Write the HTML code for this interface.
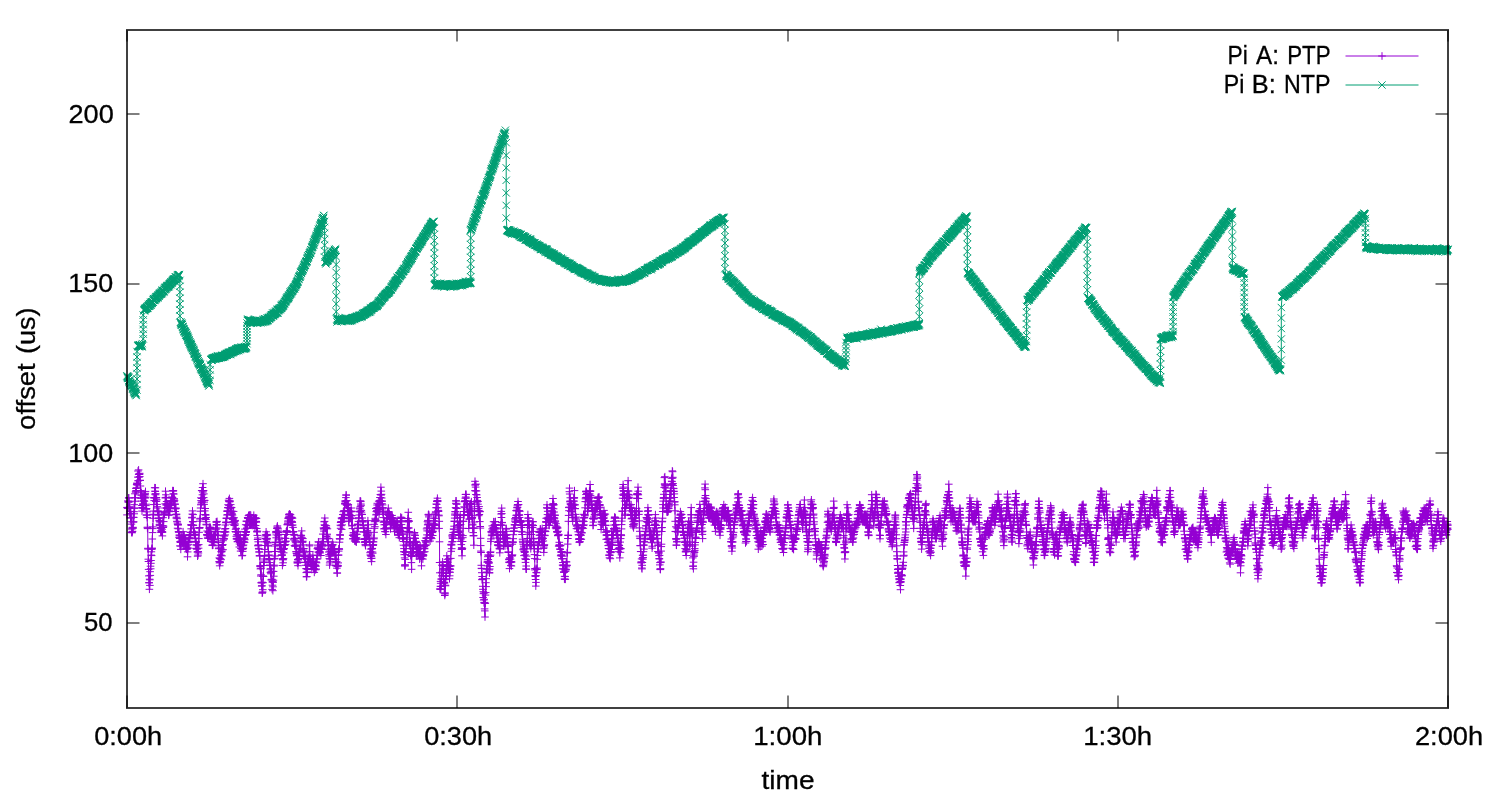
<!DOCTYPE html>
<html><head><meta charset="utf-8"><title>offset plot</title>
<style>
html,body{margin:0;padding:0;background:#fff;}
svg{display:block;}
text{font-family:"Liberation Sans",sans-serif;fill:#000;}
</style></head><body>
<svg width="1500" height="800" viewBox="0 0 1500 800">
<rect width="1500" height="800" fill="#fff"/>
<defs>
<marker id="mp" markerUnits="userSpaceOnUse" markerWidth="10" markerHeight="10" refX="5" refY="5" viewBox="0 0 10 10"><path d="M1.2 5H8.8M5 1.2V8.8" stroke="#9400D3" stroke-width="1" fill="none"/></marker>
<marker id="mx" markerUnits="userSpaceOnUse" markerWidth="10" markerHeight="10" refX="5" refY="5" viewBox="0 0 10 10"><path d="M1.35 1.35L8.65 8.65M1.35 8.65L8.65 1.35" stroke="#009E73" stroke-width="1" fill="none"/></marker>
</defs>
<!--TICKS-->
<g stroke="#000" stroke-opacity="0.5" stroke-width="2" fill="none">
<path d="M127 114H139.5M127 284H139.5M127 453H139.5M127 623H139.5"/>
<path d="M1448 114H1435.5M1448 284H1435.5M1448 453H1435.5M1448 623H1435.5"/>
<path d="M127 708V695.5M457 708V695.5M788 708V695.5M1118 708V695.5M1448 708V695.5"/>
<path d="M127 30V41.5M457 30V41.5M788 30V41.5M1118 30V41.5M1448 30V41.5"/>
</g>
<!--DATA-->
<polyline points="127.0,514.9 127.2,507.5 127.4,507.4 127.6,508.2 127.7,508.1 127.9,500.9 128.1,507.7 128.3,502.1 128.5,501.8 128.7,497.9 128.8,497.9 129.0,501.9 129.2,508.2 129.4,508.1 129.6,507.1 129.8,513.8 129.9,506.9 130.1,513.5 130.3,511.4 130.5,511.6 130.7,517.7 130.9,511.6 131.0,521.8 131.2,518.1 131.4,524.1 131.6,532.5 131.8,529.1 132.0,528.0 132.1,532.8 132.3,531.7 132.5,531.3 132.7,528.1 132.9,527.3 133.1,528.1 133.2,517.3 133.4,522.2 133.6,521.7 133.8,517.4 134.0,511.7 134.2,513.8 134.3,504.7 134.5,508.3 134.7,508.0 134.9,493.8 135.1,501.2 135.3,497.7 135.4,497.9 135.6,491.9 135.8,492.0 136.0,488.5 136.2,490.7 136.4,490.6 136.5,487.7 136.7,484.5 136.9,483.1 137.1,483.9 137.3,485.2 137.5,483.6 137.6,483.9 137.8,477.1 138.0,471.0 138.2,480.8 138.4,480.7 138.6,469.9 138.7,474.4 138.9,474.1 139.1,477.1 139.3,474.1 139.5,474.5 139.7,473.3 139.8,476.6 140.0,480.3 140.2,480.4 140.4,486.0 140.6,490.7 140.8,495.0 140.9,490.9 141.1,498.4 141.3,492.8 141.5,501.1 141.7,495.2 141.9,505.5 142.0,511.1 142.2,507.5 142.4,508.2 142.6,497.2 142.8,507.8 143.0,503.7 143.1,504.6 143.3,504.6 143.5,505.5 143.7,508.2 143.9,500.8 144.1,494.4 144.2,497.1 144.4,501.2 144.6,497.7 144.8,494.7 145.0,494.9 145.2,493.3 145.3,498.0 145.5,491.4 145.7,497.2 145.9,505.6 146.1,504.2 146.3,509.3 146.4,515.2 146.6,508.5 146.8,514.9 147.0,511.9 147.2,517.6 147.4,527.9 147.5,527.2 147.7,528.6 147.9,548.3 148.1,549.1 148.3,559.2 148.5,561.5 148.6,569.4 148.8,575.9 149.0,582.7 149.2,582.8 149.4,589.3 149.6,579.2 149.8,579.8 149.9,585.4 150.1,571.7 150.3,575.4 150.5,566.2 150.7,568.8 150.9,563.3 151.0,560.5 151.2,555.1 151.4,551.8 151.6,555.6 151.8,549.4 152.0,548.6 152.1,548.1 152.3,539.0 152.5,532.6 152.7,526.9 152.9,528.6 153.1,518.3 153.2,514.3 153.4,511.1 153.6,514.9 153.8,504.6 154.0,497.7 154.2,500.6 154.3,498.0 154.5,497.5 154.7,487.7 154.9,494.1 155.1,491.1 155.3,491.5 155.4,487.8 155.6,494.8 155.8,493.7 156.0,501.5 156.2,498.0 156.4,497.5 156.5,501.1 156.7,499.7 156.9,508.0 157.1,504.4 157.3,506.7 157.5,511.7 157.6,511.0 157.8,511.5 158.0,511.2 158.2,515.0 158.4,514.8 158.6,518.0 158.7,518.4 158.9,511.8 159.1,520.3 159.3,525.0 159.5,521.2 159.7,524.3 159.8,525.7 160.0,522.1 160.2,521.0 160.4,527.7 160.6,532.2 160.8,528.0 160.9,528.1 161.1,530.6 161.3,528.3 161.5,532.3 161.7,531.5 161.9,531.7 162.0,529.3 162.2,532.2 162.4,535.9 162.6,532.1 162.8,525.6 163.0,527.4 163.1,517.7 163.3,527.4 163.5,526.2 163.7,521.6 163.9,514.7 164.1,514.4 164.2,514.2 164.4,513.2 164.6,512.6 164.8,511.3 165.0,508.0 165.2,503.8 165.3,497.8 165.5,491.2 165.7,497.8 165.9,494.8 166.1,497.4 166.3,504.8 166.4,505.1 166.6,501.5 166.8,508.2 167.0,507.9 167.2,504.1 167.4,508.3 167.5,507.8 167.7,504.1 167.9,505.0 168.1,503.7 168.3,507.7 168.5,508.4 168.6,515.3 168.8,511.2 169.0,514.8 169.2,511.7 169.4,504.6 169.6,511.0 169.7,504.8 169.9,511.5 170.1,508.0 170.3,505.2 170.5,508.2 170.7,501.0 170.8,504.7 171.0,505.7 171.2,500.8 171.4,504.5 171.6,497.4 171.8,501.4 172.0,497.1 172.1,501.5 172.3,498.2 172.5,497.4 172.7,490.6 172.9,500.4 173.1,491.1 173.2,493.8 173.4,490.7 173.6,501.0 173.8,494.0 174.0,501.7 174.2,498.7 174.3,500.0 174.5,500.8 174.7,508.1 174.9,504.0 175.1,504.3 175.3,511.5 175.4,508.8 175.6,508.6 175.8,514.6 176.0,508.1 176.2,518.0 176.4,514.7 176.5,514.1 176.7,517.2 176.9,521.3 177.1,518.7 177.3,522.0 177.5,523.9 177.6,528.2 177.8,524.6 178.0,525.1 178.2,524.3 178.4,528.8 178.6,531.6 178.7,532.0 178.9,532.2 179.1,537.4 179.3,535.0 179.5,535.9 179.7,538.5 179.8,545.9 180.0,535.3 180.2,541.6 180.4,542.0 180.6,542.5 180.8,549.4 180.9,546.1 181.1,541.3 181.3,535.6 181.5,541.1 181.7,538.4 181.9,538.4 182.0,538.8 182.2,538.7 182.4,542.6 182.6,541.6 182.8,542.4 183.0,538.7 183.1,531.7 183.3,541.2 183.5,542.2 183.7,535.3 183.9,535.5 184.1,541.9 184.2,535.0 184.4,542.1 184.6,538.8 184.8,538.9 185.0,542.9 185.2,538.2 185.3,543.0 185.5,543.7 185.7,539.0 185.9,548.2 186.1,546.4 186.3,548.2 186.4,549.3 186.6,548.1 186.8,548.0 187.0,545.7 187.2,549.1 187.4,548.3 187.5,556.8 187.7,551.9 187.9,542.7 188.1,548.1 188.3,544.7 188.5,541.9 188.6,541.3 188.8,542.1 189.0,537.3 189.2,538.6 189.4,538.2 189.6,534.6 189.7,538.6 189.9,538.4 190.1,534.9 190.3,532.2 190.5,535.3 190.7,535.3 190.8,532.4 191.0,524.9 191.2,528.8 191.4,524.7 191.6,525.3 191.8,525.2 191.9,517.9 192.1,517.3 192.3,514.1 192.5,510.9 192.7,521.9 192.9,521.5 193.1,514.6 193.2,525.2 193.4,525.3 193.6,532.5 193.8,528.0 194.0,532.0 194.2,532.1 194.3,534.6 194.5,535.2 194.7,534.6 194.9,535.0 195.1,538.7 195.3,534.2 195.4,538.0 195.6,541.4 195.8,541.9 196.0,548.3 196.2,542.1 196.4,544.8 196.5,545.0 196.7,549.0 196.9,548.8 197.1,548.8 197.3,552.0 197.5,545.8 197.6,556.2 197.8,551.9 198.0,555.1 198.2,551.5 198.4,553.0 198.6,548.2 198.7,544.6 198.9,538.6 199.1,532.3 199.3,527.7 199.5,528.3 199.7,527.5 199.8,521.2 200.0,519.0 200.2,518.3 200.4,511.2 200.6,508.0 200.8,504.8 200.9,497.8 201.1,500.6 201.3,504.0 201.5,502.3 201.7,490.6 201.9,498.5 202.0,490.6 202.2,501.9 202.4,494.8 202.6,487.5 202.8,492.1 203.0,483.7 203.1,490.9 203.3,490.6 203.5,490.6 203.7,497.6 203.9,493.9 204.1,504.4 204.2,502.1 204.4,500.3 204.6,500.5 204.8,510.9 205.0,514.5 205.2,508.5 205.3,518.6 205.5,515.0 205.7,514.9 205.9,519.5 206.1,517.5 206.3,524.3 206.4,524.9 206.6,521.7 206.8,535.0 207.0,534.6 207.2,531.0 207.4,535.0 207.5,534.7 207.7,538.2 207.9,537.9 208.1,535.8 208.3,532.0 208.5,532.7 208.6,534.8 208.8,531.8 209.0,538.4 209.2,528.3 209.4,531.6 209.6,528.2 209.7,527.3 209.9,531.6 210.1,528.7 210.3,527.3 210.5,528.1 210.7,535.4 210.8,529.0 211.0,538.5 211.2,535.4 211.4,536.1 211.6,539.2 211.8,541.6 211.9,538.2 212.1,539.1 212.3,545.4 212.5,545.0 212.7,538.4 212.9,542.1 213.0,545.2 213.2,541.8 213.4,535.0 213.6,541.1 213.8,539.4 214.0,539.2 214.1,542.7 214.3,535.0 214.5,535.2 214.7,535.4 214.9,535.6 215.1,534.1 215.3,535.3 215.4,531.2 215.6,535.1 215.8,528.0 216.0,529.3 216.2,521.8 216.4,524.9 216.5,522.3 216.7,524.9 216.9,524.5 217.1,521.4 217.3,528.1 217.5,531.7 217.6,535.6 217.8,531.7 218.0,535.1 218.2,542.4 218.4,542.0 218.6,545.8 218.7,548.7 218.9,548.0 219.1,561.6 219.3,557.9 219.5,562.9 219.7,565.8 219.8,558.6 220.0,561.7 220.2,562.4 220.4,558.8 220.6,555.6 220.8,555.0 220.9,548.1 221.1,559.7 221.3,551.5 221.5,552.0 221.7,549.4 221.9,551.1 222.0,555.8 222.2,545.3 222.4,545.2 222.6,538.6 222.8,544.6 223.0,540.7 223.1,549.7 223.3,538.3 223.5,539.0 223.7,535.7 223.9,538.7 224.1,532.0 224.2,538.9 224.4,536.0 224.6,532.0 224.8,529.0 225.0,531.6 225.2,534.9 225.3,525.0 225.5,528.5 225.7,532.0 225.9,522.6 226.1,522.0 226.3,518.2 226.4,522.6 226.6,518.3 226.8,518.4 227.0,515.0 227.2,511.2 227.4,510.8 227.5,511.5 227.7,514.6 227.9,507.5 228.1,504.7 228.3,507.9 228.5,507.7 228.6,500.2 228.8,501.1 229.0,505.6 229.2,501.7 229.4,498.4 229.6,501.2 229.7,501.8 229.9,507.6 230.1,501.0 230.3,508.3 230.5,507.2 230.7,504.6 230.8,511.5 231.0,512.3 231.2,507.6 231.4,518.4 231.6,507.6 231.8,511.1 231.9,513.3 232.1,514.3 232.3,518.8 232.5,515.1 232.7,518.2 232.9,519.5 233.0,521.8 233.2,524.3 233.4,518.1 233.6,511.4 233.8,522.4 234.0,517.7 234.1,521.8 234.3,525.5 234.5,521.1 234.7,521.6 234.9,523.8 235.1,525.0 235.2,520.4 235.4,531.5 235.6,529.3 235.8,531.9 236.0,531.8 236.2,528.4 236.3,536.3 236.5,538.8 236.7,539.1 236.9,538.3 237.1,534.9 237.3,534.5 237.5,541.8 237.6,541.5 237.8,539.0 238.0,532.1 238.2,535.0 238.4,531.4 238.6,540.3 238.7,538.2 238.9,538.7 239.1,538.9 239.3,547.0 239.5,544.0 239.7,538.6 239.8,541.3 240.0,538.4 240.2,534.9 240.4,542.2 240.6,551.1 240.8,548.4 240.9,545.8 241.1,545.4 241.3,544.8 241.5,548.9 241.7,542.0 241.9,541.4 242.0,555.8 242.2,549.0 242.4,555.4 242.6,549.2 242.8,551.4 243.0,545.7 243.1,548.6 243.3,548.2 243.5,545.0 243.7,539.1 243.9,541.6 244.1,538.3 244.2,534.8 244.4,538.1 244.6,542.4 244.8,539.7 245.0,529.1 245.2,535.4 245.3,535.5 245.5,531.5 245.7,524.7 245.9,534.5 246.1,532.5 246.3,531.5 246.4,521.2 246.6,521.2 246.8,528.4 247.0,528.0 247.2,525.0 247.4,521.6 247.5,525.7 247.7,517.5 247.9,518.3 248.1,517.8 248.3,517.9 248.5,515.7 248.6,518.5 248.8,518.0 249.0,515.0 249.2,524.9 249.4,515.4 249.6,521.3 249.7,525.2 249.9,524.8 250.1,514.8 250.3,524.9 250.5,524.6 250.7,525.0 250.8,515.3 251.0,517.8 251.2,521.3 251.4,518.4 251.6,524.5 251.8,522.0 251.9,525.3 252.1,523.7 252.3,517.8 252.5,521.0 252.7,522.0 252.9,525.5 253.0,524.3 253.2,521.2 253.4,524.9 253.6,518.0 253.8,515.2 254.0,522.1 254.1,521.9 254.3,518.8 254.5,518.7 254.7,521.5 254.9,528.1 255.1,517.8 255.2,518.6 255.4,518.6 255.6,525.5 255.8,518.0 256.0,521.3 256.2,521.7 256.3,522.2 256.5,518.4 256.7,528.5 256.9,531.3 257.1,532.0 257.3,535.4 257.4,531.2 257.6,539.5 257.8,538.0 258.0,545.8 258.2,541.8 258.4,545.4 258.5,544.9 258.7,548.4 258.9,549.1 259.1,552.0 259.3,551.9 259.5,555.9 259.7,555.8 259.8,555.5 260.0,565.8 260.2,566.6 260.4,568.9 260.6,565.8 260.8,576.0 260.9,568.3 261.1,574.8 261.3,582.6 261.5,583.0 261.7,586.1 261.9,585.7 262.0,582.2 262.2,593.2 262.4,592.6 262.6,591.9 262.8,589.7 263.0,582.7 263.1,576.0 263.3,576.4 263.5,576.5 263.7,562.5 263.9,565.5 264.1,561.1 264.2,559.0 264.4,555.4 264.6,556.2 264.8,549.4 265.0,545.5 265.2,535.9 265.3,541.9 265.5,538.5 265.7,534.7 265.9,538.3 266.1,531.8 266.3,539.1 266.4,541.5 266.6,535.6 266.8,539.8 267.0,534.4 267.2,538.4 267.4,535.1 267.5,542.4 267.7,543.0 267.9,546.0 268.1,545.3 268.3,551.6 268.5,552.0 268.6,555.4 268.8,559.0 269.0,555.0 269.2,559.7 269.4,558.5 269.6,562.6 269.7,559.0 269.9,565.0 270.1,569.1 270.3,565.6 270.5,572.3 270.7,572.8 270.8,568.8 271.0,573.8 271.2,579.8 271.4,571.9 271.6,571.1 271.8,579.9 271.9,579.3 272.1,589.4 272.3,582.0 272.5,585.2 272.7,581.6 272.9,590.7 273.0,586.8 273.2,582.3 273.4,580.2 273.6,571.4 273.8,576.2 274.0,566.0 274.1,565.2 274.3,558.6 274.5,551.5 274.7,558.9 274.9,546.0 275.1,556.0 275.2,542.1 275.4,542.5 275.6,544.3 275.8,532.8 276.0,531.7 276.2,537.8 276.3,534.9 276.5,531.4 276.7,531.8 276.9,528.5 277.1,527.1 277.3,532.4 277.4,525.9 277.6,527.8 277.8,532.5 278.0,535.8 278.2,528.9 278.4,532.6 278.5,531.0 278.7,532.1 278.9,537.9 279.1,539.8 279.3,534.6 279.5,534.4 279.6,542.5 279.8,545.6 280.0,548.7 280.2,542.0 280.4,545.6 280.6,549.6 280.7,548.3 280.9,545.0 281.1,548.4 281.3,555.4 281.5,552.1 281.7,551.4 281.9,548.8 282.0,554.8 282.2,555.3 282.4,565.5 282.6,558.7 282.8,559.7 283.0,559.7 283.1,562.8 283.3,549.5 283.5,558.7 283.7,552.8 283.9,548.6 284.1,548.8 284.2,545.4 284.4,544.5 284.6,538.2 284.8,545.2 285.0,542.1 285.2,538.4 285.3,541.4 285.5,544.6 285.7,538.5 285.9,534.5 286.1,541.2 286.3,531.7 286.4,531.8 286.6,531.3 286.8,530.7 287.0,531.9 287.2,532.2 287.4,524.7 287.5,524.7 287.7,523.7 287.9,522.0 288.1,520.9 288.3,518.6 288.5,517.8 288.6,518.1 288.8,514.7 289.0,517.2 289.2,516.3 289.4,513.9 289.6,514.8 289.7,514.3 289.9,518.0 290.1,518.9 290.3,517.1 290.5,514.7 290.7,521.8 290.8,521.6 291.0,518.4 291.2,521.1 291.4,517.3 291.6,517.4 291.8,517.9 291.9,525.3 292.1,521.6 292.3,522.4 292.5,518.2 292.7,525.0 292.9,531.8 293.0,527.4 293.2,532.0 293.4,534.5 293.6,531.5 293.8,539.8 294.0,534.4 294.1,538.6 294.3,535.3 294.5,545.4 294.7,538.5 294.9,538.2 295.1,546.4 295.2,540.8 295.4,541.3 295.6,542.7 295.8,545.6 296.0,544.9 296.2,551.6 296.3,551.9 296.5,553.5 296.7,555.7 296.9,554.9 297.1,555.6 297.3,561.9 297.4,563.1 297.6,562.4 297.8,559.5 298.0,565.7 298.2,560.0 298.4,562.5 298.5,559.0 298.7,554.9 298.9,551.8 299.1,552.3 299.3,558.6 299.5,550.0 299.6,548.7 299.8,551.6 300.0,549.2 300.2,548.4 300.4,538.7 300.6,538.4 300.7,548.3 300.9,535.9 301.1,535.2 301.3,535.7 301.5,538.3 301.7,530.9 301.8,537.8 302.0,538.2 302.2,541.8 302.4,541.9 302.6,542.2 302.8,541.2 302.9,538.6 303.1,551.4 303.3,544.9 303.5,550.1 303.7,556.2 303.9,548.5 304.1,556.4 304.2,552.8 304.4,555.9 304.6,556.3 304.8,555.3 305.0,562.2 305.2,558.4 305.3,555.8 305.5,558.2 305.7,565.3 305.9,562.5 306.1,568.7 306.3,572.6 306.4,576.8 306.6,568.5 306.8,576.6 307.0,568.6 307.2,571.9 307.4,572.5 307.5,569.6 307.7,565.2 307.9,561.8 308.1,558.6 308.3,558.4 308.5,562.3 308.6,561.8 308.8,558.7 309.0,559.0 309.2,555.2 309.4,545.9 309.6,544.9 309.7,551.6 309.9,556.6 310.1,563.1 310.3,562.3 310.5,559.3 310.7,562.4 310.8,565.3 311.0,562.6 311.2,562.4 311.4,566.3 311.6,564.6 311.8,569.5 311.9,565.7 312.1,565.2 312.3,562.0 312.5,562.0 312.7,564.9 312.9,555.1 313.0,566.1 313.2,564.8 313.4,565.4 313.6,560.9 313.8,568.7 314.0,565.8 314.1,569.0 314.3,572.4 314.5,565.0 314.7,569.3 314.9,565.1 315.1,566.1 315.2,565.7 315.4,565.4 315.6,569.8 315.8,562.0 316.0,566.2 316.2,569.1 316.3,562.2 316.5,562.8 316.7,559.1 316.9,558.8 317.1,555.4 317.3,555.6 317.4,548.7 317.6,545.1 317.8,548.1 318.0,547.2 318.2,552.0 318.4,541.8 318.5,549.3 318.7,542.1 318.9,552.7 319.1,549.6 319.3,548.6 319.5,551.6 319.6,549.1 319.8,548.3 320.0,551.9 320.2,552.9 320.4,549.0 320.6,549.3 320.7,544.5 320.9,555.5 321.1,549.3 321.3,548.0 321.5,548.8 321.7,545.5 321.8,544.0 322.0,549.5 322.2,544.9 322.4,545.2 322.6,546.2 322.8,534.1 322.9,538.8 323.1,541.6 323.3,541.9 323.5,527.9 323.7,529.1 323.9,531.1 324.0,528.5 324.2,521.8 324.4,524.9 324.6,521.4 324.8,518.0 325.0,525.5 325.1,525.2 325.3,528.3 325.5,527.7 325.7,528.4 325.9,528.6 326.1,528.3 326.3,525.7 326.4,527.3 326.6,536.5 326.8,535.0 327.0,537.9 327.2,534.2 327.4,528.8 327.5,538.8 327.7,541.8 327.9,538.5 328.1,538.6 328.3,545.0 328.5,549.3 328.6,545.6 328.8,552.0 329.0,554.6 329.2,556.2 329.4,558.6 329.6,565.1 329.7,562.9 329.9,559.1 330.1,551.0 330.3,561.3 330.5,551.8 330.7,554.8 330.8,548.6 331.0,553.5 331.2,546.9 331.4,548.7 331.6,549.1 331.8,552.6 331.9,545.2 332.1,544.5 332.3,545.9 332.5,552.0 332.7,542.1 332.9,549.1 333.0,544.8 333.2,553.0 333.4,552.1 333.6,552.2 333.8,551.8 334.0,552.5 334.1,552.6 334.3,551.8 334.5,549.0 334.7,551.8 334.9,551.4 335.1,555.3 335.2,559.2 335.4,559.1 335.6,559.4 335.8,565.3 336.0,555.3 336.2,562.3 336.3,566.0 336.5,565.6 336.7,561.7 336.9,568.2 337.1,573.1 337.3,573.0 337.4,565.3 337.6,566.4 337.8,565.6 338.0,565.9 338.2,562.9 338.4,555.2 338.5,555.0 338.7,551.1 338.9,548.8 339.1,548.9 339.3,549.2 339.5,542.2 339.6,538.6 339.8,539.1 340.0,534.6 340.2,535.3 340.4,525.2 340.6,528.3 340.7,522.5 340.9,521.8 341.1,525.7 341.3,522.1 341.5,518.1 341.7,529.4 341.8,518.8 342.0,521.6 342.2,524.9 342.4,517.6 342.6,518.1 342.8,514.6 342.9,521.7 343.1,514.5 343.3,511.7 343.5,518.1 343.7,517.3 343.9,511.1 344.0,514.3 344.2,510.7 344.4,518.0 344.6,515.3 344.8,504.0 345.0,503.5 345.1,501.1 345.3,502.9 345.5,500.9 345.7,501.4 345.9,497.6 346.1,494.9 346.2,495.2 346.4,504.5 346.6,505.3 346.8,500.6 347.0,504.7 347.2,503.9 347.4,508.1 347.5,504.3 347.7,511.5 347.9,507.4 348.1,511.5 348.3,504.7 348.5,514.5 348.6,521.1 348.8,510.7 349.0,521.3 349.2,518.4 349.4,514.7 349.6,511.5 349.7,518.9 349.9,518.0 350.1,518.3 350.3,515.2 350.5,511.7 350.7,518.4 350.8,511.4 351.0,515.8 351.2,508.0 351.4,511.2 351.6,511.7 351.8,525.9 351.9,515.6 352.1,518.2 352.3,525.4 352.5,528.6 352.7,535.2 352.9,538.9 353.0,535.5 353.2,538.6 353.4,532.7 353.6,534.9 353.8,535.9 354.0,536.3 354.1,532.9 354.3,535.3 354.5,535.0 354.7,541.0 354.9,538.5 355.1,539.9 355.2,537.6 355.4,541.1 355.6,539.0 355.8,538.9 356.0,534.1 356.2,541.9 356.3,542.1 356.5,537.7 356.7,539.0 356.9,534.4 357.1,539.1 357.3,531.8 357.4,524.6 357.6,524.1 357.8,528.2 358.0,528.3 358.2,528.3 358.4,524.6 358.5,521.4 358.7,518.7 358.9,517.7 359.1,511.3 359.3,515.0 359.5,508.0 359.6,511.9 359.8,508.9 360.0,501.0 360.2,511.5 360.4,506.4 360.6,501.0 360.7,501.6 360.9,504.0 361.1,505.3 361.3,510.4 361.5,512.1 361.7,514.5 361.8,514.2 362.0,514.5 362.2,518.0 362.4,521.0 362.6,520.8 362.8,521.3 362.9,522.1 363.1,525.2 363.3,525.7 363.5,528.0 363.7,528.1 363.9,528.2 364.0,531.8 364.2,532.0 364.4,539.5 364.6,542.3 364.8,538.6 365.0,542.6 365.1,541.5 365.3,544.6 365.5,545.7 365.7,542.0 365.9,538.6 366.1,532.2 366.2,541.7 366.4,541.8 366.6,535.3 366.8,538.9 367.0,535.7 367.2,535.2 367.3,531.9 367.5,530.4 367.7,532.4 367.9,520.7 368.1,528.3 368.3,533.1 368.4,524.8 368.6,534.2 368.8,536.0 369.0,538.2 369.2,538.4 369.4,538.4 369.6,538.9 369.7,542.3 369.9,541.8 370.1,552.7 370.3,555.0 370.5,549.0 370.7,551.7 370.8,555.8 371.0,558.5 371.2,555.2 371.4,556.3 371.6,561.6 371.8,558.2 371.9,549.0 372.1,548.5 372.3,548.4 372.5,552.0 372.7,553.2 372.9,544.7 373.0,541.7 373.2,545.4 373.4,544.8 373.6,541.9 373.8,538.8 374.0,538.0 374.1,532.3 374.3,524.3 374.5,528.3 374.7,521.7 374.9,526.7 375.1,520.6 375.2,518.3 375.4,519.6 375.6,521.2 375.8,508.6 376.0,514.9 376.2,520.8 376.3,511.6 376.5,514.3 376.7,508.0 376.9,510.6 377.1,505.0 377.3,503.3 377.4,507.9 377.6,512.1 377.8,508.3 378.0,507.8 378.2,511.3 378.4,507.8 378.5,509.5 378.7,501.2 378.9,504.6 379.1,514.4 379.3,507.7 379.5,504.9 379.6,500.9 379.8,500.8 380.0,497.5 380.2,504.4 380.4,494.5 380.6,497.6 380.7,501.1 380.9,487.2 381.1,495.1 381.3,491.1 381.5,494.3 381.7,498.0 381.8,501.2 382.0,503.7 382.2,501.1 382.4,508.9 382.6,504.9 382.8,512.0 382.9,507.6 383.1,514.0 383.3,511.0 383.5,522.3 383.7,517.6 383.9,521.1 384.0,528.9 384.2,524.8 384.4,521.4 384.6,528.5 384.8,521.6 385.0,531.6 385.1,528.5 385.3,524.5 385.5,531.7 385.7,528.7 385.9,534.5 386.1,524.8 386.2,527.7 386.4,528.7 386.6,518.5 386.8,518.7 387.0,522.1 387.2,518.7 387.3,518.6 387.5,514.3 387.7,511.9 387.9,514.3 388.1,512.7 388.3,508.1 388.4,511.7 388.6,514.1 388.8,515.4 389.0,512.0 389.2,513.9 389.4,514.5 389.5,521.3 389.7,517.8 389.9,518.9 390.1,519.4 390.3,524.4 390.5,528.9 390.6,518.0 390.8,515.5 391.0,523.6 391.2,521.3 391.4,522.2 391.6,524.5 391.8,522.2 391.9,517.9 392.1,515.4 392.3,521.9 392.5,517.9 392.7,524.5 392.9,518.1 393.0,522.2 393.2,518.2 393.4,521.2 393.6,523.4 393.8,524.1 394.0,528.2 394.1,521.8 394.3,521.0 394.5,531.7 394.7,524.7 394.9,524.1 395.1,525.2 395.2,527.7 395.4,524.5 395.6,525.6 395.8,524.3 396.0,521.9 396.2,522.2 396.3,525.5 396.5,525.2 396.7,524.8 396.9,527.6 397.1,528.4 397.3,525.2 397.4,521.3 397.6,531.2 397.8,532.2 398.0,527.7 398.2,535.3 398.4,534.8 398.5,534.2 398.7,529.2 398.9,532.1 399.1,532.0 399.3,537.7 399.5,528.3 399.6,531.9 399.8,527.9 400.0,529.2 400.2,530.6 400.4,521.9 400.6,517.1 400.7,527.5 400.9,520.8 401.1,518.5 401.3,521.1 401.5,524.6 401.7,517.6 401.8,527.5 402.0,531.2 402.2,527.8 402.4,531.5 402.6,538.3 402.8,533.8 402.9,534.7 403.1,539.1 403.3,538.2 403.5,545.2 403.7,541.5 403.9,551.7 404.0,548.6 404.2,554.7 404.4,551.9 404.6,557.9 404.8,565.8 405.0,564.7 405.1,565.9 405.3,559.4 405.5,554.5 405.7,552.4 405.9,551.8 406.1,545.9 406.2,544.9 406.4,541.7 406.6,541.7 406.8,539.1 407.0,537.4 407.2,532.1 407.3,528.3 407.5,521.2 407.7,521.4 407.9,518.6 408.1,522.0 408.3,512.3 408.4,527.9 408.6,520.5 408.8,528.0 409.0,531.6 409.2,521.3 409.4,532.3 409.5,543.1 409.7,531.9 409.9,544.2 410.1,542.4 410.3,541.5 410.5,548.6 410.6,545.7 410.8,555.6 411.0,555.4 411.2,555.6 411.4,562.6 411.6,569.3 411.7,556.5 411.9,553.7 412.1,551.6 412.3,548.3 412.5,549.1 412.7,552.1 412.8,545.7 413.0,547.8 413.2,541.7 413.4,552.4 413.6,538.4 413.8,541.6 414.0,542.0 414.1,542.7 414.3,533.9 414.5,532.5 414.7,535.2 414.9,538.0 415.1,535.4 415.2,538.5 415.4,542.5 415.6,544.8 415.8,542.4 416.0,541.3 416.2,542.0 416.3,555.8 416.5,548.6 416.7,549.0 416.9,551.7 417.1,556.0 417.3,551.7 417.4,544.8 417.6,548.5 417.8,548.6 418.0,548.1 418.2,549.0 418.4,551.9 418.5,548.9 418.7,554.6 418.9,554.7 419.1,548.5 419.3,548.1 419.5,551.9 419.6,559.1 419.8,556.0 420.0,556.2 420.2,545.7 420.4,555.0 420.6,555.7 420.7,555.1 420.9,555.7 421.1,558.2 421.3,556.1 421.5,565.8 421.7,558.6 421.8,554.6 422.0,555.5 422.2,555.1 422.4,555.5 422.6,555.0 422.8,555.1 422.9,559.1 423.1,556.2 423.3,554.7 423.5,555.3 423.7,552.2 423.9,548.5 424.0,545.0 424.2,546.4 424.4,548.2 424.6,548.8 424.8,551.7 425.0,545.2 425.1,540.6 425.3,545.7 425.5,545.1 425.7,541.3 425.9,542.7 426.1,545.1 426.2,538.1 426.4,538.0 426.6,528.9 426.8,538.5 427.0,534.9 427.2,530.9 427.3,527.8 427.5,521.7 427.7,524.9 427.9,520.4 428.1,524.4 428.3,514.8 428.4,523.0 428.6,514.3 428.8,516.9 429.0,515.1 429.2,524.6 429.4,530.9 429.5,532.0 429.7,528.1 429.9,534.5 430.1,541.1 430.3,535.0 430.5,535.1 430.6,537.5 430.8,535.6 431.0,537.7 431.2,532.4 431.4,528.5 431.6,531.6 431.7,538.6 431.9,531.3 432.1,531.6 432.3,532.6 432.5,528.0 432.7,535.5 432.8,531.2 433.0,531.7 433.2,525.4 433.4,520.8 433.6,518.3 433.8,523.7 433.9,524.3 434.1,528.0 434.3,528.8 434.5,525.3 434.7,521.0 434.9,524.8 435.0,525.0 435.2,513.9 435.4,518.3 435.6,512.1 435.8,512.0 436.0,514.4 436.2,507.7 436.3,504.0 436.5,507.7 436.7,504.4 436.9,501.5 437.1,501.2 437.3,500.6 437.4,498.2 437.6,501.6 437.8,500.8 438.0,507.8 438.2,511.3 438.4,510.4 438.5,511.4 438.7,515.1 438.9,515.8 439.1,528.4 439.3,521.3 439.5,541.8 439.6,562.5 439.8,572.8 440.0,588.8 440.2,589.4 440.4,586.3 440.6,581.4 440.7,583.3 440.9,589.2 441.1,586.4 441.3,579.1 441.5,579.0 441.7,572.3 441.8,575.9 442.0,572.8 442.2,565.4 442.4,565.0 442.6,561.8 442.8,565.0 442.9,566.0 443.1,568.4 443.3,569.8 443.5,575.8 443.7,579.1 443.9,583.2 444.0,582.3 444.2,582.4 444.4,593.1 444.6,582.9 444.8,595.5 445.0,594.0 445.1,593.0 445.3,585.2 445.5,585.8 445.7,579.6 445.9,575.9 446.1,576.2 446.2,570.3 446.4,576.3 446.6,573.5 446.8,555.8 447.0,561.8 447.2,566.4 447.3,561.8 447.5,559.3 447.7,562.5 447.9,565.1 448.1,565.2 448.3,568.9 448.4,565.8 448.6,569.7 448.8,558.8 449.0,566.6 449.2,566.1 449.4,572.0 449.5,578.8 449.7,575.8 449.9,568.7 450.1,572.3 450.3,569.4 450.5,565.7 450.6,566.1 450.8,558.4 451.0,544.8 451.2,551.3 451.4,544.3 451.6,545.0 451.7,548.7 451.9,541.8 452.1,535.1 452.3,536.2 452.5,537.9 452.7,538.3 452.8,541.6 453.0,534.6 453.2,532.4 453.4,538.5 453.6,529.0 453.8,534.5 453.9,529.3 454.1,526.2 454.3,521.1 454.5,521.5 454.7,518.1 454.9,515.1 455.0,514.0 455.2,511.6 455.4,511.8 455.6,507.6 455.8,503.3 456.0,500.8 456.1,501.0 456.3,508.4 456.5,504.2 456.7,504.0 456.9,508.3 457.1,515.0 457.2,515.2 457.4,518.2 457.6,522.1 457.8,525.2 458.0,527.3 458.2,531.8 458.4,525.4 458.5,531.7 458.7,532.5 458.9,538.2 459.1,535.5 459.3,531.0 459.5,524.9 459.6,524.6 459.8,521.0 460.0,517.4 460.2,514.9 460.4,521.8 460.6,524.6 460.7,534.4 460.9,541.4 461.1,538.9 461.3,544.6 461.5,549.3 461.7,547.7 461.8,548.8 462.0,555.8 462.2,549.3 462.4,548.4 462.6,541.5 462.8,537.7 462.9,535.6 463.1,528.3 463.3,521.3 463.5,521.3 463.7,511.5 463.9,514.8 464.0,515.4 464.2,506.8 464.4,501.7 464.6,507.7 464.8,501.2 465.0,501.0 465.1,501.2 465.3,498.2 465.5,494.5 465.7,497.0 465.9,494.4 466.1,494.4 466.2,498.0 466.4,501.2 466.6,501.2 466.8,505.2 467.0,504.0 467.2,509.2 467.3,504.3 467.5,504.0 467.7,515.2 467.9,512.0 468.1,515.5 468.3,512.2 468.4,515.0 468.6,514.8 468.8,528.5 469.0,514.8 469.2,511.1 469.4,519.0 469.5,519.2 469.7,504.6 469.9,511.3 470.1,511.1 470.3,503.7 470.5,511.0 470.6,504.3 470.8,504.6 471.0,504.0 471.2,503.6 471.4,501.6 471.6,515.7 471.7,506.8 471.9,511.3 472.1,518.6 472.3,517.5 472.5,524.2 472.7,525.0 472.8,528.2 473.0,528.0 473.2,532.6 473.4,535.9 473.6,535.5 473.8,545.2 473.9,528.2 474.1,522.0 474.3,511.3 474.5,508.8 474.7,501.9 474.9,490.7 475.0,481.3 475.2,485.1 475.4,484.6 475.6,487.1 475.8,490.9 476.0,484.1 476.1,494.5 476.3,494.5 476.5,490.9 476.7,494.9 476.9,502.0 477.1,497.5 477.2,500.4 477.4,501.4 477.6,501.2 477.8,501.5 478.0,504.2 478.2,511.6 478.3,510.9 478.5,508.6 478.7,515.7 478.9,510.9 479.1,506.6 479.3,514.5 479.5,511.1 479.6,511.5 479.8,521.6 480.0,511.7 480.2,526.5 480.4,528.1 480.6,538.3 480.7,545.6 480.9,551.1 481.1,552.5 481.3,565.3 481.5,568.3 481.7,568.6 481.8,572.7 482.0,579.7 482.2,576.5 482.4,579.5 482.6,578.8 482.8,586.3 482.9,589.3 483.1,597.5 483.3,591.7 483.5,593.7 483.7,600.0 483.9,593.0 484.0,602.9 484.2,599.3 484.4,602.4 484.6,608.9 484.8,610.9 485.0,617.0 485.1,603.3 485.3,603.2 485.5,595.1 485.7,592.6 485.9,582.7 486.1,586.6 486.2,578.7 486.4,572.6 486.6,568.9 486.8,569.1 487.0,572.0 487.2,565.9 487.3,562.3 487.5,561.3 487.7,559.6 487.9,556.7 488.1,555.0 488.3,559.5 488.4,561.7 488.6,555.2 488.8,563.3 489.0,562.4 489.2,569.9 489.4,572.6 489.5,573.0 489.7,569.0 489.9,566.5 490.1,556.5 490.3,552.5 490.5,555.2 490.6,551.9 490.8,541.4 491.0,538.9 491.2,532.1 491.4,531.4 491.6,535.7 491.7,534.9 491.9,532.8 492.1,528.9 492.3,525.9 492.5,531.4 492.7,531.2 492.8,530.8 493.0,535.5 493.2,527.8 493.4,529.1 493.6,521.7 493.8,528.8 493.9,527.7 494.1,528.1 494.3,525.1 494.5,525.4 494.7,527.7 494.9,521.8 495.0,524.6 495.2,525.5 495.4,521.5 495.6,524.9 495.8,528.6 496.0,529.0 496.1,531.7 496.3,532.5 496.5,527.9 496.7,532.0 496.9,538.0 497.1,535.3 497.2,534.7 497.4,535.2 497.6,542.3 497.8,544.8 498.0,534.2 498.2,545.3 498.3,545.6 498.5,542.1 498.7,541.5 498.9,542.4 499.1,545.2 499.3,545.8 499.4,548.3 499.6,549.0 499.8,552.8 500.0,548.4 500.2,538.4 500.4,538.9 500.5,535.5 500.7,525.2 500.9,524.9 501.1,514.0 501.3,511.4 501.5,517.5 501.7,508.1 501.8,513.6 502.0,522.4 502.2,522.7 502.4,525.3 502.6,534.7 502.8,531.6 502.9,532.3 503.1,535.5 503.3,541.6 503.5,546.0 503.7,539.0 503.9,545.6 504.0,541.8 504.2,538.6 504.4,541.6 504.6,535.3 504.8,538.2 505.0,546.0 505.1,538.6 505.3,542.1 505.5,538.7 505.7,535.4 505.9,537.8 506.1,529.1 506.2,528.4 506.4,534.9 506.6,531.3 506.8,534.8 507.0,541.6 507.2,545.4 507.3,538.1 507.5,538.6 507.7,545.4 507.9,545.0 508.1,546.5 508.3,552.1 508.4,552.3 508.6,552.2 508.8,562.2 509.0,559.3 509.2,559.7 509.4,558.9 509.5,568.6 509.7,562.6 509.9,557.7 510.1,562.4 510.3,562.2 510.5,559.1 510.6,561.5 510.8,565.4 511.0,561.7 511.2,562.0 511.4,566.0 511.6,555.4 511.7,562.0 511.9,556.1 512.1,555.5 512.3,544.2 512.5,554.9 512.7,542.2 512.8,542.2 513.0,542.1 513.2,538.7 513.4,534.7 513.6,528.3 513.8,531.1 513.9,531.3 514.1,531.3 514.3,527.9 514.5,524.8 514.7,524.8 514.9,521.1 515.0,518.8 515.2,524.7 515.4,519.0 515.6,522.1 515.8,517.5 516.0,522.1 516.1,510.6 516.3,515.6 516.5,515.0 516.7,510.9 516.9,510.2 517.1,507.8 517.2,507.3 517.4,505.2 517.6,507.3 517.8,504.5 518.0,501.5 518.2,504.6 518.3,504.7 518.5,504.5 518.7,515.2 518.9,510.9 519.1,515.1 519.3,510.7 519.4,514.9 519.6,517.5 519.8,511.3 520.0,521.9 520.2,522.2 520.4,520.6 520.5,521.1 520.7,521.0 520.9,525.6 521.1,521.1 521.3,521.9 521.5,531.4 521.6,527.5 521.8,525.0 522.0,534.5 522.2,532.1 522.4,525.4 522.6,539.2 522.7,541.3 522.9,542.7 523.1,549.2 523.3,544.3 523.5,549.9 523.7,546.2 523.9,548.1 524.0,555.6 524.2,551.3 524.4,552.0 524.6,548.8 524.8,552.4 525.0,551.6 525.1,558.8 525.3,554.9 525.5,562.4 525.7,559.2 525.9,569.0 526.1,559.5 526.2,566.0 526.4,569.2 526.6,556.1 526.8,544.6 527.0,545.3 527.2,540.9 527.3,538.5 527.5,524.7 527.7,525.4 527.9,514.5 528.1,521.2 528.3,518.1 528.4,518.1 528.6,525.2 528.8,524.5 529.0,520.7 529.2,534.2 529.4,532.3 529.5,527.6 529.7,541.6 529.9,544.7 530.1,545.8 530.3,545.0 530.5,542.6 530.6,544.9 530.8,548.8 531.0,542.3 531.2,545.8 531.4,534.5 531.6,538.3 531.7,538.5 531.9,527.3 532.1,525.3 532.3,525.1 532.5,525.2 532.7,527.6 532.8,521.6 533.0,521.8 533.2,525.5 533.4,531.4 533.6,538.9 533.8,543.0 533.9,545.0 534.1,548.4 534.3,548.5 534.5,554.6 534.7,558.6 534.9,569.9 535.0,568.5 535.2,575.7 535.4,576.4 535.6,579.5 535.8,586.1 536.0,582.4 536.1,575.7 536.3,572.4 536.5,572.8 536.7,569.1 536.9,569.5 537.1,568.0 537.2,559.3 537.4,551.8 537.6,555.5 537.8,545.0 538.0,545.6 538.2,548.6 538.3,549.0 538.5,541.5 538.7,542.0 538.9,542.6 539.1,532.3 539.3,538.3 539.4,535.2 539.6,541.7 539.8,531.7 540.0,535.1 540.2,529.0 540.4,532.0 540.5,529.1 540.7,532.6 540.9,531.0 541.1,531.9 541.3,534.9 541.5,537.6 541.6,537.9 541.8,541.6 542.0,539.4 542.2,528.4 542.4,535.0 542.6,531.7 542.7,538.1 542.9,545.4 543.1,538.5 543.3,541.0 543.5,548.4 543.7,547.1 543.8,552.4 544.0,545.2 544.2,545.6 544.4,544.8 544.6,535.2 544.8,535.6 544.9,530.9 545.1,531.3 545.3,531.5 545.5,531.6 545.7,528.1 545.9,521.7 546.1,522.1 546.2,518.3 546.4,522.1 546.6,525.5 546.8,507.7 547.0,504.8 547.2,518.0 547.3,508.3 547.5,514.6 547.7,511.3 547.9,519.1 548.1,521.5 548.3,517.3 548.4,521.6 548.6,518.3 548.8,521.3 549.0,525.0 549.2,525.5 549.4,517.9 549.5,518.1 549.7,521.2 549.9,521.7 550.1,521.5 550.3,517.7 550.5,521.5 550.6,519.2 550.8,517.2 551.0,514.0 551.2,515.0 551.4,507.3 551.6,519.2 551.7,514.0 551.9,510.7 552.1,511.1 552.3,512.0 552.5,508.4 552.7,504.9 552.8,504.8 553.0,498.5 553.2,503.6 553.4,504.8 553.6,508.8 553.8,517.6 553.9,504.8 554.1,512.0 554.3,518.8 554.5,518.1 554.7,522.6 554.9,515.0 555.0,515.4 555.2,521.0 555.4,521.2 555.6,527.9 555.8,525.9 556.0,523.7 556.1,527.4 556.3,528.8 556.5,528.4 556.7,526.8 556.9,531.5 557.1,531.6 557.2,532.4 557.4,527.3 557.6,528.1 557.8,535.7 558.0,535.5 558.2,531.2 558.3,535.0 558.5,534.3 558.7,546.0 558.9,534.9 559.1,546.0 559.3,542.3 559.4,544.8 559.6,545.2 559.8,545.6 560.0,548.9 560.2,549.5 560.4,545.9 560.5,545.5 560.7,555.8 560.9,555.1 561.1,551.8 561.3,552.4 561.5,555.6 561.6,554.9 561.8,558.8 562.0,551.6 562.2,558.6 562.4,556.2 562.6,565.1 562.7,568.7 562.9,562.5 563.1,565.7 563.3,569.1 563.5,564.9 563.7,565.6 563.8,572.2 564.0,572.0 564.2,572.1 564.4,579.0 564.6,576.3 564.8,570.0 564.9,579.3 565.1,576.6 565.3,579.3 565.5,571.6 565.7,569.1 565.9,569.7 566.0,569.8 566.2,561.8 566.4,566.8 566.6,561.9 566.8,565.2 567.0,565.4 567.1,552.9 567.3,552.3 567.5,552.6 567.7,544.1 567.9,538.5 568.1,535.1 568.3,535.5 568.4,521.3 568.6,515.4 568.8,507.6 569.0,510.7 569.2,507.1 569.4,491.7 569.5,488.1 569.7,494.0 569.9,501.8 570.1,501.1 570.3,497.8 570.5,503.8 570.6,504.3 570.8,501.3 571.0,511.5 571.2,504.3 571.4,505.2 571.6,508.8 571.7,504.2 571.9,511.6 572.1,517.4 572.3,511.6 572.5,517.7 572.7,521.5 572.8,514.9 573.0,507.9 573.2,505.2 573.4,504.2 573.6,501.0 573.8,498.0 573.9,501.2 574.1,498.0 574.3,497.7 574.5,490.6 574.7,505.0 574.9,504.7 575.0,508.5 575.2,508.7 575.4,518.0 575.6,514.4 575.8,521.3 576.0,521.2 576.1,517.1 576.3,519.1 576.5,528.6 576.7,526.2 576.9,521.3 577.1,525.3 577.2,525.1 577.4,524.9 577.6,528.9 577.8,528.4 578.0,528.3 578.2,531.8 578.3,527.2 578.5,534.8 578.7,534.8 578.9,539.4 579.1,538.8 579.3,542.3 579.4,538.9 579.6,541.8 579.8,539.4 580.0,541.8 580.2,534.4 580.4,538.9 580.5,539.2 580.7,535.2 580.9,535.3 581.1,532.3 581.3,539.3 581.5,528.7 581.6,532.6 581.8,528.5 582.0,532.9 582.2,527.6 582.4,525.5 582.6,521.7 582.7,525.0 582.9,520.9 583.1,525.5 583.3,528.3 583.5,514.3 583.7,517.9 583.8,521.5 584.0,525.0 584.2,517.7 584.4,517.7 584.6,515.0 584.8,514.8 584.9,515.8 585.1,507.8 585.3,501.6 585.5,498.8 585.7,497.7 585.9,491.6 586.0,494.6 586.2,491.1 586.4,491.9 586.6,497.3 586.8,494.1 587.0,493.5 587.1,497.8 587.3,501.8 587.5,511.3 587.7,505.1 587.9,511.0 588.1,508.6 588.2,497.8 588.4,504.4 588.6,498.7 588.8,497.8 589.0,494.8 589.2,504.7 589.4,491.4 589.5,491.1 589.7,493.8 589.9,491.2 590.1,484.5 590.3,491.3 590.5,491.0 590.6,495.4 590.8,500.9 591.0,497.9 591.2,501.4 591.4,507.5 591.6,497.2 591.7,505.0 591.9,508.4 592.1,504.7 592.3,510.6 592.5,511.3 592.7,518.3 592.8,518.5 593.0,525.6 593.2,525.2 593.4,522.1 593.6,519.1 593.8,517.0 593.9,518.7 594.1,511.2 594.3,518.4 594.5,514.9 594.7,514.3 594.9,507.5 595.0,511.6 595.2,514.7 595.4,511.8 595.6,504.4 595.8,509.2 596.0,507.9 596.1,509.1 596.3,504.2 596.5,508.3 596.7,505.2 596.9,503.9 597.1,500.7 597.2,504.8 597.4,508.6 597.6,502.0 597.8,504.9 598.0,498.4 598.2,497.2 598.3,497.6 598.5,502.0 598.7,497.6 598.9,504.5 599.1,496.9 599.3,504.5 599.4,507.2 599.6,511.6 599.8,505.4 600.0,504.8 600.2,514.9 600.4,507.8 600.5,515.1 600.7,514.2 600.9,517.9 601.1,529.5 601.3,524.3 601.5,521.3 601.6,514.1 601.8,522.2 602.0,518.1 602.2,517.5 602.4,524.3 602.6,515.4 602.7,521.9 602.9,518.6 603.1,514.8 603.3,525.4 603.5,515.5 603.7,518.5 603.8,517.3 604.0,510.4 604.2,514.0 604.4,514.9 604.6,520.8 604.8,521.0 604.9,521.6 605.1,521.1 605.3,514.1 605.5,525.5 605.7,525.2 605.9,532.2 606.0,532.2 606.2,539.3 606.4,535.1 606.6,535.0 606.8,530.8 607.0,535.0 607.1,531.4 607.3,539.1 607.5,535.5 607.7,539.3 607.9,539.1 608.1,542.5 608.2,545.6 608.4,542.0 608.6,548.5 608.8,545.3 609.0,555.0 609.2,548.9 609.3,555.4 609.5,557.8 609.7,543.9 609.9,551.7 610.1,555.2 610.3,558.7 610.4,552.7 610.6,551.7 610.8,544.6 611.0,552.3 611.2,542.4 611.4,549.5 611.6,531.2 611.7,535.0 611.9,545.1 612.1,542.7 612.3,535.5 612.5,545.3 612.7,538.9 612.8,538.3 613.0,531.6 613.2,535.1 613.4,531.5 613.6,521.4 613.8,528.5 613.9,525.1 614.1,529.1 614.3,528.8 614.5,518.1 614.7,517.0 614.9,517.4 615.0,517.9 615.2,518.0 615.4,520.9 615.6,524.7 615.8,525.0 616.0,531.4 616.1,531.6 616.3,528.3 616.5,528.0 616.7,534.6 616.9,531.6 617.1,535.2 617.2,534.6 617.4,530.6 617.6,538.0 617.8,535.4 618.0,541.0 618.2,542.4 618.3,551.7 618.5,548.7 618.7,544.9 618.9,549.0 619.1,548.7 619.3,545.5 619.4,547.6 619.6,549.0 619.8,557.9 620.0,548.5 620.2,542.1 620.4,548.6 620.5,552.3 620.7,538.6 620.9,548.7 621.1,534.7 621.3,535.6 621.5,528.9 621.6,524.6 621.8,521.1 622.0,518.2 622.2,511.0 622.4,511.4 622.6,498.2 622.7,494.8 622.9,488.4 623.1,484.5 623.3,487.1 623.5,490.6 623.7,491.3 623.8,495.4 624.0,494.2 624.2,493.9 624.4,498.5 624.6,501.1 624.8,508.3 624.9,515.3 625.1,514.2 625.3,507.8 625.5,507.7 625.7,504.9 625.9,508.3 626.0,504.3 626.2,504.9 626.4,500.3 626.6,501.4 626.8,504.8 627.0,494.4 627.1,497.0 627.3,494.4 627.5,497.2 627.7,498.6 627.9,490.9 628.1,480.7 628.2,494.4 628.4,498.1 628.6,491.1 628.8,498.1 629.0,497.3 629.2,495.0 629.3,504.3 629.5,508.4 629.7,508.1 629.9,505.1 630.1,507.9 630.3,507.2 630.4,510.8 630.6,507.9 630.8,515.5 631.0,514.5 631.2,504.6 631.4,518.8 631.5,514.5 631.7,514.9 631.9,518.3 632.1,511.0 632.3,518.3 632.5,511.9 632.6,518.7 632.8,524.7 633.0,526.4 633.2,521.7 633.4,521.4 633.6,527.9 633.8,524.4 633.9,525.3 634.1,523.4 634.3,518.1 634.5,520.8 634.7,511.3 634.9,521.5 635.0,510.7 635.2,514.2 635.4,515.4 635.6,517.9 635.8,518.1 636.0,514.6 636.1,515.2 636.3,512.0 636.5,508.4 636.7,498.1 636.9,494.7 637.1,493.8 637.2,498.5 637.4,494.1 637.6,494.0 637.8,494.2 638.0,487.2 638.2,491.2 638.3,494.8 638.5,498.5 638.7,511.3 638.9,514.4 639.1,511.2 639.3,520.9 639.4,527.9 639.6,536.1 639.8,531.3 640.0,538.2 640.2,545.6 640.4,538.6 640.5,545.7 640.7,551.6 640.9,551.5 641.1,562.9 641.3,561.9 641.5,562.2 641.6,558.9 641.8,568.0 642.0,568.9 642.2,565.3 642.4,562.5 642.6,555.3 642.7,557.7 642.9,559.2 643.1,557.5 643.3,555.2 643.5,551.7 643.7,544.9 643.8,545.3 644.0,549.1 644.2,541.4 644.4,534.8 644.6,538.9 644.8,542.1 644.9,538.8 645.1,535.3 645.3,531.6 645.5,531.4 645.7,534.8 645.9,528.8 646.0,525.7 646.2,525.9 646.4,517.6 646.6,521.4 646.8,518.1 647.0,521.4 647.1,517.6 647.3,519.3 647.5,522.3 647.7,511.3 647.9,507.7 648.1,514.7 648.2,510.7 648.4,514.6 648.6,515.1 648.8,522.4 649.0,525.4 649.2,518.8 649.3,527.8 649.5,530.0 649.7,535.8 649.9,531.8 650.1,531.7 650.3,539.3 650.4,531.2 650.6,534.6 650.8,538.1 651.0,539.3 651.2,539.0 651.4,534.2 651.5,542.7 651.7,538.5 651.9,538.7 652.1,548.2 652.3,546.2 652.5,538.7 652.6,539.2 652.8,538.0 653.0,538.8 653.2,531.7 653.4,538.4 653.6,538.1 653.7,534.7 653.9,531.1 654.1,531.4 654.3,531.7 654.5,525.2 654.7,524.1 654.8,521.0 655.0,524.6 655.2,520.7 655.4,514.6 655.6,518.0 655.8,528.2 656.0,521.7 656.1,525.4 656.3,525.3 656.5,535.2 656.7,532.0 656.9,534.7 657.1,531.2 657.2,538.8 657.4,542.2 657.6,543.0 657.8,538.4 658.0,551.5 658.2,545.4 658.3,545.0 658.5,551.6 658.7,552.8 658.9,553.0 659.1,555.6 659.3,558.5 659.4,559.0 659.6,555.4 659.8,564.9 660.0,562.6 660.2,569.2 660.4,569.6 660.5,568.7 660.7,562.2 660.9,562.1 661.1,551.1 661.3,546.6 661.5,544.2 661.6,527.7 661.8,531.5 662.0,527.5 662.2,521.8 662.4,521.3 662.6,518.2 662.7,511.5 662.9,504.6 663.1,508.0 663.3,501.1 663.5,498.0 663.7,498.2 663.8,494.3 664.0,497.6 664.2,487.4 664.4,477.6 664.6,484.1 664.8,484.0 664.9,476.7 665.1,485.3 665.3,487.0 665.5,485.1 665.7,488.1 665.9,491.6 666.0,497.9 666.2,504.8 666.4,508.1 666.6,504.9 666.8,508.4 667.0,512.2 667.1,510.9 667.3,511.6 667.5,508.8 667.7,512.1 667.9,510.8 668.1,511.5 668.2,508.1 668.4,504.7 668.6,506.8 668.8,508.4 669.0,503.7 669.2,505.8 669.3,501.6 669.5,501.2 669.7,501.5 669.9,494.5 670.1,500.9 670.3,491.0 670.4,498.0 670.6,490.6 670.8,498.2 671.0,491.6 671.2,484.8 671.4,484.9 671.5,478.2 671.7,481.2 671.9,481.6 672.1,484.3 672.3,470.9 672.5,478.2 672.6,471.7 672.8,477.3 673.0,483.5 673.2,485.4 673.4,488.3 673.6,488.6 673.7,491.5 673.9,491.2 674.1,497.5 674.3,493.9 674.5,502.0 674.7,501.7 674.8,504.8 675.0,510.8 675.2,521.3 675.4,531.4 675.6,531.6 675.8,526.8 675.9,538.6 676.1,539.3 676.3,545.0 676.5,545.3 676.7,542.0 676.9,541.4 677.0,538.7 677.2,527.9 677.4,528.1 677.6,531.9 677.8,531.7 678.0,531.8 678.2,524.5 678.3,525.3 678.5,521.0 678.7,525.4 678.9,521.3 679.1,517.5 679.3,524.9 679.4,521.0 679.6,521.3 679.8,518.1 680.0,522.0 680.2,515.2 680.4,511.6 680.5,514.6 680.7,514.0 680.9,518.1 681.1,518.0 681.3,514.7 681.5,521.3 681.6,514.5 681.8,522.0 682.0,517.5 682.2,525.0 682.4,525.6 682.6,524.5 682.7,531.2 682.9,524.8 683.1,531.5 683.3,528.5 683.5,532.5 683.7,535.1 683.8,535.4 684.0,534.8 684.2,534.9 684.4,542.1 684.6,538.2 684.8,542.5 684.9,538.3 685.1,548.6 685.3,541.3 685.5,551.8 685.7,544.8 685.9,551.8 686.0,551.1 686.2,555.5 686.4,549.6 686.6,551.1 686.8,549.6 687.0,545.2 687.1,545.8 687.3,534.6 687.5,543.0 687.7,534.5 687.9,528.3 688.1,532.6 688.2,524.3 688.4,527.1 688.6,521.5 688.8,521.1 689.0,524.4 689.2,524.5 689.3,534.3 689.5,535.9 689.7,545.9 689.9,544.6 690.1,535.1 690.3,528.1 690.4,528.9 690.6,524.5 690.8,522.4 691.0,514.8 691.2,507.6 691.4,514.7 691.5,517.9 691.7,533.0 691.9,528.4 692.1,534.9 692.3,541.9 692.5,546.1 692.6,551.5 692.8,557.9 693.0,566.3 693.2,566.0 693.4,568.8 693.6,562.2 693.7,556.1 693.9,554.0 694.1,556.1 694.3,552.0 694.5,552.4 694.7,548.6 694.8,550.4 695.0,544.9 695.2,542.5 695.4,537.1 695.6,538.5 695.8,532.2 695.9,537.7 696.1,530.6 696.3,531.8 696.5,532.3 696.7,529.0 696.9,528.0 697.0,528.5 697.2,520.8 697.4,522.5 697.6,517.8 697.8,522.3 698.0,514.6 698.1,514.6 698.3,515.7 698.5,517.7 698.7,522.3 698.9,511.2 699.1,514.3 699.2,510.9 699.4,512.0 699.6,511.3 699.8,504.4 700.0,510.6 700.2,512.0 700.4,508.6 700.5,521.7 700.7,518.6 700.9,519.8 701.1,514.5 701.3,518.2 701.5,521.6 701.6,528.0 701.8,531.9 702.0,524.5 702.2,531.4 702.4,534.4 702.6,538.6 702.7,531.3 702.9,521.3 703.1,522.3 703.3,514.7 703.5,514.8 703.7,513.9 703.8,511.1 704.0,511.9 704.2,501.5 704.4,511.4 704.6,501.1 704.8,497.9 704.9,487.9 705.1,484.1 705.3,489.7 705.5,495.5 705.7,501.8 705.9,501.1 706.0,498.6 706.2,503.9 706.4,508.7 706.6,504.7 706.8,511.9 707.0,511.2 707.1,508.1 707.3,508.3 707.5,512.0 707.7,515.1 707.9,508.2 708.1,507.7 708.2,515.7 708.4,504.7 708.6,518.0 708.8,511.2 709.0,514.1 709.2,517.8 709.3,507.2 709.5,508.1 709.7,518.1 709.9,511.5 710.1,510.7 710.3,511.1 710.4,514.4 710.6,515.3 710.8,507.2 711.0,507.2 711.2,508.7 711.4,511.6 711.5,513.9 711.7,512.1 711.9,519.0 712.1,512.0 712.3,513.6 712.5,521.6 712.6,521.1 712.8,518.0 713.0,513.9 713.2,519.1 713.4,521.2 713.6,521.7 713.7,522.0 713.9,518.5 714.1,518.4 714.3,521.3 714.5,525.1 714.7,518.0 714.8,516.9 715.0,515.3 715.2,517.8 715.4,531.4 715.6,517.9 715.8,517.4 715.9,517.5 716.1,513.8 716.3,511.6 716.5,518.8 716.7,518.2 716.9,520.9 717.0,512.1 717.2,521.4 717.4,524.1 717.6,513.7 717.8,521.6 718.0,515.6 718.1,521.3 718.3,524.6 718.5,521.4 718.7,524.5 718.9,521.2 719.1,525.1 719.2,531.3 719.4,528.8 719.6,527.8 719.8,532.1 720.0,535.3 720.2,524.7 720.3,528.2 720.5,524.8 720.7,529.3 720.9,527.9 721.1,525.6 721.3,525.5 721.5,514.6 721.6,519.0 721.8,510.1 722.0,514.9 722.2,514.8 722.4,514.8 722.6,508.4 722.7,511.2 722.9,507.9 723.1,512.0 723.3,507.9 723.5,514.2 723.7,511.7 723.8,504.6 724.0,511.1 724.2,508.3 724.4,517.7 724.6,517.6 724.8,514.6 724.9,514.7 725.1,508.0 725.3,507.3 725.5,512.3 725.7,515.1 725.9,511.5 726.0,514.9 726.2,516.8 726.4,518.7 726.6,521.0 726.8,518.4 727.0,514.1 727.1,515.3 727.3,514.5 727.5,511.3 727.7,519.0 727.9,515.3 728.1,510.6 728.2,511.0 728.4,525.0 728.6,514.6 728.8,515.2 729.0,521.2 729.2,520.5 729.3,517.7 729.5,521.4 729.7,518.5 729.9,525.3 730.1,518.8 730.3,528.5 730.4,531.6 730.6,528.7 730.8,541.8 731.0,531.5 731.2,541.6 731.4,539.0 731.5,546.1 731.7,546.0 731.9,551.2 732.1,545.9 732.3,548.0 732.5,541.7 732.6,542.2 732.8,537.8 733.0,534.4 733.2,534.7 733.4,536.0 733.6,532.3 733.7,524.4 733.9,525.0 734.1,528.4 734.3,521.7 734.5,524.5 734.7,522.3 734.8,517.9 735.0,515.2 735.2,513.8 735.4,518.4 735.6,514.8 735.8,518.9 735.9,509.9 736.1,504.9 736.3,511.8 736.5,507.8 736.7,505.3 736.9,512.5 737.0,508.5 737.2,505.0 737.4,505.3 737.6,498.1 737.8,501.9 738.0,494.8 738.1,494.1 738.3,493.8 738.5,505.2 738.7,504.9 738.9,497.4 739.1,508.0 739.2,505.4 739.4,510.4 739.6,507.5 739.8,515.2 740.0,511.8 740.2,510.7 740.3,514.2 740.5,518.2 740.7,515.5 740.9,511.4 741.1,520.3 741.3,515.3 741.4,511.4 741.6,511.1 741.8,510.7 742.0,518.8 742.2,525.1 742.4,515.0 742.5,521.7 742.7,515.0 742.9,525.4 743.1,525.9 743.3,524.4 743.5,528.3 743.7,531.5 743.8,532.6 744.0,524.8 744.2,524.1 744.4,524.9 744.6,524.5 744.8,534.7 744.9,531.5 745.1,531.0 745.3,534.0 745.5,543.0 745.7,535.0 745.9,541.4 746.0,538.8 746.2,539.2 746.4,530.8 746.6,541.6 746.8,535.3 747.0,531.3 747.1,532.0 747.3,531.0 747.5,531.4 747.7,524.9 747.9,528.6 748.1,525.0 748.2,524.6 748.4,524.7 748.6,520.4 748.8,526.1 749.0,517.9 749.2,514.6 749.3,518.3 749.5,521.9 749.7,515.0 749.9,514.4 750.1,513.9 750.3,514.7 750.4,510.9 750.6,514.5 750.8,504.6 751.0,514.9 751.2,512.1 751.4,507.9 751.5,513.8 751.7,508.3 751.9,511.9 752.1,500.3 752.3,511.7 752.5,504.7 752.6,497.5 752.8,508.1 753.0,504.8 753.2,501.5 753.4,508.6 753.6,504.6 753.7,514.8 753.9,516.1 754.1,514.2 754.3,521.4 754.5,518.0 754.7,518.6 754.8,518.8 755.0,520.8 755.2,529.0 755.4,520.9 755.6,523.0 755.8,528.0 755.9,525.5 756.1,528.2 756.3,535.5 756.5,524.5 756.7,531.8 756.9,524.9 757.0,531.8 757.2,535.5 757.4,538.3 757.6,531.5 757.8,537.8 758.0,541.8 758.1,538.2 758.3,549.2 758.5,538.9 758.7,534.7 758.9,542.1 759.1,535.8 759.2,545.2 759.4,541.2 759.6,539.9 759.8,542.2 760.0,542.3 760.2,546.7 760.3,538.1 760.5,535.3 760.7,530.7 760.9,538.8 761.1,535.3 761.3,538.1 761.4,541.4 761.6,538.4 761.8,535.0 762.0,546.1 762.2,538.4 762.4,541.8 762.5,541.8 762.7,534.2 762.9,534.8 763.1,544.5 763.3,535.2 763.5,530.5 763.6,534.5 763.8,531.9 764.0,527.2 764.2,530.9 764.4,532.3 764.6,527.6 764.7,528.3 764.9,521.7 765.1,521.0 765.3,527.4 765.5,522.4 765.7,524.6 765.9,521.8 766.0,514.3 766.2,518.4 766.4,514.0 766.6,517.4 766.8,521.0 767.0,524.6 767.1,517.8 767.3,521.4 767.5,521.8 767.7,524.6 767.9,515.3 768.1,521.2 768.2,525.3 768.4,525.7 768.6,522.5 768.8,527.2 769.0,529.3 769.2,527.4 769.3,529.1 769.5,528.3 769.7,528.5 769.9,531.2 770.1,532.2 770.3,521.9 770.4,517.9 770.6,517.8 770.8,525.4 771.0,518.7 771.2,518.6 771.4,517.9 771.5,518.2 771.7,515.3 771.9,511.8 772.1,515.4 772.3,514.8 772.5,514.4 772.6,511.5 772.8,511.6 773.0,514.5 773.2,508.2 773.4,507.5 773.6,504.7 773.7,500.9 773.9,499.0 774.1,501.9 774.3,504.7 774.5,510.7 774.7,503.9 774.8,508.4 775.0,511.3 775.2,511.5 775.4,513.9 775.6,517.3 775.8,511.4 775.9,518.0 776.1,514.0 776.3,524.5 776.5,522.0 776.7,524.7 776.9,528.6 777.0,525.8 777.2,525.1 777.4,525.0 777.6,524.6 777.8,532.4 778.0,527.5 778.1,531.1 778.3,528.3 778.5,527.5 778.7,528.9 778.9,528.0 779.1,525.2 779.2,531.5 779.4,535.0 779.6,531.7 779.8,530.6 780.0,534.5 780.2,534.8 780.3,539.7 780.5,542.3 780.7,535.5 780.9,537.9 781.1,542.4 781.3,539.2 781.4,538.9 781.6,539.9 781.8,541.1 782.0,544.7 782.2,548.5 782.4,541.3 782.5,548.7 782.7,549.0 782.9,548.7 783.1,548.7 783.3,548.9 783.5,552.5 783.6,544.9 783.8,548.3 784.0,542.5 784.2,534.9 784.4,538.0 784.6,535.3 784.7,538.3 784.9,538.6 785.1,531.7 785.3,532.1 785.5,528.8 785.7,527.9 785.8,527.7 786.0,525.8 786.2,521.2 786.4,517.3 786.6,517.1 786.8,518.1 786.9,514.4 787.1,517.1 787.3,510.9 787.5,514.2 787.7,505.1 787.9,504.7 788.1,508.0 788.2,510.7 788.4,507.9 788.6,518.5 788.8,511.5 789.0,515.3 789.2,511.4 789.3,521.9 789.5,521.8 789.7,521.2 789.9,515.5 790.1,525.1 790.3,525.4 790.4,527.7 790.6,527.7 790.8,524.8 791.0,527.9 791.2,535.4 791.4,531.9 791.5,535.8 791.7,535.4 791.9,537.9 792.1,539.0 792.3,548.3 792.5,548.3 792.6,541.9 792.8,545.3 793.0,542.5 793.2,536.7 793.4,548.9 793.6,549.5 793.7,538.4 793.9,542.1 794.1,541.6 794.3,538.3 794.5,539.2 794.7,538.7 794.8,538.7 795.0,538.1 795.2,539.4 795.4,538.4 795.6,534.7 795.8,535.1 795.9,528.7 796.1,538.9 796.3,529.1 796.5,531.1 796.7,531.5 796.9,529.2 797.0,529.6 797.2,531.4 797.4,521.5 797.6,524.1 797.8,524.5 798.0,521.1 798.1,518.1 798.3,524.3 798.5,515.3 798.7,514.7 798.9,514.6 799.1,511.9 799.2,511.2 799.4,507.3 799.6,511.4 799.8,509.2 800.0,504.6 800.2,511.7 800.3,504.5 800.5,514.6 800.7,511.7 800.9,513.3 801.1,514.1 801.3,514.4 801.4,511.2 801.6,522.3 801.8,516.1 802.0,515.1 802.2,521.8 802.4,521.9 802.5,529.1 802.7,527.8 802.9,521.3 803.1,521.6 803.3,521.7 803.5,510.3 803.6,515.0 803.8,513.9 804.0,511.8 804.2,511.8 804.4,500.0 804.6,511.6 804.7,514.9 804.9,507.6 805.1,515.3 805.3,522.6 805.5,518.4 805.7,517.6 805.8,517.4 806.0,524.3 806.2,531.2 806.4,525.5 806.6,531.9 806.8,531.7 806.9,535.6 807.1,538.5 807.3,541.9 807.5,541.4 807.7,551.7 807.9,545.3 808.0,548.0 808.2,549.6 808.4,541.9 808.6,541.6 808.8,542.4 809.0,531.1 809.1,535.7 809.3,531.8 809.5,529.4 809.7,524.6 809.9,521.3 810.1,514.3 810.3,517.5 810.4,514.9 810.6,514.2 810.8,508.2 811.0,504.2 811.2,501.8 811.4,499.8 811.5,504.8 811.7,508.0 811.9,504.6 812.1,504.2 812.3,508.9 812.5,507.8 812.6,508.2 812.8,504.4 813.0,507.8 813.2,508.0 813.4,515.1 813.6,514.1 813.7,517.9 813.9,524.2 814.1,521.8 814.3,531.2 814.5,531.3 814.7,528.7 814.8,535.1 815.0,528.5 815.2,531.6 815.4,538.7 815.6,545.3 815.8,544.7 815.9,542.0 816.1,548.5 816.3,551.9 816.5,559.0 816.7,555.1 816.9,551.5 817.0,545.9 817.2,553.1 817.4,545.1 817.6,549.3 817.8,548.9 818.0,544.9 818.1,544.8 818.3,545.1 818.5,541.6 818.7,548.5 818.9,545.2 819.1,544.6 819.2,542.4 819.4,544.6 819.6,544.7 819.8,549.2 820.0,549.1 820.2,549.5 820.3,545.3 820.5,555.1 820.7,552.7 820.9,552.0 821.1,555.4 821.3,544.8 821.4,548.9 821.6,547.4 821.8,555.7 822.0,547.6 822.2,552.5 822.4,558.0 822.5,559.2 822.7,560.2 822.9,565.5 823.1,558.2 823.3,566.7 823.5,562.0 823.6,565.0 823.8,562.9 824.0,557.3 824.2,561.4 824.4,554.7 824.6,558.4 824.7,554.3 824.9,555.9 825.1,549.2 825.3,545.2 825.5,548.4 825.7,547.8 825.8,538.7 826.0,541.5 826.2,542.2 826.4,535.7 826.6,535.1 826.8,537.3 826.9,531.2 827.1,529.1 827.3,531.9 827.5,522.3 827.7,516.9 827.9,511.3 828.0,514.7 828.2,513.9 828.4,521.2 828.6,522.1 828.8,515.1 829.0,528.0 829.1,525.1 829.3,522.2 829.5,524.3 829.7,525.1 829.9,522.1 830.1,521.2 830.2,525.6 830.4,528.3 830.6,525.5 830.8,525.4 831.0,528.5 831.2,524.8 831.3,531.4 831.5,525.0 831.7,528.4 831.9,522.3 832.1,524.9 832.3,521.7 832.5,515.7 832.6,521.7 832.8,518.4 833.0,522.4 833.2,514.8 833.4,508.2 833.6,508.4 833.7,501.1 833.9,507.4 834.1,517.3 834.3,521.4 834.5,522.2 834.7,525.5 834.8,529.2 835.0,528.8 835.2,524.6 835.4,527.5 835.6,538.2 835.8,541.7 835.9,541.5 836.1,542.4 836.3,541.4 836.5,542.2 836.7,538.9 836.9,534.1 837.0,538.3 837.2,535.8 837.4,535.6 837.6,538.6 837.8,534.5 838.0,527.9 838.1,531.8 838.3,525.6 838.5,532.0 838.7,528.3 838.9,525.1 839.1,525.4 839.2,527.4 839.4,521.0 839.6,518.2 839.8,525.6 840.0,518.7 840.2,521.1 840.3,514.8 840.5,517.7 840.7,517.9 840.9,521.6 841.1,521.3 841.3,517.8 841.4,527.7 841.6,524.1 841.8,518.0 842.0,525.0 842.2,521.9 842.4,521.1 842.5,524.5 842.7,525.6 842.9,528.5 843.1,528.8 843.3,524.6 843.5,531.3 843.6,537.9 843.8,535.6 844.0,544.6 844.2,547.7 844.4,548.2 844.6,552.7 844.7,552.1 844.9,559.0 845.1,552.1 845.3,552.0 845.5,552.0 845.7,541.1 845.8,542.8 846.0,524.8 846.2,529.0 846.4,520.7 846.6,528.6 846.8,514.1 846.9,514.0 847.1,504.7 847.3,515.3 847.5,515.5 847.7,515.5 847.9,507.8 848.0,518.6 848.2,521.2 848.4,521.2 848.6,521.7 848.8,514.7 849.0,522.0 849.1,527.3 849.3,522.2 849.5,528.0 849.7,525.7 849.9,528.9 850.1,531.1 850.2,528.3 850.4,538.9 850.6,531.3 850.8,531.3 851.0,528.2 851.2,532.1 851.3,532.2 851.5,531.5 851.7,532.2 851.9,539.3 852.1,539.0 852.3,531.3 852.4,534.6 852.6,542.0 852.8,538.9 853.0,542.1 853.2,534.9 853.4,538.0 853.5,532.4 853.7,531.6 853.9,532.7 854.1,534.5 854.3,531.5 854.5,531.4 854.7,525.9 854.8,529.0 855.0,524.7 855.2,523.9 855.4,525.6 855.6,525.0 855.8,527.7 855.9,524.1 856.1,525.2 856.3,521.4 856.5,525.0 856.7,521.8 856.9,524.7 857.0,521.4 857.2,521.9 857.4,518.1 857.6,514.6 857.8,511.7 858.0,523.9 858.1,518.8 858.3,518.4 858.5,514.3 858.7,511.3 858.9,522.2 859.1,508.3 859.2,510.4 859.4,510.8 859.6,504.7 859.8,505.6 860.0,505.0 860.2,507.9 860.3,508.3 860.5,514.8 860.7,507.8 860.9,515.0 861.1,517.0 861.3,518.7 861.4,511.7 861.6,507.7 861.8,517.7 862.0,517.5 862.2,514.9 862.4,521.6 862.5,518.3 862.7,519.1 862.9,517.0 863.1,521.2 863.3,517.7 863.5,518.7 863.6,521.4 863.8,517.6 864.0,514.9 864.2,521.8 864.4,522.4 864.6,514.9 864.7,514.5 864.9,514.5 865.1,514.3 865.3,518.4 865.5,518.6 865.7,514.6 865.8,524.9 866.0,515.5 866.2,514.8 866.4,521.8 866.6,524.3 866.8,517.8 866.9,517.0 867.1,514.0 867.3,525.1 867.5,522.2 867.7,521.4 867.9,524.3 868.0,531.8 868.2,532.3 868.4,535.0 868.6,535.6 868.8,535.1 869.0,527.7 869.1,527.8 869.3,528.2 869.5,526.2 869.7,525.3 869.9,521.4 870.1,518.3 870.2,518.3 870.4,514.5 870.6,511.3 870.8,518.0 871.0,511.8 871.2,508.8 871.3,508.7 871.5,504.4 871.7,494.7 871.9,500.8 872.1,500.6 872.3,508.0 872.4,511.7 872.6,514.7 872.8,515.2 873.0,518.6 873.2,518.6 873.4,518.1 873.5,514.0 873.7,525.9 873.9,521.3 874.1,518.6 874.3,518.4 874.5,514.6 874.6,512.4 874.8,511.7 875.0,514.8 875.2,507.8 875.4,500.7 875.6,500.5 875.8,504.9 875.9,494.2 876.1,497.6 876.3,494.7 876.5,501.0 876.7,501.6 876.9,497.5 877.0,504.3 877.2,515.3 877.4,507.6 877.6,515.1 877.8,511.7 878.0,514.8 878.1,517.3 878.3,517.4 878.5,527.7 878.7,520.9 878.9,525.4 879.1,524.5 879.2,524.3 879.4,524.7 879.6,535.1 879.8,527.4 880.0,538.8 880.2,535.5 880.3,528.0 880.5,525.4 880.7,524.1 880.9,521.3 881.1,524.9 881.3,514.8 881.4,515.4 881.6,514.6 881.8,514.2 882.0,511.5 882.2,504.7 882.4,504.8 882.5,504.4 882.7,501.3 882.9,504.3 883.1,508.3 883.3,507.6 883.5,504.3 883.6,508.6 883.8,504.2 884.0,501.2 884.2,511.7 884.4,501.0 884.6,505.1 884.7,507.7 884.9,515.3 885.1,507.1 885.3,514.0 885.5,511.4 885.7,508.8 885.8,515.6 886.0,514.3 886.2,511.4 886.4,514.5 886.6,513.6 886.8,521.9 886.9,521.3 887.1,522.3 887.3,521.7 887.5,521.3 887.7,524.6 887.9,521.4 888.0,521.8 888.2,524.7 888.4,529.8 888.6,528.4 888.8,531.1 889.0,525.0 889.1,532.3 889.3,535.3 889.5,531.5 889.7,538.1 889.9,534.7 890.1,534.5 890.2,541.6 890.4,535.3 890.6,541.6 890.8,539.4 891.0,535.3 891.2,534.9 891.3,535.1 891.5,539.3 891.7,537.6 891.9,531.8 892.1,546.7 892.3,542.4 892.4,544.8 892.6,538.6 892.8,531.6 893.0,540.0 893.2,538.1 893.4,538.4 893.5,534.9 893.7,534.3 893.9,529.9 894.1,524.8 894.3,532.0 894.5,521.3 894.6,525.2 894.8,525.3 895.0,515.1 895.2,517.2 895.4,519.0 895.6,515.2 895.7,522.0 895.9,524.9 896.1,528.3 896.3,534.8 896.5,538.7 896.7,545.8 896.8,551.7 897.0,555.9 897.2,558.6 897.4,559.2 897.6,565.5 897.8,569.5 898.0,573.4 898.1,572.5 898.3,568.7 898.5,572.2 898.7,576.1 898.9,578.9 899.1,576.3 899.2,582.7 899.4,579.7 899.6,582.3 899.8,578.7 900.0,582.2 900.2,579.4 900.3,585.5 900.5,589.7 900.7,581.5 900.9,582.2 901.1,579.1 901.3,574.8 901.4,575.5 901.6,575.0 901.8,575.8 902.0,575.7 902.2,569.4 902.4,568.6 902.5,568.1 902.7,565.3 902.9,565.7 903.1,565.7 903.3,562.3 903.5,556.1 903.6,551.9 903.8,555.3 904.0,544.8 904.2,545.0 904.4,542.5 904.6,542.1 904.7,540.5 904.9,539.2 905.1,537.4 905.3,534.9 905.5,528.9 905.7,521.6 905.8,532.0 906.0,522.0 906.2,525.1 906.4,517.5 906.6,515.0 906.8,514.4 906.9,506.7 907.1,507.8 907.3,504.9 907.5,511.4 907.7,511.4 907.9,505.5 908.0,511.5 908.2,505.1 908.4,504.8 908.6,498.7 908.8,497.6 909.0,508.6 909.1,505.6 909.3,504.4 909.5,495.0 909.7,500.5 909.9,498.0 910.1,498.2 910.2,497.4 910.4,493.5 910.6,497.9 910.8,494.3 911.0,501.3 911.2,504.8 911.3,501.7 911.5,505.5 911.7,504.8 911.9,507.2 912.1,511.8 912.3,511.6 912.4,511.5 912.6,508.9 912.8,514.9 913.0,521.4 913.2,515.0 913.4,517.3 913.5,518.7 913.7,528.4 913.9,519.1 914.1,515.2 914.3,518.4 914.5,514.9 914.6,510.8 914.8,508.0 915.0,504.8 915.2,501.8 915.4,498.1 915.6,494.8 915.7,491.4 915.9,490.8 916.1,487.8 916.3,487.6 916.5,483.6 916.7,480.1 916.8,474.6 917.0,474.9 917.2,478.3 917.4,477.0 917.6,488.5 917.8,485.1 917.9,487.3 918.1,491.3 918.3,502.2 918.5,501.3 918.7,508.7 918.9,507.7 919.0,507.8 919.2,515.3 919.4,514.7 919.6,514.9 919.8,514.8 920.0,521.0 920.2,522.4 920.3,528.3 920.5,531.6 920.7,538.3 920.9,538.6 921.1,541.4 921.3,542.4 921.4,541.7 921.6,549.1 921.8,541.4 922.0,544.7 922.2,538.0 922.4,535.3 922.5,534.4 922.7,532.2 922.9,531.6 923.1,525.4 923.3,531.5 923.5,528.8 923.6,527.8 923.8,524.4 924.0,518.5 924.2,524.7 924.4,525.5 924.6,514.4 924.7,511.7 924.9,514.3 925.1,510.5 925.3,505.4 925.5,514.7 925.7,511.9 925.8,504.7 926.0,503.7 926.2,515.0 926.4,522.2 926.6,522.3 926.8,529.2 926.9,525.2 927.1,531.7 927.3,528.4 927.5,537.9 927.7,535.5 927.9,528.7 928.0,531.9 928.2,541.5 928.4,542.3 928.6,541.6 928.8,546.0 929.0,551.7 929.1,548.4 929.3,541.7 929.5,548.1 929.7,544.8 929.9,548.5 930.1,550.7 930.2,553.2 930.4,552.3 930.6,555.6 930.8,548.2 931.0,552.2 931.2,545.3 931.3,545.3 931.5,537.7 931.7,541.8 931.9,534.1 932.1,535.0 932.3,531.2 932.4,531.4 932.6,521.4 932.8,532.2 933.0,518.8 933.2,521.6 933.4,521.0 933.5,522.4 933.7,524.2 933.9,524.6 934.1,524.8 934.3,524.5 934.5,529.1 934.6,528.6 934.8,535.7 935.0,528.2 935.2,528.8 935.4,535.0 935.6,538.4 935.7,528.5 935.9,531.9 936.1,538.8 936.3,538.4 936.5,530.9 936.7,531.6 936.8,530.3 937.0,535.0 937.2,531.3 937.4,532.2 937.6,526.9 937.8,529.4 937.9,528.1 938.1,524.1 938.3,528.6 938.5,521.8 938.7,525.2 938.9,526.1 939.0,521.1 939.2,518.3 939.4,521.6 939.6,521.2 939.8,518.3 940.0,515.5 940.1,521.1 940.3,528.6 940.5,522.1 940.7,518.5 940.9,524.1 941.1,525.1 941.2,524.7 941.4,525.6 941.6,535.0 941.8,536.2 942.0,541.2 942.2,538.8 942.4,538.0 942.5,546.2 942.7,539.4 942.9,534.6 943.1,532.1 943.3,538.5 943.5,534.2 943.6,527.8 943.8,528.4 944.0,525.2 944.2,524.7 944.4,525.1 944.6,518.3 944.7,518.3 944.9,510.7 945.1,514.8 945.3,508.3 945.5,517.3 945.7,515.6 945.8,512.2 946.0,514.9 946.2,515.9 946.4,510.9 946.6,500.7 946.8,504.3 946.9,497.4 947.1,502.2 947.3,497.8 947.5,501.2 947.7,501.4 947.9,495.3 948.0,494.5 948.2,497.6 948.4,494.6 948.6,491.7 948.8,484.2 949.0,491.8 949.1,498.0 949.3,501.1 949.5,498.1 949.7,505.7 949.9,507.9 950.1,505.4 950.2,511.7 950.4,508.1 950.6,511.4 950.8,511.8 951.0,521.9 951.2,515.0 951.3,515.1 951.5,517.7 951.7,514.4 951.9,514.2 952.1,507.8 952.3,518.0 952.4,518.0 952.6,511.7 952.8,521.0 953.0,514.6 953.2,515.2 953.4,512.3 953.5,511.4 953.7,512.0 953.9,512.1 954.1,517.6 954.3,518.3 954.5,514.2 954.6,514.6 954.8,518.4 955.0,517.5 955.2,521.8 955.4,521.5 955.6,521.4 955.7,521.8 955.9,524.5 956.1,530.8 956.3,525.0 956.5,527.9 956.7,524.8 956.8,524.3 957.0,531.2 957.2,527.8 957.4,524.2 957.6,524.5 957.8,524.5 957.9,521.6 958.1,530.0 958.3,524.6 958.5,520.7 958.7,521.9 958.9,520.9 959.0,514.3 959.2,514.6 959.4,511.4 959.6,511.4 959.8,508.1 960.0,514.7 960.1,508.6 960.3,515.2 960.5,517.9 960.7,518.0 960.9,524.2 961.1,525.3 961.2,528.2 961.4,532.7 961.6,531.3 961.8,542.7 962.0,541.4 962.2,544.4 962.3,538.0 962.5,545.5 962.7,542.4 962.9,548.2 963.1,556.0 963.3,555.2 963.4,555.2 963.6,562.1 963.8,563.1 964.0,565.7 964.2,555.6 964.4,561.4 964.6,562.3 964.7,562.4 964.9,566.5 965.1,561.8 965.3,558.5 965.5,565.1 965.7,565.3 965.8,576.1 966.0,565.2 966.2,566.3 966.4,562.2 966.6,561.7 966.8,561.9 966.9,558.1 967.1,547.9 967.3,549.3 967.5,539.0 967.7,544.7 967.9,534.9 968.0,529.2 968.2,541.5 968.4,535.2 968.6,532.0 968.8,528.2 969.0,518.0 969.1,521.4 969.3,511.4 969.5,517.3 969.7,508.0 969.9,497.9 970.1,503.9 970.2,508.2 970.4,504.1 970.6,506.6 970.8,503.5 971.0,504.6 971.2,501.5 971.3,514.5 971.5,510.6 971.7,518.1 971.9,515.2 972.1,514.7 972.3,520.7 972.4,518.4 972.6,518.0 972.8,514.7 973.0,521.6 973.2,521.8 973.4,518.1 973.5,517.6 973.7,514.7 973.9,521.6 974.1,515.4 974.3,517.5 974.5,521.5 974.6,514.3 974.8,511.5 975.0,514.5 975.2,513.1 975.4,522.0 975.6,514.4 975.7,514.2 975.9,513.9 976.1,517.6 976.3,507.3 976.5,514.7 976.7,511.4 976.8,511.3 977.0,501.4 977.2,507.5 977.4,511.7 977.6,504.5 977.8,511.6 977.9,504.9 978.1,504.4 978.3,512.0 978.5,515.2 978.7,517.9 978.9,522.5 979.0,529.2 979.2,524.1 979.4,527.1 979.6,528.0 979.8,531.9 980.0,539.0 980.1,538.8 980.3,538.5 980.5,539.0 980.7,542.3 980.9,541.6 981.1,545.4 981.2,545.8 981.4,544.9 981.6,541.5 981.8,538.0 982.0,546.0 982.2,542.2 982.3,538.9 982.5,551.8 982.7,538.5 982.9,545.9 983.1,548.5 983.3,545.9 983.4,555.4 983.6,548.6 983.8,545.6 984.0,549.1 984.2,539.4 984.4,534.9 984.5,536.0 984.7,534.7 984.9,534.6 985.1,533.9 985.3,528.8 985.5,532.5 985.6,537.8 985.8,528.1 986.0,528.2 986.2,527.5 986.4,531.7 986.6,525.1 986.8,524.7 986.9,524.4 987.1,531.8 987.3,532.0 987.5,520.8 987.7,521.5 987.9,525.2 988.0,523.4 988.2,531.9 988.4,532.6 988.6,534.4 988.8,532.4 989.0,531.6 989.1,535.4 989.3,528.2 989.5,524.3 989.7,530.8 989.9,533.0 990.1,524.2 990.2,531.6 990.4,529.1 990.6,525.1 990.8,525.0 991.0,520.5 991.2,521.2 991.3,524.2 991.5,517.2 991.7,521.7 991.9,518.6 992.1,517.7 992.3,507.6 992.4,508.2 992.6,515.2 992.8,510.8 993.0,512.0 993.2,511.9 993.4,511.4 993.5,514.2 993.7,511.7 993.9,515.1 994.1,519.1 994.3,511.0 994.5,519.0 994.6,507.8 994.8,525.2 995.0,511.3 995.2,521.6 995.4,522.3 995.6,517.8 995.7,518.6 995.9,514.6 996.1,508.0 996.3,514.4 996.5,514.9 996.7,506.9 996.8,504.5 997.0,508.5 997.2,508.4 997.4,507.1 997.6,507.4 997.8,504.4 997.9,502.2 998.1,494.2 998.3,508.0 998.5,501.1 998.7,504.8 998.9,500.7 999.0,504.7 999.2,504.9 999.4,511.9 999.6,510.9 999.8,511.9 1000.0,519.2 1000.1,511.8 1000.3,515.1 1000.5,510.1 1000.7,518.9 1000.9,515.8 1001.1,518.8 1001.2,521.8 1001.4,508.4 1001.6,526.6 1001.8,521.2 1002.0,521.3 1002.2,518.8 1002.3,525.1 1002.5,520.4 1002.7,531.8 1002.9,531.9 1003.1,538.0 1003.3,535.3 1003.4,542.0 1003.6,540.9 1003.8,545.6 1004.0,536.3 1004.2,539.4 1004.4,527.7 1004.5,527.6 1004.7,528.4 1004.9,528.5 1005.1,520.8 1005.3,521.1 1005.5,525.7 1005.6,518.3 1005.8,518.7 1006.0,514.7 1006.2,518.7 1006.4,517.9 1006.6,507.7 1006.7,504.1 1006.9,510.3 1007.1,504.4 1007.3,497.1 1007.5,494.2 1007.7,497.9 1007.9,511.5 1008.0,501.4 1008.2,514.6 1008.4,508.0 1008.6,508.6 1008.8,514.7 1009.0,514.8 1009.1,516.8 1009.3,514.2 1009.5,515.4 1009.7,517.7 1009.9,521.0 1010.1,518.7 1010.2,517.5 1010.4,525.5 1010.6,528.3 1010.8,528.0 1011.0,527.2 1011.2,525.7 1011.3,537.5 1011.5,534.4 1011.7,538.9 1011.9,541.2 1012.1,542.2 1012.3,535.1 1012.4,535.0 1012.6,531.1 1012.8,531.3 1013.0,528.5 1013.2,524.4 1013.4,525.3 1013.5,521.7 1013.7,521.8 1013.9,518.3 1014.1,521.8 1014.3,515.0 1014.5,515.2 1014.6,508.2 1014.8,504.8 1015.0,500.7 1015.2,500.3 1015.4,501.2 1015.6,501.7 1015.7,493.9 1015.9,493.5 1016.1,497.5 1016.3,504.8 1016.5,505.1 1016.7,504.4 1016.8,514.1 1017.0,511.3 1017.2,518.5 1017.4,521.5 1017.6,522.1 1017.8,517.9 1017.9,528.8 1018.1,532.6 1018.3,524.4 1018.5,531.2 1018.7,535.5 1018.9,543.6 1019.0,532.0 1019.2,528.3 1019.4,532.4 1019.6,538.4 1019.8,530.8 1020.0,531.2 1020.1,535.8 1020.3,520.6 1020.5,517.4 1020.7,528.8 1020.9,525.0 1021.1,518.8 1021.2,524.3 1021.4,521.1 1021.6,521.3 1021.8,517.5 1022.0,518.0 1022.2,514.7 1022.3,518.6 1022.5,518.1 1022.7,521.3 1022.9,518.4 1023.1,512.0 1023.3,515.3 1023.4,518.3 1023.6,514.6 1023.8,514.5 1024.0,510.7 1024.2,514.8 1024.4,508.0 1024.5,512.3 1024.7,504.7 1024.9,511.8 1025.1,505.3 1025.3,503.6 1025.5,514.4 1025.6,514.6 1025.8,521.6 1026.0,524.3 1026.2,525.4 1026.4,525.4 1026.6,532.0 1026.7,535.5 1026.9,537.9 1027.1,545.9 1027.3,538.2 1027.5,544.2 1027.7,548.7 1027.8,542.1 1028.0,538.1 1028.2,537.6 1028.4,544.6 1028.6,538.4 1028.8,540.5 1028.9,535.7 1029.1,539.0 1029.3,535.0 1029.5,535.7 1029.7,538.4 1029.9,537.9 1030.1,542.2 1030.2,532.0 1030.4,541.4 1030.6,544.5 1030.8,544.7 1031.0,542.5 1031.2,541.7 1031.3,543.4 1031.5,544.9 1031.7,549.0 1031.9,548.8 1032.1,551.9 1032.3,549.1 1032.4,548.2 1032.6,552.0 1032.8,551.4 1033.0,557.6 1033.2,558.9 1033.4,565.0 1033.5,558.1 1033.7,555.8 1033.9,558.7 1034.1,552.3 1034.3,553.0 1034.5,555.5 1034.6,552.3 1034.8,551.4 1035.0,549.1 1035.2,545.7 1035.4,544.7 1035.6,545.6 1035.7,548.8 1035.9,541.8 1036.1,545.3 1036.3,536.4 1036.5,541.5 1036.7,534.9 1036.8,528.4 1037.0,528.2 1037.2,527.3 1037.4,532.1 1037.6,528.8 1037.8,519.1 1037.9,517.8 1038.1,514.1 1038.3,508.3 1038.5,507.4 1038.7,501.2 1038.9,504.4 1039.0,501.3 1039.2,507.7 1039.4,508.4 1039.6,510.9 1039.8,512.7 1040.0,522.0 1040.1,517.8 1040.3,521.0 1040.5,524.8 1040.7,528.1 1040.9,527.9 1041.1,529.1 1041.2,525.5 1041.4,527.7 1041.6,528.6 1041.8,531.7 1042.0,532.1 1042.2,534.7 1042.3,536.3 1042.5,541.9 1042.7,539.6 1042.9,534.8 1043.1,542.6 1043.3,531.7 1043.4,549.6 1043.6,545.2 1043.8,544.7 1044.0,541.3 1044.2,555.1 1044.4,549.0 1044.5,548.9 1044.7,555.5 1044.9,552.6 1045.1,549.6 1045.3,551.5 1045.5,545.8 1045.6,549.9 1045.8,544.9 1046.0,548.4 1046.2,538.7 1046.4,542.0 1046.6,538.2 1046.7,541.8 1046.9,532.6 1047.1,539.0 1047.3,531.3 1047.5,530.8 1047.7,524.3 1047.8,528.4 1048.0,527.9 1048.2,521.1 1048.4,518.6 1048.6,518.0 1048.8,524.7 1048.9,518.3 1049.1,519.0 1049.3,514.9 1049.5,515.1 1049.7,514.8 1049.9,512.2 1050.0,514.1 1050.2,510.8 1050.4,511.1 1050.6,505.7 1050.8,508.8 1051.0,507.4 1051.1,511.1 1051.3,518.5 1051.5,514.8 1051.7,522.0 1051.9,528.1 1052.1,534.2 1052.3,532.1 1052.4,535.8 1052.6,534.3 1052.8,534.1 1053.0,534.9 1053.2,537.5 1053.4,552.3 1053.5,551.4 1053.7,549.1 1053.9,551.9 1054.1,548.7 1054.3,549.0 1054.5,548.6 1054.6,554.9 1054.8,542.4 1055.0,544.5 1055.2,539.3 1055.4,538.2 1055.6,534.8 1055.7,538.7 1055.9,535.3 1056.1,538.8 1056.3,534.3 1056.5,534.6 1056.7,545.5 1056.8,535.3 1057.0,541.8 1057.2,549.4 1057.4,541.8 1057.6,552.6 1057.8,556.0 1057.9,555.6 1058.1,545.2 1058.3,555.9 1058.5,548.9 1058.7,545.6 1058.9,548.2 1059.0,542.1 1059.2,546.2 1059.4,538.3 1059.6,538.6 1059.8,531.6 1060.0,532.2 1060.1,527.2 1060.3,529.2 1060.5,532.0 1060.7,528.2 1060.9,528.5 1061.1,529.0 1061.2,525.1 1061.4,515.1 1061.6,522.2 1061.8,521.6 1062.0,522.0 1062.2,522.4 1062.3,521.9 1062.5,517.8 1062.7,518.6 1062.9,512.5 1063.1,521.4 1063.3,518.4 1063.4,518.4 1063.6,515.3 1063.8,514.6 1064.0,514.8 1064.2,522.6 1064.4,518.5 1064.5,528.0 1064.7,528.8 1064.9,535.2 1065.1,529.2 1065.3,527.5 1065.5,531.8 1065.6,532.3 1065.8,531.0 1066.0,531.3 1066.2,532.0 1066.4,538.5 1066.6,538.3 1066.7,538.7 1066.9,537.8 1067.1,541.4 1067.3,542.8 1067.5,538.2 1067.7,538.7 1067.8,538.5 1068.0,535.6 1068.2,531.9 1068.4,532.0 1068.6,525.6 1068.8,531.9 1068.9,530.8 1069.1,524.6 1069.3,532.5 1069.5,528.9 1069.7,521.4 1069.9,524.1 1070.0,517.8 1070.2,522.7 1070.4,525.6 1070.6,525.6 1070.8,527.5 1071.0,524.2 1071.1,538.2 1071.3,531.0 1071.5,535.2 1071.7,534.5 1071.9,535.4 1072.1,535.0 1072.2,534.8 1072.4,535.5 1072.6,545.5 1072.8,538.6 1073.0,538.3 1073.2,541.9 1073.3,540.9 1073.5,554.4 1073.7,551.7 1073.9,558.9 1074.1,559.8 1074.3,559.1 1074.5,558.3 1074.6,558.6 1074.8,561.6 1075.0,558.8 1075.2,562.2 1075.4,555.4 1075.6,562.4 1075.7,559.4 1075.9,555.8 1076.1,548.1 1076.3,555.9 1076.5,554.9 1076.7,552.3 1076.8,545.3 1077.0,549.6 1077.2,548.6 1077.4,538.5 1077.6,545.1 1077.8,535.6 1077.9,538.7 1078.1,545.1 1078.3,535.6 1078.5,539.7 1078.7,536.0 1078.9,535.9 1079.0,541.6 1079.2,535.1 1079.4,528.4 1079.6,527.4 1079.8,529.3 1080.0,531.0 1080.1,525.2 1080.3,524.3 1080.5,518.2 1080.7,515.2 1080.9,521.8 1081.1,514.3 1081.2,511.0 1081.4,511.9 1081.6,511.4 1081.8,508.1 1082.0,505.1 1082.2,510.0 1082.3,508.1 1082.5,508.7 1082.7,505.6 1082.9,505.0 1083.1,504.2 1083.3,511.9 1083.4,512.4 1083.6,511.0 1083.8,514.4 1084.0,514.7 1084.2,518.0 1084.4,520.5 1084.5,523.7 1084.7,524.2 1084.9,534.8 1085.1,535.4 1085.3,531.4 1085.5,538.6 1085.6,535.9 1085.8,543.5 1086.0,542.4 1086.2,531.2 1086.4,535.7 1086.6,531.7 1086.7,535.3 1086.9,535.6 1087.1,532.2 1087.3,527.6 1087.5,527.7 1087.7,525.1 1087.8,521.9 1088.0,526.1 1088.2,525.3 1088.4,524.8 1088.6,524.7 1088.8,528.0 1088.9,524.3 1089.1,527.6 1089.3,534.8 1089.5,531.8 1089.7,534.7 1089.9,528.3 1090.0,531.6 1090.2,535.0 1090.4,538.3 1090.6,535.3 1090.8,538.5 1091.0,540.5 1091.1,542.0 1091.3,538.6 1091.5,538.2 1091.7,535.2 1091.9,541.5 1092.1,542.0 1092.2,548.2 1092.4,542.3 1092.6,545.5 1092.8,544.5 1093.0,551.7 1093.2,545.7 1093.3,552.3 1093.5,562.3 1093.7,558.2 1093.9,551.7 1094.1,558.9 1094.3,562.4 1094.4,562.2 1094.6,558.4 1094.8,555.3 1095.0,555.2 1095.2,551.4 1095.4,551.5 1095.5,548.2 1095.7,541.1 1095.9,545.5 1096.1,535.5 1096.3,535.6 1096.5,527.9 1096.7,527.9 1096.8,525.1 1097.0,521.3 1097.2,524.8 1097.4,528.2 1097.6,527.5 1097.8,525.6 1097.9,517.4 1098.1,520.7 1098.3,515.2 1098.5,517.6 1098.7,508.6 1098.9,518.3 1099.0,508.2 1099.2,511.2 1099.4,507.2 1099.6,507.4 1099.8,504.7 1100.0,497.8 1100.1,497.2 1100.3,500.6 1100.5,500.7 1100.7,491.0 1100.9,494.7 1101.1,494.9 1101.2,494.2 1101.4,495.2 1101.6,491.4 1101.8,491.8 1102.0,497.4 1102.2,498.1 1102.3,505.2 1102.5,500.3 1102.7,505.1 1102.9,501.4 1103.1,508.5 1103.3,508.1 1103.4,512.0 1103.6,507.8 1103.8,511.1 1104.0,508.4 1104.2,511.8 1104.4,510.7 1104.5,518.8 1104.7,508.6 1104.9,508.5 1105.1,507.6 1105.3,508.7 1105.5,504.9 1105.6,505.1 1105.8,501.2 1106.0,507.8 1106.2,504.2 1106.4,494.1 1106.6,505.1 1106.7,511.0 1106.9,507.7 1107.1,514.9 1107.3,518.0 1107.5,520.5 1107.7,528.0 1107.8,524.7 1108.0,539.4 1108.2,538.9 1108.4,538.0 1108.6,537.9 1108.8,538.3 1108.9,538.6 1109.1,544.9 1109.3,545.5 1109.5,551.3 1109.7,545.5 1109.9,552.7 1110.0,543.9 1110.2,548.7 1110.4,545.4 1110.6,552.3 1110.8,545.3 1111.0,545.2 1111.1,545.4 1111.3,538.6 1111.5,535.2 1111.7,535.9 1111.9,532.3 1112.1,525.4 1112.2,524.6 1112.4,524.7 1112.6,522.1 1112.8,517.6 1113.0,511.9 1113.2,517.4 1113.3,522.7 1113.5,518.8 1113.7,521.3 1113.9,517.9 1114.1,523.9 1114.3,531.7 1114.4,529.0 1114.6,525.3 1114.8,531.6 1115.0,532.8 1115.2,535.4 1115.4,528.5 1115.5,528.2 1115.7,532.0 1115.9,533.1 1116.1,542.1 1116.3,534.2 1116.5,535.2 1116.6,532.7 1116.8,532.4 1117.0,534.8 1117.2,535.3 1117.4,534.3 1117.6,532.1 1117.8,521.1 1117.9,528.0 1118.1,517.9 1118.3,524.6 1118.5,522.5 1118.7,522.3 1118.9,524.8 1119.0,521.6 1119.2,529.2 1119.4,524.8 1119.6,524.7 1119.8,521.1 1120.0,522.4 1120.1,514.9 1120.3,521.6 1120.5,511.2 1120.7,514.3 1120.9,511.9 1121.1,511.0 1121.2,511.1 1121.4,507.1 1121.6,510.8 1121.8,511.1 1122.0,511.1 1122.2,514.0 1122.3,511.1 1122.5,511.3 1122.7,516.8 1122.9,521.9 1123.1,531.6 1123.3,520.8 1123.4,528.2 1123.6,532.0 1123.8,538.5 1124.0,531.7 1124.2,535.1 1124.4,535.4 1124.5,534.4 1124.7,534.8 1124.9,535.3 1125.1,538.5 1125.3,534.5 1125.5,531.6 1125.6,531.3 1125.8,528.3 1126.0,527.4 1126.2,524.1 1126.4,527.6 1126.6,528.2 1126.7,519.5 1126.9,522.1 1127.1,525.6 1127.3,518.2 1127.5,519.0 1127.7,518.3 1127.8,521.6 1128.0,518.7 1128.2,514.1 1128.4,513.6 1128.6,514.1 1128.8,512.1 1128.9,515.2 1129.1,511.5 1129.3,504.5 1129.5,504.5 1129.7,504.8 1129.9,504.1 1130.0,505.0 1130.2,507.5 1130.4,515.5 1130.6,514.6 1130.8,517.7 1131.0,514.6 1131.1,517.7 1131.3,524.9 1131.5,524.0 1131.7,528.1 1131.9,528.4 1132.1,531.9 1132.2,538.3 1132.4,542.5 1132.6,534.2 1132.8,538.4 1133.0,541.6 1133.2,548.7 1133.3,545.1 1133.5,542.6 1133.7,552.0 1133.9,548.2 1134.1,556.8 1134.3,552.1 1134.4,552.0 1134.6,555.9 1134.8,555.1 1135.0,551.9 1135.2,555.9 1135.4,551.4 1135.5,545.0 1135.7,545.8 1135.9,542.8 1136.1,545.2 1136.3,541.8 1136.5,535.7 1136.6,537.7 1136.8,534.7 1137.0,527.9 1137.2,530.6 1137.4,523.4 1137.6,524.7 1137.7,528.8 1137.9,528.7 1138.1,525.6 1138.3,526.9 1138.5,528.2 1138.7,522.2 1138.8,527.9 1139.0,520.8 1139.2,521.7 1139.4,511.4 1139.6,521.9 1139.8,514.8 1140.0,518.8 1140.1,511.7 1140.3,518.3 1140.5,517.9 1140.7,518.5 1140.9,500.8 1141.1,515.3 1141.2,512.0 1141.4,501.7 1141.6,507.3 1141.8,508.2 1142.0,511.6 1142.2,501.7 1142.3,503.8 1142.5,500.9 1142.7,501.2 1142.9,498.6 1143.1,500.9 1143.3,501.7 1143.4,494.5 1143.6,502.2 1143.8,494.6 1144.0,496.9 1144.2,504.4 1144.4,504.7 1144.5,508.7 1144.7,511.7 1144.9,514.6 1145.1,510.7 1145.3,511.4 1145.5,518.1 1145.6,518.9 1145.8,522.0 1146.0,520.8 1146.2,527.1 1146.4,524.7 1146.6,521.7 1146.7,524.4 1146.9,524.7 1147.1,525.6 1147.3,518.5 1147.5,517.2 1147.7,521.7 1147.8,518.2 1148.0,518.0 1148.2,521.8 1148.4,518.5 1148.6,526.3 1148.8,518.3 1148.9,521.1 1149.1,517.9 1149.3,521.9 1149.5,515.8 1149.7,511.7 1149.9,515.1 1150.0,508.1 1150.2,507.7 1150.4,508.0 1150.6,507.3 1150.8,501.6 1151.0,504.8 1151.1,501.3 1151.3,500.7 1151.5,501.1 1151.7,497.5 1151.9,501.4 1152.1,497.7 1152.2,498.0 1152.4,501.7 1152.6,505.3 1152.8,504.0 1153.0,507.8 1153.2,504.0 1153.3,508.7 1153.5,514.3 1153.7,508.7 1153.9,514.5 1154.1,511.9 1154.3,507.7 1154.4,507.9 1154.6,514.8 1154.8,511.4 1155.0,511.3 1155.2,505.0 1155.4,515.4 1155.5,511.8 1155.7,507.7 1155.9,507.0 1156.1,504.7 1156.3,503.1 1156.5,501.6 1156.6,498.2 1156.8,490.4 1157.0,501.5 1157.2,504.2 1157.4,505.3 1157.6,511.0 1157.7,504.1 1157.9,500.9 1158.1,518.3 1158.3,514.2 1158.5,512.6 1158.7,518.0 1158.8,522.5 1159.0,518.0 1159.2,524.8 1159.4,531.3 1159.6,531.3 1159.8,528.6 1159.9,532.4 1160.1,528.4 1160.3,531.2 1160.5,531.8 1160.7,527.9 1160.9,526.9 1161.0,542.0 1161.2,534.2 1161.4,531.4 1161.6,535.1 1161.8,541.7 1162.0,541.7 1162.2,535.9 1162.3,539.0 1162.5,542.7 1162.7,535.2 1162.9,531.8 1163.1,532.7 1163.3,534.8 1163.4,531.9 1163.6,528.4 1163.8,531.9 1164.0,535.4 1164.2,531.8 1164.4,528.8 1164.5,534.7 1164.7,525.2 1164.9,524.4 1165.1,522.1 1165.3,528.9 1165.5,521.4 1165.6,517.9 1165.8,518.1 1166.0,525.2 1166.2,520.7 1166.4,517.6 1166.6,518.7 1166.7,507.9 1166.9,510.7 1167.1,506.8 1167.3,507.7 1167.5,507.0 1167.7,508.0 1167.8,507.9 1168.0,509.0 1168.2,510.7 1168.4,501.5 1168.6,500.6 1168.8,504.0 1168.9,497.7 1169.1,497.4 1169.3,502.2 1169.5,494.4 1169.7,497.4 1169.9,502.4 1170.0,490.6 1170.2,490.8 1170.4,501.1 1170.6,497.4 1170.8,504.9 1171.0,505.2 1171.1,507.3 1171.3,514.5 1171.5,511.2 1171.7,510.6 1171.9,507.3 1172.1,507.8 1172.2,507.5 1172.4,514.9 1172.6,522.0 1172.8,518.2 1173.0,521.7 1173.2,521.0 1173.3,521.2 1173.5,521.7 1173.7,532.0 1173.9,524.9 1174.1,532.0 1174.3,528.2 1174.4,534.5 1174.6,531.9 1174.8,531.5 1175.0,530.8 1175.2,522.0 1175.4,521.7 1175.5,521.9 1175.7,517.9 1175.9,522.3 1176.1,518.4 1176.3,518.7 1176.5,517.8 1176.6,514.6 1176.8,518.8 1177.0,507.9 1177.2,514.8 1177.4,515.5 1177.6,512.0 1177.7,514.9 1177.9,519.1 1178.1,517.3 1178.3,511.3 1178.5,514.5 1178.7,525.7 1178.8,519.0 1179.0,524.7 1179.2,525.0 1179.4,522.0 1179.6,525.2 1179.8,518.3 1179.9,522.1 1180.1,522.6 1180.3,525.0 1180.5,517.6 1180.7,521.5 1180.9,518.1 1181.0,521.3 1181.2,511.7 1181.4,511.7 1181.6,515.2 1181.8,515.0 1182.0,514.9 1182.1,514.2 1182.3,521.3 1182.5,514.3 1182.7,514.9 1182.9,511.3 1183.1,514.7 1183.2,518.4 1183.4,518.0 1183.6,522.1 1183.8,525.5 1184.0,531.2 1184.2,525.6 1184.4,524.7 1184.5,534.7 1184.7,538.3 1184.9,537.8 1185.1,538.7 1185.3,549.3 1185.5,541.1 1185.6,538.7 1185.8,542.2 1186.0,549.0 1186.2,545.6 1186.4,545.5 1186.6,551.8 1186.7,549.1 1186.9,555.6 1187.1,555.8 1187.3,552.2 1187.5,558.7 1187.7,555.4 1187.8,559.1 1188.0,552.6 1188.2,551.0 1188.4,544.6 1188.6,547.8 1188.8,545.0 1188.9,551.7 1189.1,545.4 1189.3,545.1 1189.5,539.2 1189.7,538.2 1189.9,538.1 1190.0,534.7 1190.2,541.7 1190.4,535.2 1190.6,538.2 1190.8,538.0 1191.0,534.4 1191.1,538.6 1191.3,531.4 1191.5,534.6 1191.7,534.9 1191.9,528.5 1192.1,529.4 1192.2,529.2 1192.4,527.8 1192.6,531.5 1192.8,530.7 1193.0,527.3 1193.2,534.1 1193.3,535.6 1193.5,535.0 1193.7,534.3 1193.9,541.5 1194.1,534.8 1194.3,534.7 1194.4,539.2 1194.6,534.1 1194.8,538.2 1195.0,538.6 1195.2,531.9 1195.4,540.7 1195.5,542.0 1195.7,537.8 1195.9,534.8 1196.1,541.0 1196.3,535.5 1196.5,540.1 1196.6,542.4 1196.8,538.3 1197.0,534.2 1197.2,542.3 1197.4,542.5 1197.6,541.3 1197.7,542.4 1197.9,547.7 1198.1,544.6 1198.3,541.9 1198.5,537.7 1198.7,542.3 1198.8,539.2 1199.0,535.1 1199.2,528.6 1199.4,532.5 1199.6,528.6 1199.8,529.0 1199.9,532.5 1200.1,527.8 1200.3,526.1 1200.5,522.2 1200.7,518.2 1200.9,518.6 1201.0,514.9 1201.2,511.5 1201.4,507.5 1201.6,507.8 1201.8,504.4 1202.0,508.6 1202.1,501.5 1202.3,498.0 1202.5,497.8 1202.7,495.1 1202.9,496.5 1203.1,493.9 1203.2,505.1 1203.4,490.8 1203.6,498.2 1203.8,498.6 1204.0,501.6 1204.2,503.8 1204.3,501.1 1204.5,504.0 1204.7,511.6 1204.9,515.3 1205.1,511.2 1205.3,511.6 1205.4,518.1 1205.6,519.2 1205.8,518.2 1206.0,514.9 1206.2,518.5 1206.4,518.7 1206.6,521.9 1206.7,518.1 1206.9,518.2 1207.1,521.8 1207.3,518.5 1207.5,518.0 1207.7,521.2 1207.8,521.4 1208.0,525.2 1208.2,521.3 1208.4,524.4 1208.6,528.2 1208.8,524.7 1208.9,525.3 1209.1,531.5 1209.3,524.7 1209.5,529.3 1209.7,528.6 1209.9,527.8 1210.0,529.0 1210.2,531.5 1210.4,527.9 1210.6,532.1 1210.8,531.0 1211.0,535.1 1211.1,535.4 1211.3,542.3 1211.5,534.8 1211.7,531.5 1211.9,531.7 1212.1,529.0 1212.2,530.8 1212.4,528.8 1212.6,531.9 1212.8,525.7 1213.0,527.7 1213.2,528.9 1213.3,521.1 1213.5,528.5 1213.7,528.1 1213.9,520.3 1214.1,531.7 1214.3,525.1 1214.4,522.0 1214.6,517.8 1214.8,517.6 1215.0,518.5 1215.2,521.4 1215.4,518.7 1215.5,518.9 1215.7,521.4 1215.9,524.9 1216.1,524.6 1216.3,523.9 1216.5,528.3 1216.6,532.1 1216.8,528.9 1217.0,521.5 1217.2,529.3 1217.4,531.5 1217.6,531.7 1217.7,534.8 1217.9,534.9 1218.1,531.6 1218.3,524.6 1218.5,534.9 1218.7,528.5 1218.8,528.4 1219.0,527.8 1219.2,525.2 1219.4,527.9 1219.6,521.8 1219.8,525.0 1219.9,520.6 1220.1,521.0 1220.3,522.1 1220.5,521.2 1220.7,517.8 1220.9,511.2 1221.0,514.8 1221.2,515.1 1221.4,514.6 1221.6,515.7 1221.8,507.7 1222.0,504.4 1222.1,504.5 1222.3,504.7 1222.5,505.4 1222.7,502.4 1222.9,511.2 1223.1,511.3 1223.2,508.3 1223.4,514.7 1223.6,515.2 1223.8,517.6 1224.0,518.6 1224.2,523.8 1224.3,521.8 1224.5,528.7 1224.7,526.3 1224.9,531.3 1225.1,532.1 1225.3,538.8 1225.4,538.0 1225.6,535.3 1225.8,538.1 1226.0,541.3 1226.2,541.1 1226.4,552.0 1226.5,538.0 1226.7,547.6 1226.9,542.0 1227.1,551.2 1227.3,549.0 1227.5,555.6 1227.6,548.2 1227.8,554.6 1228.0,551.6 1228.2,558.1 1228.4,555.3 1228.6,545.1 1228.8,553.4 1228.9,551.0 1229.1,558.5 1229.3,559.1 1229.5,559.4 1229.7,562.9 1229.9,558.3 1230.0,559.3 1230.2,564.1 1230.4,558.7 1230.6,555.9 1230.8,552.4 1231.0,551.3 1231.1,555.0 1231.3,550.9 1231.5,551.7 1231.7,551.3 1231.9,548.8 1232.1,551.7 1232.2,545.6 1232.4,548.6 1232.6,548.5 1232.8,553.0 1233.0,549.3 1233.2,544.6 1233.3,539.2 1233.5,542.3 1233.7,542.6 1233.9,545.5 1234.1,537.5 1234.3,541.7 1234.4,544.0 1234.6,544.5 1234.8,544.9 1235.0,549.3 1235.2,545.3 1235.4,555.6 1235.5,549.1 1235.7,551.6 1235.9,556.0 1236.1,555.6 1236.3,554.9 1236.5,555.1 1236.6,558.7 1236.8,552.4 1237.0,559.6 1237.2,558.7 1237.4,551.9 1237.6,553.0 1237.7,557.2 1237.9,563.2 1238.1,558.9 1238.3,555.3 1238.5,559.2 1238.7,559.0 1238.8,561.8 1239.0,552.8 1239.2,556.8 1239.4,558.4 1239.6,561.8 1239.8,562.0 1239.9,561.5 1240.1,562.7 1240.3,554.7 1240.5,572.8 1240.7,565.8 1240.9,562.6 1241.0,554.6 1241.2,555.5 1241.4,559.0 1241.6,555.9 1241.8,548.9 1242.0,545.0 1242.1,549.3 1242.3,546.0 1242.5,546.0 1242.7,538.1 1242.9,542.2 1243.1,541.4 1243.2,538.4 1243.4,542.3 1243.6,530.9 1243.8,533.2 1244.0,532.4 1244.2,531.3 1244.3,528.0 1244.5,524.9 1244.7,528.3 1244.9,524.3 1245.1,521.5 1245.3,524.1 1245.4,524.6 1245.6,532.7 1245.8,531.7 1246.0,528.1 1246.2,529.2 1246.4,528.5 1246.5,532.1 1246.7,531.4 1246.9,528.9 1247.1,531.5 1247.3,535.6 1247.5,538.8 1247.6,539.4 1247.8,545.8 1248.0,538.5 1248.2,541.3 1248.4,534.9 1248.6,531.3 1248.7,535.9 1248.9,531.5 1249.1,530.5 1249.3,528.5 1249.5,525.4 1249.7,521.0 1249.8,525.3 1250.0,524.2 1250.2,525.1 1250.4,511.3 1250.6,525.1 1250.8,525.2 1251.0,521.2 1251.1,518.6 1251.3,517.9 1251.5,514.8 1251.7,515.5 1251.9,514.3 1252.1,511.4 1252.2,512.2 1252.4,515.5 1252.6,507.6 1252.8,511.0 1253.0,504.9 1253.2,514.4 1253.3,514.8 1253.5,514.0 1253.7,515.1 1253.9,517.3 1254.1,514.8 1254.3,521.9 1254.4,528.0 1254.6,530.9 1254.8,531.0 1255.0,534.1 1255.2,542.9 1255.4,544.2 1255.5,537.8 1255.7,545.5 1255.9,548.7 1256.1,549.2 1256.3,549.4 1256.5,552.3 1256.6,558.8 1256.8,565.3 1257.0,558.7 1257.2,569.5 1257.4,572.7 1257.6,566.0 1257.7,568.1 1257.9,578.8 1258.1,575.4 1258.3,572.1 1258.5,568.4 1258.7,569.4 1258.8,562.8 1259.0,570.0 1259.2,555.2 1259.4,552.0 1259.6,555.5 1259.8,555.4 1259.9,548.2 1260.1,549.1 1260.3,544.2 1260.5,545.0 1260.7,540.8 1260.9,542.2 1261.0,537.7 1261.2,541.3 1261.4,545.3 1261.6,537.9 1261.8,538.6 1262.0,545.1 1262.1,532.8 1262.3,527.7 1262.5,531.3 1262.7,525.3 1262.9,528.4 1263.1,532.0 1263.2,521.4 1263.4,522.1 1263.6,525.1 1263.8,515.5 1264.0,514.0 1264.2,518.3 1264.3,514.6 1264.5,511.6 1264.7,517.6 1264.9,508.4 1265.1,510.6 1265.3,508.5 1265.4,508.3 1265.6,503.6 1265.8,508.2 1266.0,503.5 1266.2,508.3 1266.4,500.3 1266.5,501.2 1266.7,504.5 1266.9,500.3 1267.1,496.8 1267.3,498.1 1267.5,494.2 1267.6,498.4 1267.8,487.6 1268.0,499.3 1268.2,501.3 1268.4,502.2 1268.6,501.4 1268.7,501.3 1268.9,508.3 1269.1,507.6 1269.3,511.0 1269.5,515.7 1269.7,504.5 1269.8,520.9 1270.0,521.8 1270.2,524.5 1270.4,521.6 1270.6,529.0 1270.8,529.1 1270.9,522.6 1271.1,525.6 1271.3,532.1 1271.5,532.0 1271.7,535.3 1271.9,535.1 1272.1,543.2 1272.2,535.1 1272.4,539.4 1272.6,538.5 1272.8,542.6 1273.0,543.7 1273.2,545.4 1273.3,538.2 1273.5,542.8 1273.7,542.7 1273.9,541.6 1274.1,541.9 1274.3,535.6 1274.4,528.5 1274.6,535.2 1274.8,532.3 1275.0,534.4 1275.2,525.9 1275.4,518.4 1275.5,520.0 1275.7,521.1 1275.9,521.5 1276.1,516.1 1276.3,518.2 1276.5,510.6 1276.6,515.6 1276.8,521.8 1277.0,518.2 1277.2,518.8 1277.4,524.8 1277.6,524.9 1277.7,522.2 1277.9,525.2 1278.1,522.1 1278.3,528.2 1278.5,529.3 1278.7,524.2 1278.8,534.4 1279.0,535.4 1279.2,531.6 1279.4,535.3 1279.6,538.6 1279.8,531.7 1279.9,538.0 1280.1,535.3 1280.3,532.5 1280.5,534.7 1280.7,539.6 1280.9,546.2 1281.0,541.5 1281.2,549.2 1281.4,541.4 1281.6,538.5 1281.8,548.1 1282.0,545.1 1282.1,537.5 1282.3,535.1 1282.5,534.6 1282.7,527.9 1282.9,527.3 1283.1,525.0 1283.2,529.4 1283.4,528.2 1283.6,524.9 1283.8,521.0 1284.0,518.0 1284.2,517.8 1284.3,524.1 1284.5,517.7 1284.7,524.7 1284.9,518.4 1285.1,521.4 1285.3,521.8 1285.4,522.3 1285.6,525.5 1285.8,514.6 1286.0,524.0 1286.2,524.9 1286.4,521.7 1286.5,522.2 1286.7,521.7 1286.9,526.5 1287.1,521.4 1287.3,518.6 1287.5,521.1 1287.6,521.1 1287.8,514.7 1288.0,511.5 1288.2,511.8 1288.4,506.3 1288.6,505.3 1288.7,498.7 1288.9,502.0 1289.1,505.1 1289.3,497.8 1289.5,498.2 1289.7,508.8 1289.8,507.5 1290.0,511.8 1290.2,515.1 1290.4,518.1 1290.6,522.6 1290.8,521.2 1290.9,527.8 1291.1,525.0 1291.3,524.6 1291.5,529.1 1291.7,534.2 1291.9,527.7 1292.0,535.3 1292.2,535.6 1292.4,541.3 1292.6,542.6 1292.8,537.5 1293.0,545.9 1293.1,544.8 1293.3,541.7 1293.5,546.3 1293.7,545.3 1293.9,548.4 1294.1,542.1 1294.3,543.0 1294.4,535.2 1294.6,541.5 1294.8,531.9 1295.0,534.5 1295.2,538.2 1295.4,531.4 1295.5,528.7 1295.7,528.1 1295.9,528.6 1296.1,522.2 1296.3,529.2 1296.5,527.4 1296.6,524.9 1296.8,524.3 1297.0,525.3 1297.2,521.7 1297.4,521.6 1297.6,521.3 1297.7,517.7 1297.9,513.9 1298.1,508.6 1298.3,518.1 1298.5,511.4 1298.7,518.4 1298.8,505.1 1299.0,512.4 1299.2,504.5 1299.4,508.4 1299.6,503.7 1299.8,507.8 1299.9,504.2 1300.1,507.7 1300.3,508.7 1300.5,511.5 1300.7,518.2 1300.9,518.2 1301.0,518.1 1301.2,524.8 1301.4,521.2 1301.6,524.7 1301.8,524.7 1302.0,524.9 1302.1,520.6 1302.3,535.2 1302.5,531.7 1302.7,535.4 1302.9,537.9 1303.1,527.8 1303.2,532.2 1303.4,528.0 1303.6,532.0 1303.8,524.6 1304.0,524.3 1304.2,524.2 1304.3,528.0 1304.5,528.1 1304.7,520.9 1304.9,519.0 1305.1,525.0 1305.3,517.7 1305.4,519.0 1305.6,518.6 1305.8,517.8 1306.0,517.6 1306.2,514.7 1306.4,515.2 1306.5,520.8 1306.7,522.2 1306.9,518.0 1307.1,518.6 1307.3,514.7 1307.5,518.5 1307.6,515.1 1307.8,518.9 1308.0,514.4 1308.2,515.8 1308.4,514.1 1308.6,515.0 1308.7,515.2 1308.9,514.8 1309.1,515.3 1309.3,510.5 1309.5,511.4 1309.7,515.3 1309.8,518.2 1310.0,517.6 1310.2,514.9 1310.4,511.5 1310.6,510.9 1310.8,518.9 1310.9,514.5 1311.1,507.5 1311.3,508.1 1311.5,504.3 1311.7,504.5 1311.9,501.4 1312.0,504.4 1312.2,501.6 1312.4,501.4 1312.6,505.3 1312.8,504.1 1313.0,497.9 1313.1,498.0 1313.3,504.8 1313.5,503.5 1313.7,510.8 1313.9,515.0 1314.1,515.1 1314.2,525.0 1314.4,525.1 1314.6,525.6 1314.8,538.3 1315.0,538.1 1315.2,536.0 1315.3,538.9 1315.5,535.1 1315.7,528.0 1315.9,529.2 1316.1,524.8 1316.3,517.8 1316.5,525.7 1316.6,520.8 1316.8,511.3 1317.0,515.1 1317.2,504.5 1317.4,511.1 1317.6,508.3 1317.7,510.8 1317.9,521.5 1318.1,522.0 1318.3,527.8 1318.5,539.3 1318.7,538.4 1318.8,548.7 1319.0,548.5 1319.2,559.2 1319.4,565.4 1319.6,569.2 1319.8,566.3 1319.9,576.5 1320.1,568.2 1320.3,576.6 1320.5,572.2 1320.7,572.6 1320.9,575.9 1321.0,582.8 1321.2,575.5 1321.4,582.9 1321.6,576.4 1321.8,578.9 1322.0,582.6 1322.1,579.7 1322.3,569.6 1322.5,576.0 1322.7,569.2 1322.9,576.1 1323.1,568.9 1323.2,572.6 1323.4,565.5 1323.6,565.5 1323.8,557.6 1324.0,554.5 1324.2,555.7 1324.3,545.7 1324.5,552.3 1324.7,545.4 1324.9,545.2 1325.1,535.4 1325.3,541.7 1325.4,538.5 1325.6,532.6 1325.8,527.6 1326.0,524.6 1326.2,524.8 1326.4,523.9 1326.5,520.9 1326.7,525.5 1326.9,528.6 1327.1,524.9 1327.3,529.1 1327.5,527.8 1327.6,529.4 1327.8,538.5 1328.0,531.4 1328.2,539.1 1328.4,535.4 1328.6,528.5 1328.7,535.1 1328.9,537.5 1329.1,537.4 1329.3,535.1 1329.5,539.0 1329.7,534.7 1329.8,531.8 1330.0,530.9 1330.2,530.9 1330.4,531.7 1330.6,528.7 1330.8,528.8 1330.9,518.8 1331.1,517.8 1331.3,521.5 1331.5,525.4 1331.7,514.2 1331.9,511.2 1332.0,514.8 1332.2,518.2 1332.4,508.5 1332.6,511.6 1332.8,507.8 1333.0,513.5 1333.1,511.8 1333.3,511.9 1333.5,508.3 1333.7,504.8 1333.9,508.2 1334.1,501.9 1334.2,501.0 1334.4,501.2 1334.6,507.5 1334.8,507.9 1335.0,514.3 1335.2,507.6 1335.3,517.1 1335.5,518.1 1335.7,522.1 1335.9,516.5 1336.1,515.5 1336.3,518.2 1336.4,524.6 1336.6,525.1 1336.8,524.8 1337.0,528.3 1337.2,529.1 1337.4,525.0 1337.5,518.4 1337.7,521.4 1337.9,524.9 1338.1,524.5 1338.3,518.1 1338.5,517.7 1338.7,522.2 1338.8,514.7 1339.0,511.8 1339.2,515.5 1339.4,518.7 1339.6,517.8 1339.8,512.3 1339.9,513.7 1340.1,512.2 1340.3,513.4 1340.5,514.3 1340.7,514.7 1340.9,511.0 1341.0,513.6 1341.2,514.0 1341.4,504.7 1341.6,517.2 1341.8,515.1 1342.0,515.4 1342.1,515.5 1342.3,518.3 1342.5,518.1 1342.7,514.6 1342.9,519.7 1343.1,518.8 1343.2,518.5 1343.4,511.6 1343.6,515.4 1343.8,510.3 1344.0,515.2 1344.2,517.9 1344.3,513.5 1344.5,508.6 1344.7,507.6 1344.9,504.8 1345.1,507.6 1345.3,501.0 1345.4,502.1 1345.6,494.6 1345.8,501.4 1346.0,503.8 1346.2,508.5 1346.4,517.8 1346.5,515.0 1346.7,517.6 1346.9,528.5 1347.1,525.2 1347.3,530.9 1347.5,535.3 1347.6,538.0 1347.8,539.2 1348.0,548.9 1348.2,548.7 1348.4,540.2 1348.6,542.3 1348.7,545.1 1348.9,539.0 1349.1,535.3 1349.3,535.8 1349.5,538.0 1349.7,532.8 1349.8,534.8 1350.0,534.9 1350.2,531.3 1350.4,535.0 1350.6,536.2 1350.8,531.8 1350.9,531.1 1351.1,524.9 1351.3,531.9 1351.5,532.2 1351.7,534.9 1351.9,528.4 1352.0,536.7 1352.2,535.0 1352.4,531.8 1352.6,537.9 1352.8,535.6 1353.0,534.9 1353.1,542.9 1353.3,539.2 1353.5,542.3 1353.7,541.6 1353.9,545.1 1354.1,548.5 1354.2,545.3 1354.4,548.5 1354.6,548.4 1354.8,545.3 1355.0,552.1 1355.2,551.9 1355.3,552.6 1355.5,559.4 1355.7,561.9 1355.9,560.0 1356.1,552.3 1356.3,559.5 1356.4,559.9 1356.6,558.1 1356.8,562.5 1357.0,562.7 1357.2,569.7 1357.4,566.1 1357.5,569.6 1357.7,571.6 1357.9,571.9 1358.1,576.1 1358.3,571.3 1358.5,572.1 1358.6,572.3 1358.8,569.2 1359.0,569.5 1359.2,579.3 1359.4,575.3 1359.6,582.1 1359.7,582.8 1359.9,576.1 1360.1,579.4 1360.3,582.7 1360.5,569.1 1360.7,571.7 1360.9,565.6 1361.0,566.0 1361.2,561.6 1361.4,559.1 1361.6,559.2 1361.8,553.3 1362.0,555.4 1362.1,548.5 1362.3,551.4 1362.5,548.1 1362.7,544.4 1362.9,544.3 1363.1,542.3 1363.2,538.5 1363.4,545.5 1363.6,534.3 1363.8,540.8 1364.0,537.5 1364.2,536.0 1364.3,539.1 1364.5,534.4 1364.7,528.4 1364.9,531.8 1365.1,531.2 1365.3,528.0 1365.4,532.2 1365.6,535.5 1365.8,528.8 1366.0,525.1 1366.2,535.2 1366.4,532.0 1366.5,528.3 1366.7,532.7 1366.9,525.1 1367.1,532.0 1367.3,538.5 1367.5,524.6 1367.6,535.1 1367.8,531.6 1368.0,531.3 1368.2,532.2 1368.4,536.2 1368.6,535.3 1368.7,531.7 1368.9,528.0 1369.1,527.6 1369.3,532.1 1369.5,521.9 1369.7,524.5 1369.8,525.0 1370.0,514.3 1370.2,522.3 1370.4,514.9 1370.6,518.4 1370.8,515.7 1370.9,503.4 1371.1,501.5 1371.3,498.0 1371.5,501.1 1371.7,511.4 1371.9,512.1 1372.0,514.4 1372.2,521.2 1372.4,525.9 1372.6,528.9 1372.8,528.6 1373.0,532.2 1373.1,531.8 1373.3,535.0 1373.5,521.5 1373.7,525.1 1373.9,531.5 1374.1,527.5 1374.2,531.7 1374.4,531.9 1374.6,531.7 1374.8,522.0 1375.0,525.1 1375.2,525.5 1375.3,525.0 1375.5,521.5 1375.7,528.7 1375.9,522.1 1376.1,528.1 1376.3,527.9 1376.4,529.1 1376.6,531.5 1376.8,532.0 1377.0,541.7 1377.2,542.0 1377.4,546.1 1377.5,542.8 1377.7,537.8 1377.9,544.5 1378.1,546.9 1378.3,549.0 1378.5,549.6 1378.6,545.5 1378.8,545.2 1379.0,542.4 1379.2,534.6 1379.4,532.1 1379.6,532.5 1379.7,529.0 1379.9,525.4 1380.1,528.1 1380.3,524.8 1380.5,524.5 1380.7,522.6 1380.8,525.7 1381.0,521.6 1381.2,518.2 1381.4,511.5 1381.6,511.1 1381.8,508.3 1382.0,515.1 1382.1,504.9 1382.3,511.4 1382.5,503.3 1382.7,507.9 1382.9,507.3 1383.1,510.5 1383.2,516.0 1383.4,514.5 1383.6,514.7 1383.8,514.6 1384.0,514.3 1384.2,525.8 1384.3,517.2 1384.5,515.1 1384.7,524.7 1384.9,518.9 1385.1,525.4 1385.3,525.0 1385.4,524.2 1385.6,528.8 1385.8,518.7 1386.0,518.5 1386.2,521.4 1386.4,521.9 1386.5,521.2 1386.7,525.1 1386.9,521.8 1387.1,518.1 1387.3,524.4 1387.5,521.5 1387.6,524.5 1387.8,527.7 1388.0,522.1 1388.2,524.9 1388.4,517.9 1388.6,524.7 1388.7,521.8 1388.9,524.8 1389.1,528.0 1389.3,521.7 1389.5,528.4 1389.7,527.9 1389.8,534.5 1390.0,525.7 1390.2,531.6 1390.4,539.2 1390.6,532.1 1390.8,531.7 1390.9,541.8 1391.1,546.2 1391.3,538.2 1391.5,538.3 1391.7,538.1 1391.9,541.8 1392.0,541.4 1392.2,542.0 1392.4,541.2 1392.6,542.2 1392.8,542.1 1393.0,542.0 1393.1,538.2 1393.3,542.6 1393.5,543.0 1393.7,538.4 1393.9,538.1 1394.1,538.9 1394.2,538.4 1394.4,535.2 1394.6,538.9 1394.8,537.8 1395.0,532.1 1395.2,537.9 1395.3,537.8 1395.5,545.1 1395.7,549.5 1395.9,551.7 1396.1,552.3 1396.3,555.0 1396.4,555.8 1396.6,565.8 1396.8,566.3 1397.0,572.5 1397.2,572.4 1397.4,568.0 1397.5,572.6 1397.7,572.8 1397.9,575.9 1398.1,572.5 1398.3,576.1 1398.5,579.7 1398.6,575.3 1398.8,575.8 1399.0,569.3 1399.2,569.2 1399.4,558.3 1399.6,561.2 1399.7,555.6 1399.9,559.2 1400.1,549.6 1400.3,548.9 1400.5,548.2 1400.7,548.9 1400.8,538.5 1401.0,538.1 1401.2,547.9 1401.4,540.9 1401.6,538.1 1401.8,528.1 1401.9,531.8 1402.1,531.7 1402.3,528.5 1402.5,529.4 1402.7,528.3 1402.9,522.3 1403.0,521.1 1403.2,511.0 1403.4,524.7 1403.6,513.8 1403.8,512.3 1404.0,518.3 1404.2,515.2 1404.3,519.1 1404.5,515.0 1404.7,519.1 1404.9,516.9 1405.1,512.1 1405.3,514.9 1405.4,514.5 1405.6,515.4 1405.8,514.8 1406.0,511.0 1406.2,517.1 1406.4,519.1 1406.5,520.1 1406.7,518.2 1406.9,515.6 1407.1,515.1 1407.3,521.2 1407.5,521.4 1407.6,528.0 1407.8,531.9 1408.0,528.3 1408.2,520.9 1408.4,520.8 1408.6,529.0 1408.7,524.3 1408.9,534.5 1409.1,533.0 1409.3,531.3 1409.5,531.0 1409.7,538.0 1409.8,532.1 1410.0,538.1 1410.2,531.6 1410.4,533.8 1410.6,531.4 1410.8,535.1 1410.9,531.7 1411.1,535.9 1411.3,535.4 1411.5,526.7 1411.7,524.0 1411.9,524.4 1412.0,528.2 1412.2,528.4 1412.4,525.3 1412.6,530.8 1412.8,527.1 1413.0,525.4 1413.1,524.4 1413.3,523.6 1413.5,527.8 1413.7,528.1 1413.9,524.3 1414.1,527.7 1414.2,525.5 1414.4,531.1 1414.6,535.3 1414.8,531.8 1415.0,534.9 1415.2,536.4 1415.3,534.4 1415.5,546.7 1415.7,541.3 1415.9,541.7 1416.1,538.7 1416.3,545.9 1416.4,545.6 1416.6,548.5 1416.8,545.1 1417.0,549.3 1417.2,546.1 1417.4,541.6 1417.5,549.3 1417.7,545.6 1417.9,538.6 1418.1,531.1 1418.3,534.4 1418.5,531.9 1418.6,530.2 1418.8,528.0 1419.0,528.6 1419.2,527.4 1419.4,529.2 1419.6,522.5 1419.7,524.3 1419.9,521.5 1420.1,518.1 1420.3,521.2 1420.5,517.9 1420.7,525.2 1420.8,522.5 1421.0,518.2 1421.2,518.2 1421.4,525.0 1421.6,524.6 1421.8,518.5 1421.9,517.9 1422.1,521.0 1422.3,521.9 1422.5,513.7 1422.7,521.3 1422.9,514.5 1423.0,518.1 1423.2,510.5 1423.4,514.2 1423.6,511.3 1423.8,511.7 1424.0,514.7 1424.1,507.9 1424.3,510.9 1424.5,514.8 1424.7,509.8 1424.9,518.5 1425.1,508.5 1425.2,521.5 1425.4,510.8 1425.6,515.5 1425.8,517.8 1426.0,515.5 1426.2,507.8 1426.4,511.0 1426.5,514.7 1426.7,517.8 1426.9,518.1 1427.1,521.8 1427.3,521.4 1427.5,514.5 1427.6,518.1 1427.8,511.6 1428.0,514.8 1428.2,511.7 1428.4,508.3 1428.6,514.9 1428.7,511.8 1428.9,511.4 1429.1,505.2 1429.3,504.8 1429.5,505.1 1429.7,504.5 1429.8,503.8 1430.0,501.0 1430.2,504.6 1430.4,504.8 1430.6,518.1 1430.8,515.6 1430.9,514.1 1431.1,520.6 1431.3,524.8 1431.5,524.6 1431.7,528.3 1431.9,528.7 1432.0,533.2 1432.2,527.6 1432.4,531.1 1432.6,535.1 1432.8,541.1 1433.0,548.3 1433.1,546.0 1433.3,541.9 1433.5,545.3 1433.7,539.1 1433.9,541.0 1434.1,542.0 1434.2,535.1 1434.4,538.6 1434.6,534.6 1434.8,531.5 1435.0,531.7 1435.2,528.7 1435.3,534.7 1435.5,538.8 1435.7,530.6 1435.9,535.3 1436.1,525.4 1436.3,531.2 1436.4,531.6 1436.6,528.3 1436.8,521.7 1437.0,525.6 1437.2,518.3 1437.4,521.4 1437.5,514.7 1437.7,514.9 1437.9,511.8 1438.1,514.9 1438.3,514.5 1438.5,521.4 1438.6,521.1 1438.8,524.5 1439.0,524.7 1439.2,524.6 1439.4,528.7 1439.6,531.1 1439.7,531.8 1439.9,534.5 1440.1,535.5 1440.3,538.7 1440.5,539.2 1440.7,535.4 1440.8,541.3 1441.0,538.5 1441.2,531.4 1441.4,538.2 1441.6,527.8 1441.8,534.9 1441.9,531.8 1442.1,528.4 1442.3,533.0 1442.5,528.2 1442.7,525.0 1442.9,521.5 1443.0,518.0 1443.2,521.4 1443.4,525.0 1443.6,521.4 1443.8,518.6 1444.0,521.8 1444.1,521.1 1444.3,528.3 1444.5,521.7 1444.7,524.8 1444.9,524.8 1445.1,524.9 1445.2,525.3 1445.4,531.8 1445.6,528.0 1445.8,528.3 1446.0,532.4 1446.2,534.6 1446.3,532.1 1446.5,535.0 1446.7,530.3 1446.9,525.3 1447.1,528.4 1447.3,521.5 1447.4,524.1 1447.6,528.1 1447.8,529.4 1448.0,525.1" fill="none" stroke="#9400D3" stroke-width="1" marker-start="url(#mp)" marker-mid="url(#mp)" marker-end="url(#mp)"/>
<polyline points="127.0,375.8 127.2,376.4 127.4,376.8 127.6,376.5 127.7,377.6 127.9,378.3 128.1,377.2 128.3,378.5 128.5,377.1 128.7,378.3 128.8,380.4 129.0,381.1 129.2,382.0 129.4,380.1 129.6,381.3 129.8,381.5 129.9,382.9 130.1,382.8 130.3,383.0 130.5,383.7 130.7,383.4 130.9,384.8 131.0,384.2 131.2,385.6 131.4,385.4 131.6,385.8 131.8,385.2 132.0,385.3 132.1,385.7 132.3,387.5 132.5,386.0 132.7,388.9 132.9,388.1 133.1,387.7 133.2,389.3 133.4,388.6 133.6,389.9 133.8,390.0 134.0,391.5 134.2,391.6 134.3,392.1 134.5,391.4 134.7,393.1 134.9,392.5 135.1,393.0 135.3,393.6 135.4,393.9 135.6,393.1 135.8,394.9 136.0,393.7 136.2,395.6 137.0,390.1 137.0,384.6 137.0,379.0 137.0,373.5 137.0,368.0 137.0,362.5 137.0,357.0 137.0,351.5 137.9,346.0 138.1,346.0 138.3,345.2 138.5,346.6 138.6,345.8 138.8,346.5 139.0,345.3 139.2,345.3 139.4,345.8 139.6,346.5 139.7,344.8 139.9,345.3 140.1,345.3 140.3,345.4 140.5,345.3 140.7,346.3 140.8,346.1 141.0,345.5 141.2,346.1 141.4,346.2 141.6,345.0 141.8,344.9 141.9,345.9 142.1,346.9 142.3,343.6 143.2,338.9 143.2,334.1 143.2,329.4 143.2,324.6 143.2,319.9 143.2,315.1 144.0,310.0 144.2,310.8 144.4,309.5 144.6,310.5 144.7,309.8 144.9,308.6 145.1,309.0 145.3,309.4 145.5,308.3 145.7,309.1 145.8,308.8 146.0,308.1 146.2,308.4 146.4,307.7 146.6,308.0 146.8,306.9 146.9,308.4 147.1,307.1 147.3,307.9 147.5,308.4 147.7,307.8 147.9,306.5 148.0,306.4 148.2,306.1 148.4,306.2 148.6,305.2 148.8,304.3 149.0,305.6 149.1,305.2 149.3,306.1 149.5,306.1 149.7,303.7 149.9,303.8 150.1,304.8 150.2,304.9 150.4,304.0 150.6,303.7 150.8,302.2 151.0,305.0 151.2,302.6 151.3,303.4 151.5,303.0 151.7,301.9 151.9,303.0 152.1,303.3 152.3,302.0 152.4,301.9 152.6,302.1 152.8,302.2 153.0,301.9 153.2,300.5 153.4,300.2 153.5,300.3 153.7,298.6 153.9,299.4 154.1,300.0 154.3,299.5 154.5,299.2 154.6,300.2 154.8,299.7 155.0,299.8 155.2,298.9 155.4,298.6 155.6,298.1 155.7,298.7 155.9,297.0 156.1,297.5 156.3,298.4 156.5,298.4 156.7,297.5 156.8,296.6 157.0,297.6 157.2,296.5 157.4,296.7 157.6,295.9 157.8,297.8 157.9,297.3 158.1,295.5 158.3,295.1 158.5,295.7 158.7,296.0 158.9,296.2 159.0,295.1 159.2,294.1 159.4,295.0 159.6,294.8 159.8,293.3 160.0,294.0 160.1,293.8 160.3,293.1 160.5,293.8 160.7,294.2 160.9,294.0 161.1,292.5 161.2,292.5 161.4,293.2 161.6,292.3 161.8,292.1 162.0,293.7 162.2,290.1 162.3,291.3 162.5,291.0 162.7,291.4 162.9,292.5 163.1,290.9 163.3,290.7 163.4,290.8 163.6,290.3 163.8,290.6 164.0,291.9 164.2,289.4 164.4,289.6 164.5,289.5 164.7,287.9 164.9,289.6 165.1,289.0 165.3,287.4 165.5,288.4 165.6,288.6 165.8,287.6 166.0,288.9 166.2,287.5 166.4,286.6 166.6,288.1 166.8,287.2 166.9,287.2 167.1,285.8 167.3,285.8 167.5,285.9 167.7,286.3 167.9,286.1 168.0,287.0 168.2,286.9 168.4,285.7 168.6,285.4 168.8,286.6 169.0,285.1 169.1,285.6 169.3,284.4 169.5,284.5 169.7,284.2 169.9,283.7 170.1,284.2 170.2,283.2 170.4,283.5 170.6,283.7 170.8,284.7 171.0,281.7 171.2,282.9 171.3,283.1 171.5,282.2 171.7,282.9 171.9,282.5 172.1,282.3 172.3,281.4 172.4,281.4 172.6,281.2 172.8,280.5 173.0,281.1 173.2,280.1 173.4,280.0 173.5,279.4 173.7,281.0 173.9,279.7 174.1,279.2 174.3,280.3 174.5,279.2 174.6,279.6 174.8,279.0 175.0,279.2 175.2,278.9 175.4,277.0 175.6,279.4 175.7,278.9 175.9,277.0 176.1,278.5 176.3,277.5 176.5,277.5 176.7,278.2 176.8,277.8 177.0,277.6 177.2,278.2 177.4,277.3 177.6,275.9 177.8,275.2 177.9,276.6 178.1,274.6 178.3,275.4 178.5,275.2 178.7,274.7 178.9,276.0 179.0,275.1 179.2,274.5 179.9,280.4 179.9,286.3 179.9,292.2 179.9,298.2 179.9,304.1 179.9,310.0 179.9,315.9 180.5,322.4 180.7,321.9 180.9,323.5 181.1,324.5 181.2,323.3 181.4,323.7 181.6,325.1 181.8,323.3 182.0,324.2 182.2,324.7 182.3,324.7 182.5,326.3 182.7,326.9 182.9,327.1 183.1,327.5 183.3,328.6 183.4,329.1 183.6,329.6 183.8,329.1 184.0,329.6 184.2,331.0 184.4,330.7 184.5,331.7 184.7,330.9 184.9,331.6 185.1,331.6 185.3,332.4 185.5,333.1 185.6,332.9 185.8,335.1 186.0,333.0 186.2,335.1 186.4,334.1 186.6,335.5 186.7,335.2 186.9,336.2 187.1,336.6 187.3,336.4 187.5,336.5 187.7,337.2 187.8,338.2 188.0,339.1 188.2,340.1 188.4,338.2 188.6,340.1 188.8,339.9 188.9,340.6 189.1,341.2 189.3,342.0 189.5,342.1 189.7,342.2 189.9,343.8 190.0,343.3 190.2,343.5 190.4,344.7 190.6,343.5 190.8,344.0 191.0,346.1 191.1,345.4 191.3,344.7 191.5,346.9 191.7,347.6 191.9,346.6 192.1,346.6 192.2,347.9 192.4,348.6 192.6,348.4 192.8,348.5 193.0,350.0 193.2,350.4 193.3,349.3 193.5,350.0 193.7,351.0 193.9,351.2 194.1,352.2 194.3,352.8 194.4,354.2 194.6,353.5 194.8,354.3 195.0,353.0 195.2,354.0 195.4,355.7 195.5,354.3 195.7,356.7 195.9,356.5 196.1,356.6 196.3,356.9 196.5,356.5 196.6,357.0 196.8,357.8 197.0,358.3 197.2,359.9 197.4,358.7 197.6,359.4 197.7,359.0 197.9,360.8 198.1,361.0 198.3,362.2 198.5,363.2 198.7,362.7 198.8,362.1 199.0,363.3 199.2,363.7 199.4,363.9 199.6,363.6 199.8,365.0 199.9,364.3 200.1,365.5 200.3,365.7 200.5,364.5 200.7,367.2 200.9,368.7 201.0,367.3 201.2,367.6 201.4,369.1 201.6,367.9 201.8,369.2 202.0,369.8 202.1,369.6 202.3,370.4 202.5,370.3 202.7,370.9 202.9,372.2 203.1,371.5 203.3,372.1 203.4,372.4 203.6,373.7 203.8,373.5 204.0,373.5 204.2,374.8 204.4,373.5 204.5,374.0 204.7,376.0 204.9,377.5 205.1,376.2 205.3,377.2 205.5,376.4 205.6,377.9 205.8,378.4 206.0,379.0 206.2,378.5 206.4,380.8 206.6,379.2 206.7,381.3 206.9,379.9 207.1,381.6 207.3,382.4 207.5,383.4 207.7,382.2 207.8,381.6 208.0,383.7 208.2,383.0 208.4,383.2 208.6,383.9 208.8,384.1 208.9,385.7 209.1,385.7 210.1,380.5 210.1,375.2 210.1,369.9 210.1,364.7 211.0,359.9 211.2,359.9 211.4,359.0 211.6,359.7 211.7,360.0 211.9,360.4 212.1,359.2 212.3,358.8 212.5,358.3 212.7,358.6 212.8,358.9 213.0,359.0 213.2,357.8 213.4,358.4 213.6,358.5 213.8,358.2 213.9,358.1 214.1,358.7 214.3,357.7 214.5,358.7 214.7,357.6 214.9,358.4 215.0,357.4 215.2,359.0 215.4,358.6 215.6,359.0 215.8,357.4 216.0,357.0 216.1,357.0 216.3,357.7 216.5,358.5 216.7,358.2 216.9,358.2 217.1,356.7 217.2,358.3 217.4,358.0 217.6,357.1 217.8,355.6 218.0,356.8 218.2,357.2 218.3,358.4 218.5,357.3 218.7,357.1 218.9,358.2 219.1,358.1 219.3,357.2 219.4,357.4 219.6,357.8 219.8,356.3 220.0,357.0 220.2,356.4 220.4,356.0 220.5,357.0 220.7,357.3 220.9,357.8 221.1,357.0 221.3,357.2 221.5,356.2 221.6,355.2 221.8,355.8 222.0,356.5 222.2,355.7 222.4,357.4 222.6,356.9 222.7,355.8 222.9,357.1 223.1,356.3 223.3,357.0 223.5,355.6 223.7,356.3 223.8,355.5 224.0,355.6 224.2,356.4 224.4,356.8 224.6,355.5 224.8,355.6 224.9,354.7 225.1,355.1 225.3,355.5 225.5,354.2 225.7,354.7 225.9,354.1 226.0,354.9 226.2,355.4 226.4,354.9 226.6,354.3 226.8,353.7 227.0,353.2 227.1,354.3 227.3,355.3 227.5,353.9 227.7,354.0 227.9,353.6 228.1,353.0 228.2,354.5 228.4,354.2 228.6,352.5 228.8,352.6 229.0,354.4 229.2,352.7 229.3,353.2 229.5,352.4 229.7,353.3 229.9,352.4 230.1,352.4 230.3,352.0 230.4,354.1 230.6,354.5 230.8,352.7 231.0,352.9 231.2,352.7 231.4,352.3 231.5,352.1 231.7,351.8 231.9,352.6 232.1,351.0 232.3,351.2 232.5,352.2 232.6,350.6 232.8,352.7 233.0,351.3 233.2,351.5 233.4,352.2 233.6,351.2 233.8,351.2 233.9,350.6 234.1,351.3 234.3,351.3 234.5,350.1 234.7,351.1 234.9,351.3 235.0,350.8 235.2,349.9 235.4,351.0 235.6,351.2 235.8,349.8 236.0,348.7 236.1,349.5 236.3,349.9 236.5,350.7 236.7,350.6 236.9,350.1 237.1,349.1 237.2,350.0 237.4,349.3 237.6,348.5 237.8,348.0 238.0,349.9 238.2,348.0 238.3,350.0 238.5,350.7 238.7,349.1 238.9,348.4 239.1,348.5 239.3,348.4 239.4,349.2 239.6,349.6 239.8,348.3 240.0,348.5 240.2,348.2 240.4,349.5 240.5,349.3 240.7,348.0 240.9,348.3 241.1,348.6 241.3,347.2 241.5,348.0 241.6,348.5 241.8,347.3 242.0,348.5 242.2,348.3 242.4,347.8 242.6,348.9 242.7,347.5 242.9,348.4 243.1,347.9 243.3,348.8 243.5,347.4 243.7,348.4 243.8,348.3 244.0,348.7 244.2,349.0 244.4,346.7 244.6,347.7 244.8,346.9 244.9,348.4 245.1,348.6 245.3,347.4 245.5,347.7 245.7,348.4 245.9,347.6 246.0,347.3 246.2,346.2 246.4,346.8 247.0,343.8 247.0,340.9 247.0,337.9 247.0,334.9 247.0,331.9 247.0,328.9 247.0,326.0 247.0,323.0 247.5,320.7 247.7,319.0 247.9,320.3 248.1,320.3 248.2,320.2 248.4,320.9 248.6,319.8 248.8,321.4 249.0,320.1 249.2,321.2 249.3,320.1 249.5,320.8 249.7,320.4 249.9,322.0 250.1,320.0 250.3,320.4 250.4,322.0 250.6,321.5 250.8,321.0 251.0,320.9 251.2,320.2 251.4,321.0 251.5,321.5 251.7,322.2 251.9,322.0 252.1,322.5 252.3,321.7 252.5,321.0 252.6,321.3 252.8,322.7 253.0,321.8 253.2,322.8 253.4,320.7 253.6,321.5 253.7,321.3 253.9,322.2 254.1,321.5 254.3,321.1 254.5,322.1 254.7,320.5 254.8,321.8 255.0,322.6 255.2,321.4 255.4,322.2 255.6,321.6 255.8,321.9 255.9,322.3 256.1,322.4 256.3,322.4 256.5,321.5 256.7,323.1 256.9,322.2 257.0,321.5 257.2,322.9 257.4,321.6 257.6,323.3 257.8,322.4 258.0,321.7 258.1,321.4 258.3,321.1 258.5,321.1 258.7,321.4 258.9,322.6 259.1,321.7 259.2,321.5 259.4,321.8 259.6,321.2 259.8,320.5 260.0,320.3 260.2,322.4 260.3,321.1 260.5,322.5 260.7,322.7 260.9,321.4 261.1,321.8 261.3,320.9 261.4,321.0 261.6,321.2 261.8,321.1 262.0,322.1 262.2,320.9 262.4,321.6 262.5,321.0 262.7,321.4 262.9,322.2 263.1,319.7 263.3,321.7 263.5,320.3 263.6,320.9 263.8,320.4 264.0,320.3 264.2,319.6 264.4,318.6 264.6,322.1 264.7,321.2 264.9,320.3 265.1,319.1 265.3,320.9 265.5,321.6 265.7,320.7 265.8,319.1 266.0,319.9 266.2,320.5 266.4,320.2 266.6,321.0 266.8,319.4 266.9,319.6 267.1,318.2 267.3,320.9 267.5,320.5 267.7,319.5 267.9,318.4 268.0,320.2 268.2,318.3 268.4,318.2 268.6,317.6 268.8,317.8 269.0,318.0 269.1,317.7 269.3,319.2 269.5,318.7 269.7,318.1 269.9,317.4 270.1,317.6 270.3,316.5 270.4,317.6 270.6,316.5 270.8,316.6 271.0,317.1 271.2,316.0 271.4,315.5 271.5,317.1 271.7,314.9 271.9,315.1 272.1,315.0 272.3,315.1 272.5,315.4 272.6,312.9 272.8,314.8 273.0,316.1 273.2,315.7 273.4,315.3 273.6,314.5 273.7,314.5 273.9,313.8 274.1,312.8 274.3,314.1 274.5,314.5 274.7,313.7 274.8,313.3 275.0,313.8 275.2,313.3 275.4,313.7 275.6,312.4 275.8,311.2 275.9,312.7 276.1,312.9 276.3,311.4 276.5,312.0 276.7,312.2 276.9,309.5 277.0,313.2 277.2,311.8 277.4,310.9 277.6,310.0 277.8,309.5 278.0,313.1 278.1,310.1 278.3,310.7 278.5,309.5 278.7,309.6 278.9,310.2 279.1,308.8 279.2,309.3 279.4,309.0 279.6,309.4 279.8,309.5 280.0,308.6 280.2,309.6 280.3,308.0 280.5,307.9 280.7,308.1 280.9,307.7 281.1,308.3 281.3,305.4 281.4,305.9 281.6,305.3 281.8,307.8 282.0,307.1 282.2,305.6 282.4,306.2 282.5,304.2 282.7,305.1 282.9,306.2 283.1,305.2 283.3,306.1 283.5,303.8 283.6,304.8 283.8,303.7 284.0,303.6 284.2,303.3 284.4,303.4 284.6,303.5 284.7,302.3 284.9,302.2 285.1,301.6 285.3,301.6 285.5,300.5 285.7,301.6 285.8,301.1 286.0,300.5 286.2,300.0 286.4,299.2 286.6,298.7 286.8,298.3 286.9,298.3 287.1,299.3 287.3,298.6 287.5,296.9 287.7,297.0 287.9,298.5 288.0,298.4 288.2,297.5 288.4,298.2 288.6,295.8 288.8,296.4 289.0,295.3 289.1,297.2 289.3,295.5 289.5,295.3 289.7,294.9 289.9,293.9 290.1,294.1 290.2,292.1 290.4,293.2 290.6,292.5 290.8,293.6 291.0,293.7 291.2,292.6 291.3,291.4 291.5,291.0 291.7,292.1 291.9,291.1 292.1,290.8 292.3,289.9 292.5,290.6 292.6,290.3 292.8,290.5 293.0,288.9 293.2,289.3 293.4,288.0 293.6,288.9 293.7,288.5 293.9,287.9 294.1,288.6 294.3,286.7 294.5,288.6 294.7,287.4 294.8,287.2 295.0,286.7 295.2,285.6 295.4,285.3 295.6,286.0 295.8,284.9 295.9,284.7 296.1,283.8 296.3,284.3 296.5,283.8 296.7,281.9 296.9,284.0 297.0,282.9 297.2,282.3 297.4,281.5 297.6,280.8 297.8,281.1 298.0,282.0 298.1,279.6 298.3,278.4 298.5,278.8 298.7,278.5 298.9,278.7 299.1,276.7 299.2,276.9 299.4,276.5 299.6,277.1 299.8,276.8 300.0,275.7 300.2,276.0 300.3,274.8 300.5,274.4 300.7,272.2 300.9,272.9 301.1,272.3 301.3,273.1 301.4,272.4 301.6,271.1 301.8,271.5 302.0,271.0 302.2,271.0 302.4,269.9 302.5,269.3 302.7,270.4 302.9,268.9 303.1,269.4 303.3,267.6 303.5,267.7 303.6,267.2 303.8,266.3 304.0,267.2 304.2,265.2 304.4,266.0 304.6,263.8 304.7,265.5 304.9,264.6 305.1,265.0 305.3,265.3 305.5,262.9 305.7,263.0 305.8,261.6 306.0,261.8 306.2,261.8 306.4,261.4 306.6,261.5 306.8,260.9 306.9,260.9 307.1,259.2 307.3,259.4 307.5,258.1 307.7,258.4 307.9,256.0 308.0,257.6 308.2,257.3 308.4,256.5 308.6,256.2 308.8,254.8 309.0,255.1 309.1,254.7 309.3,254.8 309.5,254.5 309.7,253.4 309.9,253.1 310.1,253.0 310.2,251.6 310.4,252.6 310.6,252.9 310.8,251.2 311.0,250.0 311.2,250.1 311.3,250.3 311.5,249.9 311.7,247.5 311.9,248.3 312.1,247.0 312.3,246.7 312.4,246.8 312.6,246.5 312.8,245.5 313.0,244.6 313.2,244.6 313.4,243.5 313.6,245.1 313.7,242.1 313.9,243.3 314.1,242.4 314.3,241.9 314.5,240.6 314.7,240.6 314.8,240.2 315.0,239.6 315.2,239.3 315.4,239.1 315.6,238.2 315.8,238.4 315.9,238.2 316.1,236.7 316.3,237.2 316.5,236.2 316.7,235.3 316.9,235.6 317.0,235.6 317.2,234.1 317.4,232.5 317.6,233.9 317.8,233.6 318.0,231.6 318.1,231.8 318.3,231.8 318.5,229.2 318.7,231.1 318.9,230.5 319.1,230.1 319.2,230.1 319.4,227.7 319.6,228.7 319.8,229.2 320.0,225.3 320.2,226.2 320.3,226.5 320.5,224.9 320.7,223.6 320.9,224.7 321.1,224.1 321.3,222.9 321.4,223.2 321.6,223.2 321.8,222.7 322.0,221.8 322.2,220.1 322.4,220.3 322.5,218.3 322.7,218.7 322.9,219.1 323.1,218.9 323.3,218.0 323.5,217.5 323.6,215.5 323.8,215.5 324.6,221.5 324.6,227.4 324.6,233.3 324.6,239.3 324.6,245.2 324.6,251.1 324.6,257.1 325.3,262.1 325.5,262.3 325.7,262.0 325.9,263.9 326.0,262.8 326.2,261.0 326.4,261.0 326.6,260.9 326.8,260.6 327.0,260.4 327.1,259.0 327.3,261.2 327.5,260.6 327.7,260.3 327.9,259.7 328.1,259.7 328.2,258.8 328.4,257.4 328.6,258.7 328.8,258.4 329.0,257.1 329.2,256.2 329.3,258.5 329.5,256.6 329.7,257.0 329.9,256.4 330.1,257.9 330.3,255.3 330.4,257.0 330.6,254.0 330.8,256.4 331.0,255.1 331.2,253.5 331.4,255.0 331.5,254.7 331.7,253.3 331.9,254.5 332.1,254.0 332.3,254.1 332.5,252.5 332.6,252.7 332.8,252.3 333.0,252.9 333.2,252.2 333.4,251.6 333.6,253.1 333.7,251.4 333.9,252.4 334.1,252.0 334.3,250.6 334.5,249.5 334.7,250.8 334.8,250.9 335.0,251.0 335.2,250.2 335.4,250.0 335.6,248.9 336.2,256.8 336.2,264.6 336.2,272.5 336.2,280.3 336.2,288.2 336.2,296.0 336.2,303.9 336.2,311.7 336.8,319.0 337.0,322.0 337.2,320.4 337.4,318.6 337.5,319.8 337.7,319.9 337.9,318.2 338.1,319.4 338.3,320.0 338.5,320.9 338.6,320.8 338.8,319.4 339.0,319.4 339.2,319.3 339.4,319.8 339.6,320.3 339.7,318.9 339.9,319.5 340.1,319.2 340.3,319.1 340.5,319.3 340.7,321.1 340.8,321.0 341.0,320.8 341.2,318.4 341.4,319.9 341.6,321.5 341.8,320.0 341.9,319.2 342.1,320.2 342.3,319.5 342.5,319.4 342.7,319.9 342.9,320.1 343.0,319.6 343.2,319.7 343.4,319.0 343.6,319.7 343.8,320.3 344.0,319.9 344.1,319.7 344.3,318.7 344.5,320.7 344.7,318.9 344.9,320.3 345.1,319.5 345.2,320.4 345.4,320.6 345.6,319.6 345.8,317.5 346.0,318.3 346.2,319.1 346.3,319.2 346.5,320.1 346.7,321.4 346.9,320.4 347.1,319.8 347.3,320.9 347.4,319.8 347.6,320.6 347.8,320.2 348.0,318.4 348.2,320.7 348.4,321.3 348.5,319.7 348.7,320.5 348.9,320.3 349.1,319.7 349.3,319.7 349.5,320.7 349.6,319.5 349.8,319.6 350.0,320.6 350.2,320.6 350.4,321.0 350.6,319.3 350.7,318.7 350.9,320.4 351.1,318.4 351.3,319.2 351.5,319.2 351.7,320.6 351.8,319.3 352.0,318.3 352.2,319.1 352.4,320.0 352.6,317.6 352.8,317.9 352.9,319.6 353.1,318.8 353.3,317.9 353.5,318.4 353.7,318.6 353.9,317.6 354.0,317.9 354.2,319.4 354.4,318.5 354.6,319.0 354.8,318.0 355.0,317.6 355.1,318.2 355.3,317.2 355.5,318.1 355.7,317.5 355.9,317.4 356.1,317.4 356.2,316.8 356.4,318.5 356.6,316.2 356.8,317.4 357.0,316.2 357.2,317.8 357.3,316.9 357.5,317.1 357.7,317.3 357.9,317.1 358.1,316.9 358.3,317.0 358.4,316.9 358.6,316.2 358.8,316.2 359.0,316.2 359.2,315.8 359.4,315.8 359.6,317.2 359.7,315.0 359.9,317.3 360.1,315.6 360.3,316.4 360.5,315.8 360.7,315.6 360.8,316.1 361.0,316.9 361.2,315.4 361.4,315.4 361.6,315.0 361.8,316.8 361.9,316.1 362.1,316.0 362.3,315.1 362.5,313.6 362.7,315.3 362.9,313.5 363.0,314.3 363.2,315.4 363.4,314.2 363.6,314.1 363.8,312.9 364.0,314.9 364.1,314.5 364.3,313.7 364.5,314.2 364.7,312.6 364.9,313.0 365.1,313.7 365.2,314.1 365.4,313.3 365.6,312.2 365.8,312.7 366.0,313.7 366.2,312.3 366.3,312.8 366.5,312.8 366.7,311.9 366.9,312.2 367.1,310.7 367.3,311.5 367.4,311.9 367.6,312.2 367.8,312.5 368.0,311.1 368.2,311.6 368.4,311.1 368.5,310.4 368.7,310.3 368.9,310.7 369.1,310.6 369.3,309.9 369.5,312.4 369.6,310.2 369.8,310.6 370.0,309.7 370.2,311.9 370.4,308.0 370.6,309.3 370.7,309.5 370.9,310.2 371.1,309.1 371.3,308.3 371.5,310.1 371.7,309.2 371.8,308.4 372.0,308.3 372.2,308.1 372.4,308.3 372.6,306.8 372.8,308.0 372.9,307.3 373.1,308.0 373.3,307.8 373.5,306.6 373.7,308.3 373.9,307.7 374.0,306.3 374.2,306.1 374.4,306.2 374.6,306.9 374.8,307.4 375.0,305.7 375.1,305.6 375.3,306.4 375.5,305.9 375.7,305.7 375.9,305.6 376.1,305.3 376.2,306.7 376.4,306.0 376.6,304.9 376.8,305.9 377.0,306.3 377.2,305.1 377.3,304.8 377.5,304.1 377.7,304.3 377.9,304.2 378.1,304.8 378.3,302.9 378.4,302.2 378.6,302.8 378.8,303.2 379.0,301.2 379.2,302.4 379.4,301.7 379.5,301.3 379.7,302.0 379.9,302.5 380.1,300.4 380.3,301.4 380.5,300.9 380.6,301.3 380.8,300.6 381.0,299.9 381.2,300.8 381.4,300.3 381.6,299.0 381.8,298.0 381.9,298.8 382.1,299.3 382.3,299.5 382.5,298.3 382.7,298.2 382.9,296.9 383.0,297.7 383.2,297.9 383.4,297.2 383.6,297.3 383.8,296.5 384.0,296.3 384.1,297.0 384.3,295.4 384.5,296.3 384.7,297.0 384.9,295.5 385.1,295.3 385.2,294.9 385.4,294.3 385.6,294.6 385.8,293.9 386.0,294.5 386.2,294.0 386.3,293.4 386.5,294.0 386.7,294.5 386.9,294.1 387.1,293.1 387.3,293.1 387.4,292.1 387.6,292.5 387.8,293.0 388.0,292.8 388.2,293.1 388.4,290.7 388.5,292.8 388.7,291.7 388.9,292.4 389.1,291.0 389.3,291.7 389.5,290.5 389.6,289.6 389.8,290.4 390.0,289.6 390.2,289.7 390.4,289.9 390.6,289.9 390.7,289.6 390.9,289.6 391.1,287.5 391.3,289.3 391.5,287.6 391.7,288.0 391.8,287.3 392.0,286.5 392.2,287.7 392.4,286.1 392.6,286.1 392.8,287.4 392.9,284.3 393.1,284.5 393.3,286.2 393.5,284.9 393.7,285.5 393.9,284.6 394.0,284.0 394.2,284.6 394.4,283.3 394.6,283.2 394.8,283.5 395.0,282.2 395.1,281.7 395.3,281.3 395.5,282.9 395.7,283.4 395.9,282.6 396.1,280.9 396.2,280.8 396.4,280.1 396.6,280.6 396.8,281.1 397.0,280.0 397.2,279.8 397.3,277.1 397.5,279.5 397.7,278.1 397.9,278.5 398.1,278.7 398.3,278.3 398.4,278.4 398.6,278.8 398.8,275.7 399.0,275.9 399.2,278.1 399.4,276.9 399.5,275.7 399.7,275.8 399.9,275.7 400.1,276.3 400.3,275.0 400.5,274.9 400.6,273.7 400.8,275.5 401.0,274.5 401.2,273.5 401.4,272.6 401.6,273.3 401.7,273.7 401.9,274.5 402.1,273.9 402.3,272.0 402.5,271.7 402.7,271.0 402.9,271.8 403.0,270.6 403.2,271.3 403.4,270.9 403.6,270.7 403.8,269.4 404.0,270.7 404.1,269.4 404.3,268.4 404.5,269.0 404.7,268.9 404.9,268.5 405.1,268.9 405.2,268.8 405.4,269.3 405.6,267.2 405.8,267.9 406.0,264.7 406.2,267.7 406.3,266.0 406.5,266.7 406.7,265.2 406.9,265.5 407.1,265.3 407.3,264.0 407.4,263.7 407.6,261.7 407.8,264.0 408.0,263.1 408.2,262.8 408.4,263.5 408.5,262.6 408.7,262.2 408.9,260.3 409.1,261.5 409.3,260.8 409.5,261.5 409.6,260.1 409.8,259.2 410.0,259.7 410.2,260.9 410.4,258.6 410.6,259.9 410.7,258.5 410.9,256.8 411.1,258.4 411.3,259.4 411.5,257.7 411.7,256.2 411.8,256.6 412.0,255.8 412.2,258.3 412.4,256.2 412.6,253.7 412.8,255.8 412.9,255.2 413.1,253.8 413.3,253.8 413.5,253.9 413.7,254.9 413.9,252.9 414.0,252.4 414.2,253.4 414.4,251.9 414.6,251.3 414.8,251.7 415.0,252.1 415.1,251.3 415.3,250.6 415.5,251.6 415.7,251.3 415.9,248.7 416.1,248.7 416.2,248.6 416.4,248.8 416.6,248.8 416.8,248.3 417.0,248.1 417.2,248.1 417.3,246.5 417.5,245.5 417.7,247.0 417.9,247.4 418.1,246.3 418.3,245.6 418.4,246.0 418.6,245.0 418.8,244.0 419.0,244.4 419.2,244.9 419.4,244.3 419.5,244.3 419.7,243.1 419.9,243.6 420.1,243.9 420.3,242.3 420.5,241.9 420.6,242.9 420.8,241.8 421.0,240.5 421.2,240.8 421.4,241.8 421.6,240.8 421.7,241.6 421.9,240.4 422.1,239.8 422.3,240.1 422.5,238.5 422.7,239.5 422.8,238.3 423.0,237.9 423.2,238.1 423.4,237.2 423.6,236.4 423.8,236.2 423.9,237.0 424.1,236.5 424.3,236.1 424.5,236.3 424.7,234.7 424.9,234.8 425.1,236.0 425.2,233.8 425.4,235.2 425.6,233.7 425.8,234.0 426.0,233.5 426.2,232.8 426.3,232.8 426.5,233.1 426.7,231.6 426.9,231.1 427.1,232.2 427.3,230.9 427.4,230.8 427.6,230.5 427.8,230.0 428.0,228.7 428.2,229.7 428.4,229.1 428.5,228.1 428.7,228.4 428.9,228.7 429.1,229.5 429.3,227.5 429.5,228.6 429.6,227.0 429.8,227.4 430.0,226.6 430.2,227.0 430.4,226.3 430.6,225.6 430.7,224.4 430.9,226.0 431.1,223.8 431.3,224.2 431.5,225.7 431.7,224.2 431.8,223.8 432.0,223.6 432.2,223.3 432.4,222.6 432.6,222.8 432.8,222.1 432.9,221.7 433.1,222.0 433.3,221.8 433.5,221.3 433.7,221.5 433.9,221.9 434.3,228.1 434.3,234.4 434.3,240.7 434.3,246.9 434.3,253.2 434.3,259.4 434.3,265.7 434.3,272.0 434.3,278.2 434.7,285.8 434.9,284.6 435.1,283.7 435.3,285.4 435.4,284.6 435.6,285.1 435.8,284.3 436.0,285.2 436.2,283.8 436.4,284.7 436.5,283.6 436.7,286.1 436.9,284.5 437.1,283.1 437.3,285.6 437.5,285.4 437.6,285.7 437.8,283.9 438.0,285.0 438.2,285.7 438.4,284.6 438.6,285.1 438.7,284.6 438.9,284.6 439.1,285.8 439.3,284.2 439.5,284.9 439.7,285.3 439.8,284.9 440.0,285.5 440.2,283.4 440.4,285.7 440.6,284.0 440.8,284.8 440.9,284.7 441.1,285.3 441.3,284.8 441.5,284.7 441.7,285.5 441.9,286.5 442.0,284.6 442.2,284.5 442.4,284.6 442.6,284.1 442.8,284.1 443.0,284.7 443.1,285.6 443.3,284.7 443.5,284.5 443.7,285.0 443.9,284.5 444.1,287.1 444.2,286.3 444.4,285.2 444.6,283.9 444.8,284.8 445.0,284.5 445.2,284.5 445.3,283.6 445.5,284.8 445.7,284.8 445.9,284.7 446.1,284.3 446.3,285.5 446.4,284.6 446.6,283.6 446.8,284.5 447.0,285.9 447.2,286.2 447.4,284.5 447.5,285.2 447.7,285.8 447.9,286.0 448.1,285.0 448.3,285.6 448.5,285.1 448.6,284.1 448.8,286.1 449.0,285.4 449.2,285.7 449.4,285.3 449.6,284.8 449.7,285.1 449.9,285.7 450.1,284.6 450.3,286.6 450.5,287.2 450.7,283.9 450.8,286.2 451.0,285.2 451.2,286.0 451.4,285.7 451.6,285.5 451.8,286.3 451.9,285.7 452.1,286.6 452.3,285.8 452.5,284.4 452.7,285.3 452.9,285.4 453.0,285.0 453.2,284.5 453.4,286.8 453.6,285.2 453.8,285.2 454.0,284.0 454.1,285.6 454.3,285.1 454.5,286.0 454.7,286.4 454.9,284.6 455.1,284.5 455.2,285.9 455.4,285.8 455.6,285.2 455.8,285.5 456.0,284.7 456.2,284.8 456.3,284.8 456.5,283.2 456.7,285.3 456.9,285.3 457.1,284.0 457.3,284.3 457.5,284.9 457.6,285.1 457.8,284.6 458.0,284.2 458.2,284.8 458.4,284.6 458.6,283.7 458.7,284.2 458.9,284.1 459.1,284.9 459.3,283.4 459.5,283.7 459.7,284.0 459.8,284.3 460.0,285.9 460.2,284.0 460.4,284.9 460.6,284.7 460.8,285.0 460.9,285.3 461.1,284.4 461.3,283.3 461.5,283.7 461.7,285.0 461.9,285.5 462.0,284.8 462.2,285.6 462.4,284.3 462.6,283.2 462.8,283.8 463.0,283.9 463.1,284.3 463.3,284.3 463.5,283.0 463.7,284.4 463.9,283.1 464.1,283.7 464.2,284.0 464.4,284.0 464.6,283.8 464.8,283.0 465.0,283.3 465.2,284.0 465.3,283.0 465.5,282.4 465.7,281.4 465.9,283.2 466.1,282.5 466.3,283.1 466.4,282.3 466.6,282.7 466.8,282.8 467.0,283.7 467.2,282.3 467.4,282.1 467.5,283.0 467.7,283.5 467.9,282.2 468.1,283.2 468.3,282.8 468.5,283.1 468.6,281.3 468.8,282.8 469.0,282.5 469.2,282.8 469.4,282.1 469.6,282.5 469.7,280.9 469.9,282.5 470.1,283.5 470.3,282.6 470.5,282.4 470.7,282.6 470.8,283.4 470.7,276.9 470.7,270.4 470.7,263.9 470.7,257.4 470.7,251.0 470.7,244.5 470.7,238.0 470.5,231.0 470.7,229.9 470.9,229.6 471.1,229.4 471.2,229.5 471.4,229.5 471.6,227.8 471.8,227.1 472.0,227.9 472.2,227.5 472.3,225.7 472.5,226.3 472.7,225.0 472.9,224.3 473.1,224.0 473.3,222.9 473.4,221.8 473.6,221.5 473.8,221.4 474.0,221.7 474.2,221.2 474.4,221.0 474.5,219.3 474.7,219.3 474.9,217.7 475.1,217.6 475.3,218.5 475.5,217.1 475.6,218.1 475.8,216.7 476.0,215.3 476.2,214.6 476.4,213.0 476.6,215.0 476.7,214.3 476.9,215.7 477.1,214.0 477.3,212.2 477.5,210.6 477.7,209.6 477.8,210.1 478.0,209.8 478.2,208.2 478.4,209.3 478.6,209.0 478.8,207.0 478.9,207.0 479.1,205.6 479.3,206.9 479.5,204.9 479.7,204.2 479.9,203.1 480.0,203.3 480.2,202.2 480.4,203.8 480.6,202.9 480.8,201.0 481.0,200.7 481.1,200.8 481.3,200.4 481.5,199.0 481.7,200.3 481.9,199.2 482.1,199.7 482.2,195.6 482.4,196.0 482.6,197.2 482.8,196.3 483.0,195.3 483.2,194.2 483.3,194.9 483.5,193.6 483.7,194.5 483.9,193.8 484.1,193.1 484.3,190.5 484.4,191.6 484.6,192.1 484.8,191.7 485.0,190.7 485.2,190.1 485.4,188.1 485.5,189.3 485.7,189.1 485.9,187.4 486.1,187.0 486.3,185.9 486.5,185.7 486.6,184.8 486.8,184.8 487.0,183.8 487.2,182.3 487.4,182.4 487.6,182.7 487.7,182.0 487.9,182.4 488.1,181.5 488.3,181.2 488.5,179.7 488.7,180.0 488.8,178.1 489.0,177.6 489.2,178.3 489.4,177.3 489.6,176.0 489.8,176.7 489.9,176.6 490.1,175.5 490.3,175.4 490.5,174.6 490.7,174.1 490.9,172.2 491.0,170.9 491.2,171.5 491.4,168.8 491.6,170.3 491.8,169.4 492.0,169.8 492.1,168.6 492.3,168.6 492.5,167.4 492.7,167.4 492.9,168.2 493.1,165.7 493.3,164.7 493.4,166.5 493.6,165.5 493.8,164.4 494.0,163.6 494.2,163.6 494.4,162.5 494.5,163.0 494.7,161.5 494.9,160.7 495.1,161.1 495.3,159.6 495.5,160.1 495.6,158.2 495.8,158.2 496.0,158.2 496.2,157.0 496.4,157.7 496.6,156.4 496.7,156.1 496.9,153.9 497.1,155.3 497.3,154.4 497.5,152.3 497.7,153.5 497.8,153.0 498.0,151.7 498.2,150.9 498.4,150.1 498.6,150.7 498.8,150.1 498.9,149.4 499.1,150.6 499.3,148.5 499.5,148.1 499.7,146.3 499.9,147.2 500.0,147.1 500.2,145.2 500.4,146.9 500.6,144.4 500.8,144.4 501.0,143.5 501.1,143.0 501.3,140.6 501.5,142.8 501.7,140.0 501.9,142.1 502.1,139.8 502.2,139.7 502.4,141.4 502.6,138.3 502.8,138.3 503.0,137.0 503.2,137.3 503.3,137.2 503.5,137.6 503.7,133.9 503.9,135.3 504.1,135.2 504.3,134.9 504.4,133.2 504.6,133.3 504.8,134.1 505.0,132.4 505.2,133.2 505.4,130.2 506.2,142.7 506.2,155.3 506.2,167.8 506.2,180.3 506.2,192.9 506.2,205.4 506.2,218.0 507.0,229.9 507.2,230.6 507.4,229.8 507.6,231.1 507.7,229.9 507.9,231.0 508.1,229.7 508.3,230.2 508.5,231.1 508.7,231.4 508.8,230.3 509.0,229.9 509.2,231.6 509.4,230.4 509.6,231.5 509.8,232.3 509.9,231.8 510.1,230.3 510.3,232.4 510.5,232.4 510.7,231.1 510.9,231.3 511.0,232.8 511.2,232.0 511.4,232.1 511.6,232.7 511.8,232.3 512.0,234.1 512.1,233.1 512.3,232.2 512.5,232.2 512.7,232.0 512.9,233.1 513.1,231.4 513.2,233.0 513.4,232.0 513.6,231.1 513.8,233.2 514.0,232.9 514.2,232.8 514.3,232.4 514.5,232.7 514.7,232.3 514.9,233.8 515.1,233.9 515.3,232.9 515.4,233.0 515.6,233.3 515.8,233.8 516.0,233.3 516.2,232.9 516.4,233.1 516.5,233.5 516.7,233.3 516.9,233.1 517.1,234.4 517.3,233.9 517.5,234.3 517.6,233.0 517.8,234.4 518.0,233.9 518.2,233.8 518.4,233.6 518.6,233.8 518.7,234.0 518.9,234.6 519.1,234.5 519.3,236.2 519.5,235.2 519.7,235.1 519.8,235.0 520.0,234.5 520.2,234.6 520.4,235.6 520.6,234.3 520.8,236.8 520.9,236.9 521.1,234.7 521.3,236.8 521.5,236.9 521.7,237.0 521.9,236.8 522.0,237.6 522.2,235.9 522.4,236.2 522.6,237.1 522.8,236.8 523.0,235.8 523.1,237.6 523.3,237.9 523.5,237.1 523.7,237.6 523.9,238.2 524.1,236.0 524.2,237.3 524.4,237.1 524.6,237.8 524.8,237.1 525.0,237.2 525.2,238.4 525.3,239.7 525.5,237.5 525.7,239.8 525.9,239.4 526.1,239.5 526.3,239.9 526.4,238.7 526.6,240.0 526.8,238.1 527.0,238.7 527.2,239.7 527.4,240.1 527.5,238.6 527.7,238.3 527.9,240.2 528.1,240.2 528.3,240.6 528.5,240.2 528.6,239.3 528.8,241.3 529.0,241.1 529.2,240.8 529.4,242.4 529.6,241.1 529.8,242.1 529.9,241.0 530.1,239.0 530.3,240.4 530.5,239.4 530.7,241.4 530.9,242.5 531.0,240.5 531.2,242.4 531.4,241.8 531.6,242.8 531.8,242.5 532.0,241.6 532.1,242.9 532.3,242.5 532.5,243.3 532.7,244.2 532.9,242.7 533.1,244.2 533.2,243.0 533.4,243.6 533.6,243.4 533.8,242.9 534.0,243.6 534.2,243.3 534.3,244.2 534.5,243.1 534.7,243.2 534.9,244.7 535.1,244.6 535.3,244.7 535.4,244.8 535.6,245.3 535.8,245.0 536.0,245.4 536.2,244.3 536.4,245.3 536.5,244.5 536.7,244.2 536.9,245.1 537.1,245.9 537.3,245.5 537.5,247.0 537.6,246.2 537.8,246.2 538.0,246.0 538.2,245.0 538.4,246.2 538.6,246.3 538.7,247.7 538.9,245.9 539.1,246.5 539.3,246.2 539.5,246.9 539.7,245.6 539.8,247.3 540.0,247.2 540.2,247.4 540.4,249.4 540.6,247.4 540.8,248.0 540.9,247.7 541.1,248.6 541.3,249.6 541.5,249.3 541.7,248.4 541.9,247.3 542.0,248.7 542.2,247.2 542.4,247.9 542.6,248.3 542.8,248.0 543.0,248.9 543.1,248.8 543.3,248.6 543.5,249.5 543.7,248.8 543.9,250.4 544.1,250.1 544.2,249.4 544.4,250.1 544.6,249.4 544.8,249.5 545.0,250.9 545.2,249.0 545.3,250.7 545.5,251.9 545.7,248.9 545.9,252.5 546.1,249.3 546.3,249.2 546.4,249.4 546.6,250.2 546.8,250.8 547.0,249.9 547.2,251.3 547.4,252.2 547.5,251.1 547.7,251.9 547.9,252.3 548.1,253.3 548.3,252.0 548.5,252.8 548.6,252.7 548.8,252.5 549.0,252.3 549.2,252.9 549.4,253.3 549.6,251.9 549.7,252.7 549.9,253.3 550.1,253.4 550.3,253.6 550.5,254.7 550.7,254.3 550.8,252.7 551.0,255.0 551.2,253.3 551.4,253.3 551.6,254.9 551.8,253.9 552.0,253.0 552.1,254.9 552.3,254.9 552.5,255.0 552.7,253.7 552.9,255.5 553.1,254.5 553.2,255.8 553.4,254.2 553.6,254.5 553.8,253.9 554.0,254.9 554.2,256.4 554.3,255.9 554.5,255.4 554.7,257.0 554.9,256.2 555.1,256.8 555.3,256.5 555.4,256.3 555.6,256.6 555.8,256.9 556.0,257.6 556.2,257.3 556.4,257.6 556.5,256.2 556.7,255.7 556.9,257.5 557.1,257.5 557.3,257.8 557.5,256.8 557.6,257.8 557.8,257.0 558.0,258.0 558.2,258.0 558.4,258.0 558.6,258.5 558.7,258.0 558.9,258.5 559.1,259.1 559.3,259.8 559.5,259.1 559.7,259.5 559.8,259.5 560.0,260.4 560.2,260.8 560.4,258.9 560.6,260.0 560.8,259.8 560.9,260.9 561.1,257.9 561.3,259.4 561.5,258.7 561.7,261.2 561.9,260.4 562.0,260.9 562.2,260.8 562.4,260.8 562.6,261.0 562.8,260.5 563.0,259.3 563.1,261.3 563.3,261.1 563.5,260.8 563.7,260.9 563.9,262.4 564.1,261.0 564.2,260.9 564.4,262.3 564.6,263.0 564.8,261.0 565.0,261.3 565.2,261.4 565.3,262.6 565.5,262.9 565.7,263.6 565.9,262.6 566.1,262.6 566.3,262.4 566.4,263.8 566.6,262.6 566.8,262.6 567.0,263.1 567.2,263.4 567.4,263.8 567.5,263.2 567.7,265.1 567.9,265.3 568.1,263.1 568.3,264.2 568.5,263.4 568.6,264.1 568.8,263.5 569.0,264.3 569.2,264.8 569.4,264.9 569.6,263.8 569.7,263.4 569.9,263.6 570.1,266.1 570.3,265.1 570.5,265.5 570.7,266.6 570.8,264.8 571.0,266.0 571.2,265.3 571.4,266.1 571.6,264.6 571.8,265.9 571.9,266.2 572.1,266.5 572.3,265.4 572.5,266.4 572.7,267.4 572.9,266.7 573.1,267.6 573.2,267.5 573.4,267.3 573.6,266.9 573.8,267.4 574.0,266.7 574.2,268.0 574.3,267.8 574.5,268.6 574.7,269.5 574.9,268.5 575.1,268.4 575.3,268.2 575.4,268.8 575.6,269.3 575.8,268.2 576.0,267.5 576.2,267.5 576.4,269.4 576.5,269.1 576.7,269.3 576.9,267.7 577.1,268.6 577.3,268.0 577.5,268.4 577.6,268.9 577.8,268.9 578.0,270.8 578.2,268.7 578.4,269.3 578.6,269.3 578.7,270.0 578.9,270.6 579.1,269.5 579.3,269.0 579.5,270.0 579.7,270.7 579.8,269.7 580.0,271.4 580.2,270.0 580.4,270.3 580.6,270.6 580.8,272.5 580.9,271.7 581.1,271.5 581.3,270.6 581.5,270.6 581.7,271.0 581.9,272.9 582.0,272.7 582.2,271.9 582.4,271.4 582.6,270.7 582.8,271.8 583.0,272.6 583.1,272.7 583.3,272.7 583.5,272.0 583.7,273.0 583.9,272.6 584.1,273.5 584.2,273.1 584.4,273.6 584.6,273.4 584.8,272.8 585.0,274.2 585.2,272.6 585.3,274.0 585.5,273.3 585.7,273.4 585.9,274.0 586.1,273.5 586.3,273.2 586.4,273.4 586.6,273.3 586.8,274.3 587.0,274.6 587.2,274.4 587.4,273.4 587.5,274.8 587.7,275.5 587.9,274.0 588.1,274.3 588.3,275.8 588.5,275.0 588.6,276.1 588.8,275.1 589.0,274.4 589.2,275.5 589.4,275.6 589.6,276.0 589.7,275.2 589.9,275.6 590.1,277.6 590.3,275.7 590.5,277.5 590.7,275.5 590.8,276.6 591.0,276.8 591.2,277.3 591.4,276.7 591.6,276.3 591.8,277.0 591.9,275.9 592.1,275.2 592.3,276.1 592.5,278.5 592.7,278.1 592.9,278.9 593.0,278.0 593.2,276.6 593.4,277.1 593.6,278.2 593.8,277.4 594.0,277.4 594.1,277.4 594.3,277.7 594.5,277.0 594.7,278.8 594.9,277.9 595.1,279.5 595.3,279.8 595.4,278.6 595.6,279.4 595.8,279.5 596.0,278.9 596.2,278.6 596.4,279.8 596.5,279.3 596.7,278.7 596.9,278.5 597.1,279.0 597.3,279.7 597.5,279.6 597.6,278.6 597.8,279.0 598.0,279.3 598.2,278.9 598.4,279.2 598.6,278.5 598.7,278.7 598.9,279.6 599.1,279.6 599.3,279.2 599.5,281.1 599.7,279.4 599.8,280.1 600.0,279.8 600.2,279.3 600.4,280.2 600.6,280.6 600.8,279.8 600.9,280.2 601.1,282.0 601.3,279.2 601.5,279.8 601.7,280.4 601.9,280.0 602.0,279.4 602.2,279.7 602.4,279.9 602.6,280.0 602.8,280.2 603.0,281.4 603.1,280.5 603.3,280.0 603.5,280.9 603.7,280.9 603.9,279.6 604.1,280.0 604.2,279.7 604.4,280.8 604.6,281.3 604.8,280.5 605.0,281.6 605.2,280.3 605.3,280.5 605.5,280.8 605.7,281.0 605.9,282.1 606.1,280.1 606.3,281.4 606.4,281.1 606.6,281.9 606.8,280.1 607.0,280.3 607.2,282.4 607.4,282.1 607.5,282.1 607.7,281.2 607.9,282.1 608.1,281.4 608.3,280.6 608.5,281.3 608.6,281.3 608.8,280.7 609.0,281.1 609.2,281.1 609.4,282.0 609.6,282.4 609.7,282.6 609.9,282.6 610.1,281.0 610.3,282.3 610.5,282.5 610.7,282.2 610.8,281.2 611.0,279.8 611.2,282.2 611.4,281.5 611.6,282.8 611.8,281.0 611.9,282.6 612.1,281.9 612.3,281.3 612.5,282.0 612.7,282.2 612.9,282.9 613.0,282.8 613.2,283.1 613.4,282.7 613.6,281.8 613.8,281.8 614.0,282.2 614.1,281.8 614.3,280.8 614.5,280.5 614.7,282.6 614.9,282.1 615.1,283.4 615.2,281.5 615.4,282.7 615.6,282.0 615.8,282.2 616.0,281.9 616.2,282.6 616.3,282.1 616.5,281.4 616.7,281.6 616.9,281.5 617.1,281.7 617.3,281.8 617.5,281.3 617.6,281.1 617.8,281.5 618.0,280.2 618.2,281.8 618.4,281.7 618.6,279.1 618.7,280.6 618.9,281.4 619.1,279.7 619.3,281.7 619.5,282.0 619.7,281.6 619.8,282.0 620.0,281.1 620.2,281.8 620.4,281.7 620.6,281.1 620.8,281.2 620.9,279.8 621.1,280.1 621.3,281.8 621.5,281.8 621.7,280.4 621.9,279.8 622.0,279.4 622.2,281.8 622.4,281.1 622.6,282.3 622.8,281.8 623.0,282.3 623.1,281.4 623.3,280.3 623.5,280.5 623.7,281.5 623.9,279.6 624.1,281.1 624.2,280.3 624.4,281.6 624.6,280.1 624.8,280.0 625.0,281.2 625.2,278.1 625.3,281.3 625.5,280.6 625.7,280.0 625.9,280.9 626.1,280.0 626.3,280.8 626.4,280.4 626.6,280.8 626.8,279.5 627.0,279.7 627.2,281.6 627.4,280.4 627.5,280.0 627.7,279.4 627.9,279.7 628.1,280.2 628.3,279.1 628.5,280.0 628.6,279.7 628.8,278.3 629.0,279.7 629.2,280.5 629.4,279.2 629.6,279.2 629.7,279.5 629.9,278.8 630.1,277.8 630.3,279.0 630.5,278.6 630.7,278.3 630.8,279.7 631.0,278.7 631.2,277.9 631.4,277.9 631.6,279.5 631.8,278.8 631.9,276.7 632.1,278.4 632.3,277.5 632.5,277.3 632.7,278.5 632.9,278.1 633.0,276.8 633.2,277.4 633.4,277.8 633.6,277.1 633.8,277.4 634.0,276.4 634.1,277.8 634.3,277.9 634.5,276.2 634.7,275.5 634.9,276.1 635.1,277.0 635.2,276.4 635.4,276.1 635.6,276.2 635.8,274.8 636.0,275.8 636.2,275.7 636.3,275.2 636.5,276.1 636.7,274.9 636.9,274.9 637.1,275.8 637.3,275.6 637.4,275.1 637.6,275.1 637.8,275.1 638.0,275.0 638.2,273.9 638.4,275.2 638.5,275.9 638.7,274.6 638.9,274.0 639.1,275.0 639.3,274.5 639.5,273.4 639.7,273.7 639.8,273.3 640.0,274.4 640.2,272.5 640.4,274.4 640.6,272.8 640.8,273.4 640.9,272.8 641.1,273.3 641.3,273.8 641.5,273.3 641.7,271.8 641.9,272.4 642.0,272.6 642.2,273.8 642.4,271.9 642.6,271.9 642.8,271.5 643.0,271.9 643.1,272.4 643.3,271.0 643.5,272.7 643.7,272.5 643.9,272.1 644.1,271.8 644.2,273.1 644.4,270.4 644.6,270.7 644.8,272.6 645.0,269.9 645.2,271.0 645.3,270.5 645.5,269.9 645.7,269.7 645.9,270.2 646.1,270.5 646.3,270.5 646.4,270.5 646.6,270.0 646.8,269.9 647.0,270.2 647.2,269.2 647.4,268.5 647.5,270.1 647.7,267.8 647.9,269.7 648.1,270.1 648.3,268.1 648.5,267.2 648.6,268.2 648.8,269.0 649.0,267.9 649.2,269.3 649.4,268.9 649.6,267.6 649.7,268.8 649.9,267.0 650.1,267.7 650.3,268.1 650.5,268.8 650.7,268.3 650.8,268.7 651.0,266.4 651.2,269.8 651.4,266.6 651.6,267.4 651.8,268.3 651.9,267.4 652.1,267.8 652.3,265.9 652.5,265.8 652.7,266.3 652.9,266.1 653.0,266.5 653.2,266.0 653.4,265.3 653.6,266.2 653.8,264.9 654.0,265.3 654.1,266.0 654.3,265.0 654.5,265.6 654.7,266.0 654.9,266.5 655.1,266.2 655.2,265.8 655.4,265.4 655.6,264.0 655.8,264.2 656.0,264.0 656.2,264.2 656.3,264.4 656.5,263.7 656.7,263.9 656.9,265.0 657.1,263.7 657.3,262.5 657.4,263.6 657.6,263.6 657.8,263.3 658.0,265.1 658.2,264.1 658.4,264.6 658.5,262.7 658.7,263.6 658.9,263.1 659.1,262.8 659.3,262.1 659.5,262.8 659.6,261.0 659.8,263.1 660.0,264.4 660.2,263.3 660.4,260.5 660.6,262.1 660.7,261.3 660.9,261.3 661.1,261.4 661.3,262.4 661.5,261.9 661.7,260.6 661.9,261.6 662.0,261.2 662.2,262.5 662.4,259.7 662.6,260.6 662.8,259.9 663.0,260.5 663.1,258.9 663.3,259.6 663.5,260.1 663.7,259.6 663.9,259.3 664.1,259.8 664.2,259.3 664.4,258.9 664.6,259.3 664.8,259.4 665.0,259.5 665.2,257.9 665.3,258.8 665.5,259.9 665.7,257.8 665.9,258.8 666.1,258.3 666.3,259.3 666.4,259.3 666.6,258.5 666.8,257.8 667.0,256.9 667.2,257.6 667.4,257.2 667.5,257.8 667.7,258.8 667.9,259.0 668.1,257.7 668.3,257.4 668.5,257.1 668.6,257.3 668.8,256.8 669.0,258.2 669.2,256.2 669.4,256.7 669.6,256.1 669.7,257.1 669.9,257.7 670.1,256.7 670.3,256.3 670.5,256.0 670.7,256.3 670.8,255.4 671.0,256.9 671.2,256.9 671.4,256.2 671.6,256.0 671.8,254.9 671.9,256.5 672.1,254.0 672.3,254.4 672.5,256.4 672.7,254.4 672.9,254.0 673.0,253.2 673.2,255.1 673.4,255.1 673.6,254.3 673.8,252.8 674.0,253.9 674.1,253.2 674.3,254.4 674.5,254.7 674.7,253.8 674.9,253.7 675.1,254.4 675.2,254.4 675.4,252.2 675.6,253.3 675.8,252.0 676.0,252.2 676.2,253.5 676.3,251.7 676.5,252.3 676.7,253.2 676.9,252.5 677.1,250.9 677.3,251.9 677.4,251.7 677.6,251.1 677.8,253.2 678.0,251.6 678.2,251.5 678.4,252.1 678.5,251.3 678.7,250.1 678.9,251.0 679.1,251.2 679.3,250.9 679.5,251.4 679.6,251.2 679.8,250.8 680.0,250.2 680.2,250.3 680.4,251.6 680.6,248.8 680.7,250.7 680.9,250.1 681.1,249.2 681.3,249.6 681.5,249.9 681.7,248.3 681.8,249.4 682.0,249.6 682.2,248.4 682.4,249.0 682.6,249.8 682.8,248.8 682.9,247.9 683.1,247.2 683.3,246.9 683.5,248.8 683.7,247.8 683.9,247.7 684.1,247.5 684.2,246.9 684.4,248.6 684.6,247.7 684.8,248.1 685.0,246.0 685.2,247.2 685.3,247.1 685.5,245.6 685.7,245.6 685.9,245.5 686.1,246.8 686.3,246.0 686.4,245.2 686.6,246.1 686.8,244.9 687.0,245.4 687.2,245.1 687.4,244.3 687.5,245.5 687.7,244.7 687.9,242.8 688.1,244.2 688.3,245.3 688.5,242.4 688.6,244.6 688.8,244.0 689.0,242.7 689.2,243.5 689.4,242.5 689.6,242.1 689.7,243.3 689.9,243.1 690.1,241.4 690.3,242.2 690.5,242.5 690.7,241.2 690.8,243.0 691.0,241.5 691.2,242.2 691.4,242.2 691.6,240.9 691.8,241.7 691.9,241.4 692.1,241.5 692.3,240.7 692.5,241.6 692.7,241.2 692.9,241.7 693.0,241.2 693.2,239.3 693.4,239.7 693.6,240.3 693.8,240.6 694.0,239.2 694.1,239.5 694.3,239.6 694.5,239.2 694.7,239.8 694.9,238.2 695.1,239.2 695.2,238.1 695.4,238.8 695.6,237.7 695.8,238.0 696.0,238.8 696.2,237.2 696.3,237.8 696.5,238.1 696.7,237.4 696.9,237.1 697.1,237.2 697.3,236.4 697.4,237.5 697.6,237.3 697.8,237.9 698.0,236.7 698.2,237.1 698.4,235.8 698.5,236.4 698.7,235.2 698.9,235.9 699.1,235.3 699.3,236.1 699.5,233.8 699.6,235.0 699.8,234.8 700.0,235.3 700.2,234.2 700.4,234.2 700.6,235.3 700.7,233.8 700.9,233.8 701.1,234.8 701.3,232.3 701.5,234.0 701.7,233.8 701.8,233.6 702.0,231.9 702.2,232.0 702.4,232.3 702.6,232.2 702.8,233.1 702.9,232.2 703.1,233.4 703.3,232.2 703.5,232.5 703.7,231.4 703.9,231.3 704.0,231.9 704.2,232.1 704.4,230.8 704.6,232.1 704.8,230.9 705.0,232.0 705.2,229.8 705.3,230.3 705.5,230.9 705.7,230.2 705.9,229.7 706.1,230.5 706.3,230.5 706.4,229.4 706.6,230.1 706.8,229.1 707.0,228.7 707.2,230.1 707.4,228.6 707.5,228.5 707.7,229.2 707.9,227.8 708.1,227.7 708.3,228.0 708.5,228.2 708.6,228.6 708.8,227.7 709.0,227.2 709.2,226.6 709.4,227.1 709.6,226.9 709.7,227.9 709.9,225.7 710.1,225.5 710.3,225.3 710.5,226.4 710.7,226.7 710.8,227.5 711.0,225.0 711.2,226.1 711.4,225.5 711.6,227.0 711.8,225.9 711.9,226.6 712.1,225.4 712.3,226.1 712.5,225.4 712.7,224.6 712.9,225.6 713.0,224.6 713.2,223.0 713.4,224.5 713.6,223.5 713.8,224.7 714.0,225.3 714.1,224.3 714.3,224.3 714.5,222.9 714.7,223.1 714.9,223.1 715.1,224.8 715.2,223.0 715.4,223.4 715.6,221.7 715.8,222.5 716.0,222.9 716.2,222.6 716.3,222.3 716.5,222.7 716.7,222.6 716.9,221.3 717.1,221.1 717.3,222.3 717.4,222.4 717.6,220.7 717.8,222.0 718.0,220.4 718.2,221.2 718.4,222.1 718.5,219.8 718.7,220.9 718.9,220.6 719.1,219.8 719.3,221.1 719.5,219.7 719.6,219.8 719.8,219.4 720.0,220.4 720.2,220.3 720.4,220.8 720.6,219.5 720.7,218.9 720.9,220.5 721.1,218.8 721.3,219.7 721.5,220.2 721.7,219.5 721.8,217.4 722.0,217.9 722.2,218.0 722.4,219.0 722.6,217.7 722.8,218.7 722.9,218.2 723.1,218.0 723.3,217.8 723.5,217.1 723.7,218.5 723.9,217.5 724.9,223.9 724.9,230.3 724.9,236.7 724.9,243.1 724.9,249.4 724.9,255.8 724.9,262.2 724.9,268.6 726.0,276.1 726.2,274.5 726.4,274.1 726.6,276.6 726.7,274.9 726.9,276.0 727.1,275.9 727.3,276.2 727.5,276.3 727.7,275.9 727.8,276.0 728.0,277.2 728.2,276.7 728.4,278.7 728.6,277.7 728.8,278.9 728.9,277.7 729.1,278.8 729.3,278.0 729.5,277.9 729.7,278.6 729.9,278.8 730.0,281.1 730.2,278.4 730.4,279.0 730.6,280.2 730.8,279.8 731.0,280.2 731.1,280.9 731.3,280.4 731.5,280.1 731.7,279.8 731.9,281.0 732.1,281.6 732.2,281.6 732.4,282.5 732.6,281.5 732.8,282.2 733.0,281.5 733.2,280.9 733.3,283.0 733.5,282.4 733.7,283.4 733.9,282.6 734.1,282.1 734.3,282.8 734.4,283.4 734.6,283.3 734.8,283.8 735.0,284.6 735.2,284.4 735.4,285.0 735.5,284.7 735.7,284.5 735.9,284.4 736.1,283.7 736.3,286.0 736.5,286.6 736.6,285.2 736.8,285.4 737.0,285.7 737.2,286.7 737.4,286.8 737.6,286.7 737.7,287.0 737.9,286.0 738.1,287.3 738.3,287.5 738.5,288.2 738.7,287.5 738.8,287.8 739.0,288.5 739.2,290.6 739.4,288.3 739.6,290.5 739.8,288.4 739.9,289.4 740.1,288.8 740.3,290.7 740.5,290.0 740.7,290.2 740.9,291.0 741.0,291.4 741.2,290.2 741.4,291.0 741.6,290.7 741.8,292.1 742.0,289.8 742.1,293.2 742.3,291.6 742.5,290.4 742.7,292.4 742.9,291.7 743.1,292.6 743.2,292.8 743.4,293.7 743.6,291.8 743.8,293.6 744.0,294.3 744.2,292.7 744.3,294.4 744.5,294.7 744.7,293.8 744.9,293.0 745.1,294.7 745.3,294.5 745.4,296.2 745.6,295.0 745.8,295.9 746.0,295.8 746.2,295.9 746.4,295.0 746.5,295.6 746.7,296.4 746.9,296.4 747.1,296.6 747.3,297.5 747.5,297.1 747.6,297.8 747.8,297.5 748.0,297.9 748.2,297.4 748.4,296.9 748.6,298.8 748.8,299.0 748.9,299.1 749.1,298.2 749.3,299.8 749.5,299.2 749.7,299.5 749.9,299.0 750.0,299.4 750.2,299.4 750.4,300.3 750.6,299.7 750.8,300.3 751.0,300.0 751.1,299.5 751.3,300.7 751.5,300.8 751.7,300.9 751.9,298.8 752.1,301.8 752.2,301.2 752.4,300.6 752.6,302.8 752.8,301.5 753.0,302.2 753.2,301.8 753.3,300.1 753.5,302.8 753.7,301.2 753.9,303.0 754.1,302.2 754.3,301.8 754.4,300.7 754.6,302.3 754.8,302.0 755.0,302.9 755.2,302.1 755.4,303.6 755.5,302.8 755.7,303.0 755.9,304.9 756.1,304.1 756.3,303.1 756.5,304.0 756.6,302.7 756.8,303.4 757.0,303.9 757.2,303.6 757.4,303.6 757.6,304.9 757.7,304.1 757.9,304.0 758.1,304.3 758.3,304.4 758.5,305.5 758.7,305.3 758.8,304.1 759.0,306.3 759.2,306.2 759.4,305.3 759.6,304.9 759.8,305.8 759.9,305.4 760.1,306.4 760.3,306.1 760.5,307.1 760.7,305.1 760.9,306.0 761.0,306.7 761.2,306.3 761.4,306.4 761.6,306.0 761.8,308.4 762.0,307.0 762.1,307.7 762.3,306.7 762.5,307.1 762.7,307.5 762.9,308.9 763.1,308.8 763.2,309.4 763.4,309.1 763.6,309.2 763.8,308.0 764.0,307.8 764.2,309.4 764.3,308.0 764.5,309.0 764.7,308.3 764.9,308.1 765.1,309.0 765.3,308.4 765.4,309.0 765.6,310.0 765.8,309.3 766.0,310.3 766.2,309.3 766.4,310.0 766.5,309.1 766.7,311.0 766.9,308.6 767.1,310.4 767.3,310.7 767.5,308.5 767.6,309.3 767.8,309.5 768.0,310.7 768.2,310.7 768.4,310.7 768.6,311.6 768.7,312.9 768.9,310.6 769.1,311.7 769.3,311.6 769.5,312.5 769.7,310.2 769.8,310.7 770.0,311.2 770.2,311.3 770.4,312.4 770.6,312.0 770.8,310.9 771.0,312.0 771.1,311.4 771.3,312.2 771.5,312.7 771.7,312.3 771.9,313.9 772.1,314.8 772.2,313.6 772.4,312.2 772.6,314.5 772.8,315.1 773.0,313.5 773.2,314.0 773.3,314.7 773.5,314.1 773.7,315.0 773.9,314.6 774.1,313.8 774.3,314.0 774.4,314.3 774.6,314.1 774.8,315.7 775.0,315.0 775.2,314.8 775.4,315.6 775.5,315.2 775.7,316.0 775.9,316.5 776.1,315.5 776.3,315.1 776.5,314.8 776.6,317.0 776.8,316.1 777.0,315.5 777.2,316.0 777.4,315.3 777.6,317.2 777.7,316.6 777.9,316.2 778.1,315.5 778.3,318.2 778.5,316.8 778.7,315.2 778.8,316.5 779.0,317.0 779.2,317.3 779.4,316.5 779.6,318.2 779.8,317.9 779.9,317.6 780.1,317.2 780.3,316.5 780.5,317.6 780.7,317.8 780.9,317.2 781.0,318.4 781.2,318.9 781.4,318.1 781.6,318.2 781.8,318.6 782.0,319.9 782.1,319.9 782.3,317.7 782.5,318.7 782.7,321.0 782.9,319.0 783.1,320.6 783.2,319.8 783.4,320.5 783.6,319.4 783.8,319.8 784.0,320.3 784.2,320.0 784.3,320.0 784.5,321.2 784.7,320.2 784.9,321.4 785.1,320.1 785.3,320.4 785.4,321.2 785.6,321.2 785.8,321.6 786.0,321.0 786.2,321.1 786.4,320.9 786.5,320.2 786.7,321.1 786.9,322.3 787.1,321.6 787.3,321.9 787.5,322.8 787.6,321.3 787.8,322.3 788.0,321.7 788.2,323.1 788.4,321.3 788.6,322.2 788.7,322.2 788.9,322.4 789.1,322.4 789.3,324.3 789.5,322.8 789.7,323.0 789.8,322.1 790.0,322.3 790.2,322.9 790.4,322.7 790.6,324.1 790.8,323.4 790.9,323.6 791.1,324.0 791.3,323.5 791.5,323.4 791.7,324.0 791.9,324.8 792.1,324.7 792.2,324.2 792.4,326.2 792.6,325.4 792.8,325.7 793.0,326.5 793.2,324.8 793.3,326.3 793.5,326.0 793.7,326.1 793.9,324.9 794.1,325.6 794.3,326.3 794.4,326.4 794.6,327.7 794.8,326.4 795.0,327.0 795.2,326.7 795.4,326.1 795.5,327.0 795.7,327.4 795.9,328.7 796.1,328.5 796.3,327.3 796.5,327.2 796.6,328.0 796.8,327.7 797.0,330.0 797.2,329.0 797.4,328.5 797.6,328.3 797.7,328.0 797.9,328.8 798.1,327.2 798.3,328.9 798.5,329.0 798.7,330.5 798.8,328.3 799.0,330.4 799.2,329.6 799.4,330.5 799.6,329.5 799.8,330.5 799.9,331.0 800.1,332.3 800.3,330.0 800.5,330.6 800.7,330.8 800.9,330.6 801.0,331.1 801.2,331.3 801.4,331.1 801.6,330.3 801.8,331.8 802.0,330.7 802.1,331.8 802.3,332.8 802.5,331.2 802.7,332.2 802.9,332.6 803.1,332.5 803.2,332.4 803.4,332.8 803.6,333.4 803.8,332.4 804.0,333.1 804.2,333.9 804.3,333.0 804.5,332.7 804.7,334.3 804.9,334.4 805.1,334.7 805.3,334.1 805.4,333.8 805.6,335.5 805.8,335.4 806.0,335.2 806.2,334.4 806.4,335.0 806.5,334.4 806.7,334.4 806.9,335.4 807.1,335.7 807.3,336.0 807.5,335.8 807.6,337.3 807.8,335.2 808.0,337.0 808.2,335.9 808.4,337.0 808.6,335.8 808.7,338.2 808.9,337.8 809.1,335.7 809.3,337.9 809.5,337.3 809.7,337.9 809.8,337.4 810.0,337.4 810.2,336.7 810.4,337.5 810.6,338.0 810.8,337.0 810.9,337.6 811.1,338.5 811.3,339.0 811.5,338.5 811.7,340.0 811.9,338.8 812.0,339.8 812.2,340.4 812.4,339.1 812.6,340.6 812.8,339.9 813.0,339.5 813.1,341.4 813.3,341.6 813.5,340.4 813.7,341.5 813.9,341.6 814.1,341.1 814.3,342.8 814.4,341.3 814.6,341.1 814.8,341.8 815.0,341.8 815.2,341.7 815.4,342.0 815.5,341.4 815.7,343.0 815.9,341.7 816.1,343.7 816.3,343.5 816.5,342.9 816.6,343.1 816.8,343.0 817.0,343.7 817.2,345.1 817.4,344.2 817.6,343.8 817.7,345.6 817.9,344.2 818.1,344.4 818.3,346.3 818.5,345.4 818.7,346.0 818.8,345.7 819.0,345.8 819.2,346.1 819.4,346.3 819.6,347.5 819.8,345.2 819.9,344.5 820.1,346.2 820.3,345.5 820.5,346.8 820.7,346.0 820.9,347.1 821.0,348.0 821.2,347.0 821.4,347.0 821.6,348.3 821.8,347.3 822.0,347.9 822.1,348.1 822.3,347.4 822.5,349.2 822.7,347.9 822.9,349.5 823.1,349.2 823.2,348.3 823.4,349.0 823.6,350.1 823.8,349.4 824.0,351.4 824.2,349.2 824.3,351.0 824.5,349.0 824.7,350.2 824.9,351.3 825.1,349.3 825.3,351.1 825.4,350.2 825.6,350.2 825.8,350.8 826.0,351.1 826.2,351.3 826.4,351.4 826.5,351.4 826.7,350.3 826.9,353.3 827.1,354.0 827.3,353.0 827.5,352.6 827.6,352.2 827.8,353.3 828.0,353.5 828.2,352.8 828.4,353.5 828.6,354.3 828.7,354.1 828.9,354.1 829.1,354.3 829.3,353.9 829.5,354.5 829.7,354.8 829.8,354.3 830.0,355.0 830.2,355.8 830.4,356.1 830.6,353.8 830.8,354.5 830.9,356.4 831.1,356.2 831.3,356.3 831.5,355.1 831.7,356.3 831.9,356.8 832.0,356.8 832.2,356.1 832.4,356.4 832.6,357.1 832.8,357.2 833.0,358.1 833.1,355.7 833.3,357.0 833.5,358.5 833.7,356.9 833.9,357.9 834.1,359.0 834.2,357.4 834.4,358.5 834.6,359.8 834.8,357.6 835.0,357.2 835.2,359.6 835.3,358.6 835.5,359.0 835.7,359.2 835.9,360.2 836.1,359.2 836.3,360.3 836.5,360.3 836.6,359.8 836.8,360.8 837.0,360.3 837.2,360.2 837.4,362.6 837.6,359.1 837.7,359.8 837.9,360.0 838.1,360.6 838.3,361.2 838.5,361.0 838.7,363.0 838.8,361.1 839.0,360.8 839.2,361.7 839.4,361.5 839.6,361.6 839.8,362.8 839.9,362.5 840.1,363.2 840.3,361.7 840.5,363.1 840.7,362.8 840.9,362.5 841.0,361.9 841.2,363.1 841.4,362.5 841.6,364.0 841.8,363.9 842.0,364.1 842.1,365.9 842.3,364.9 842.5,362.6 842.7,364.7 842.9,364.5 843.1,364.7 843.2,364.3 843.4,365.5 843.6,362.8 843.8,364.1 844.0,365.6 844.2,365.5 844.3,366.1 844.5,365.3 844.7,365.3 844.9,366.4 845.1,366.1 846.0,362.2 846.0,358.2 846.0,354.3 846.0,350.3 846.0,346.4 846.0,342.4 847.0,337.2 847.2,339.2 847.4,337.6 847.6,339.1 847.7,338.5 847.9,338.8 848.1,339.1 848.3,337.5 848.5,338.7 848.7,338.2 848.8,338.0 849.0,338.1 849.2,337.7 849.4,338.1 849.6,338.2 849.8,337.5 849.9,338.8 850.1,338.0 850.3,337.1 850.5,338.2 850.7,338.2 850.9,336.8 851.0,338.0 851.2,337.5 851.4,337.9 851.6,337.5 851.8,337.9 852.0,337.7 852.1,335.9 852.3,337.6 852.5,337.9 852.7,338.0 852.9,338.4 853.1,337.7 853.2,338.3 853.4,338.0 853.6,337.0 853.8,336.8 854.0,338.2 854.2,337.7 854.3,335.9 854.5,336.4 854.7,338.0 854.9,337.2 855.1,335.8 855.3,337.3 855.4,337.7 855.6,337.4 855.8,336.9 856.0,336.7 856.2,336.4 856.4,336.4 856.5,337.0 856.7,338.6 856.9,338.6 857.1,336.6 857.3,335.5 857.5,336.5 857.6,336.4 857.8,336.4 858.0,335.3 858.2,336.4 858.4,336.0 858.6,336.4 858.7,335.2 858.9,336.4 859.1,335.4 859.3,335.7 859.5,335.8 859.7,335.8 859.8,335.8 860.0,335.7 860.2,335.7 860.4,335.6 860.6,335.6 860.8,335.7 860.9,337.4 861.1,336.6 861.3,335.5 861.5,334.9 861.7,336.7 861.9,335.8 862.0,336.0 862.2,336.6 862.4,334.3 862.6,335.2 862.8,335.8 863.0,336.6 863.1,335.5 863.3,335.6 863.5,335.5 863.7,335.4 863.9,335.6 864.1,335.0 864.2,334.8 864.4,335.1 864.6,335.8 864.8,336.1 865.0,335.3 865.2,335.0 865.3,336.1 865.5,335.6 865.7,335.7 865.9,335.0 866.1,334.7 866.3,335.4 866.4,334.9 866.6,335.8 866.8,334.3 867.0,335.1 867.2,334.9 867.4,334.1 867.5,334.5 867.7,334.0 867.9,334.4 868.1,334.5 868.3,336.6 868.5,333.8 868.6,335.1 868.8,334.2 869.0,334.8 869.2,334.2 869.4,333.8 869.6,335.5 869.8,335.2 869.9,333.1 870.1,334.2 870.3,334.0 870.5,333.1 870.7,334.3 870.9,334.6 871.0,334.2 871.2,334.5 871.4,335.4 871.6,333.7 871.8,334.9 872.0,335.6 872.1,331.8 872.3,333.7 872.5,334.9 872.7,334.1 872.9,333.4 873.1,334.8 873.2,334.4 873.4,332.5 873.6,334.3 873.8,333.5 874.0,333.8 874.2,332.7 874.3,334.0 874.5,333.6 874.7,332.8 874.9,333.2 875.1,334.5 875.3,334.5 875.4,332.2 875.6,333.7 875.8,333.1 876.0,332.9 876.2,333.4 876.4,334.3 876.5,333.6 876.7,332.4 876.9,333.1 877.1,333.4 877.3,333.8 877.5,332.9 877.6,333.1 877.8,333.1 878.0,333.4 878.2,331.5 878.4,333.9 878.6,333.0 878.7,332.8 878.9,331.9 879.1,332.9 879.3,334.1 879.5,332.2 879.7,331.4 879.8,332.9 880.0,332.5 880.2,332.5 880.4,331.3 880.6,332.7 880.8,332.9 880.9,329.2 881.1,332.4 881.3,332.9 881.5,331.6 881.7,330.6 881.9,332.3 882.0,333.7 882.2,332.4 882.4,333.8 882.6,332.3 882.8,331.9 883.0,331.4 883.1,333.0 883.3,330.9 883.5,331.4 883.7,331.6 883.9,332.0 884.1,331.8 884.2,330.7 884.4,330.9 884.6,333.0 884.8,331.7 885.0,331.6 885.2,331.3 885.3,331.8 885.5,331.0 885.7,332.3 885.9,332.1 886.1,331.4 886.3,332.1 886.4,331.2 886.6,331.0 886.8,332.0 887.0,331.2 887.2,330.6 887.4,332.3 887.5,331.0 887.7,331.4 887.9,332.2 888.1,330.1 888.3,330.7 888.5,331.7 888.6,330.7 888.8,330.5 889.0,330.7 889.2,330.6 889.4,330.5 889.6,331.0 889.7,330.8 889.9,331.9 890.1,330.9 890.3,331.8 890.5,330.6 890.7,331.8 890.8,330.4 891.0,331.3 891.2,330.5 891.4,331.6 891.6,329.8 891.8,330.0 892.0,330.6 892.1,329.5 892.3,331.3 892.5,330.0 892.7,330.5 892.9,330.8 893.1,330.5 893.2,329.5 893.4,329.0 893.6,328.7 893.8,329.2 894.0,329.3 894.2,329.2 894.3,330.1 894.5,328.7 894.7,328.5 894.9,329.8 895.1,331.0 895.3,328.9 895.4,329.5 895.6,329.5 895.8,330.3 896.0,330.1 896.2,329.1 896.4,330.1 896.5,329.4 896.7,329.9 896.9,330.6 897.1,327.6 897.3,328.2 897.5,328.2 897.6,328.2 897.8,329.2 898.0,329.1 898.2,330.3 898.4,330.0 898.6,329.2 898.7,328.8 898.9,329.4 899.1,329.2 899.3,328.5 899.5,329.3 899.7,328.4 899.8,328.6 900.0,328.5 900.2,328.2 900.4,328.1 900.6,328.6 900.8,328.4 900.9,327.6 901.1,329.7 901.3,329.7 901.5,329.6 901.7,329.2 901.9,328.2 902.0,327.5 902.2,327.5 902.4,326.9 902.6,327.9 902.8,326.8 903.0,328.1 903.1,328.2 903.3,327.6 903.5,327.6 903.7,327.9 903.9,328.3 904.1,327.6 904.2,329.1 904.4,327.1 904.6,327.3 904.8,327.3 905.0,327.5 905.2,327.8 905.3,328.0 905.5,327.3 905.7,328.7 905.9,326.1 906.1,327.6 906.3,327.4 906.4,326.4 906.6,326.3 906.8,327.4 907.0,328.1 907.2,327.5 907.4,327.1 907.5,326.9 907.7,326.7 907.9,326.8 908.1,327.5 908.3,327.8 908.5,327.4 908.6,326.4 908.8,327.3 909.0,327.6 909.2,325.5 909.4,327.0 909.6,326.3 909.7,326.8 909.9,325.7 910.1,325.8 910.3,326.5 910.5,326.1 910.7,326.1 910.8,325.8 911.0,326.8 911.2,327.2 911.4,325.7 911.6,326.5 911.8,326.0 911.9,326.4 912.1,327.0 912.3,326.4 912.5,326.1 912.7,325.3 912.9,326.9 913.1,327.2 913.2,324.6 913.4,326.4 913.6,325.8 913.8,325.0 914.0,327.1 914.2,326.2 914.3,327.3 914.5,325.2 914.7,325.4 914.9,324.6 915.1,325.7 915.3,324.4 915.4,325.3 915.6,326.4 915.8,325.9 916.0,326.2 916.2,325.5 916.4,325.9 916.5,325.3 916.7,324.4 916.9,325.6 917.1,325.2 917.3,324.6 917.5,324.4 917.6,326.0 917.8,323.9 918.0,324.4 918.2,325.3 918.4,325.4 918.6,325.1 918.7,323.8 918.9,325.7 919.1,324.7 919.3,323.7 919.3,316.5 919.3,309.2 919.3,302.0 919.3,294.7 919.3,287.5 919.3,280.2 919.4,273.8 919.6,272.6 919.8,271.1 920.0,270.3 920.1,271.8 920.3,271.2 920.5,271.7 920.7,271.3 920.9,270.4 921.1,271.0 921.2,270.6 921.4,269.4 921.6,270.5 921.8,269.8 922.0,269.3 922.2,269.4 922.3,268.3 922.5,268.1 922.7,268.3 922.9,267.5 923.1,269.0 923.3,267.8 923.4,267.9 923.6,268.5 923.8,268.0 924.0,268.2 924.2,265.8 924.4,267.3 924.5,265.6 924.7,265.5 924.9,265.5 925.1,265.2 925.3,264.9 925.5,264.9 925.6,265.5 925.8,262.5 926.0,262.8 926.2,262.7 926.4,263.6 926.6,263.2 926.7,263.2 926.9,264.0 927.1,262.4 927.3,261.1 927.5,262.2 927.7,262.9 927.8,262.8 928.0,261.1 928.2,261.0 928.4,260.8 928.6,260.8 928.8,260.0 928.9,259.5 929.1,260.7 929.3,260.5 929.5,259.1 929.7,258.4 929.9,258.1 930.0,257.5 930.2,257.2 930.4,257.6 930.6,257.0 930.8,257.5 931.0,256.7 931.1,256.2 931.3,256.3 931.5,254.6 931.7,256.5 931.9,255.8 932.1,256.8 932.2,255.3 932.4,255.3 932.6,254.5 932.8,256.5 933.0,255.0 933.2,255.4 933.3,254.1 933.5,254.6 933.7,253.2 933.9,253.3 934.1,253.3 934.3,252.6 934.4,253.6 934.6,253.5 934.8,253.5 935.0,251.8 935.2,251.8 935.4,252.0 935.5,252.3 935.7,250.7 935.9,251.2 936.1,251.9 936.3,251.1 936.5,250.7 936.6,249.8 936.8,250.1 937.0,250.7 937.2,250.7 937.4,248.5 937.6,249.8 937.7,249.0 937.9,248.4 938.1,250.2 938.3,249.2 938.5,247.7 938.7,247.5 938.8,248.2 939.0,246.8 939.2,247.5 939.4,247.8 939.6,246.3 939.8,247.1 939.9,247.1 940.1,246.1 940.3,246.7 940.5,246.7 940.7,246.3 940.9,245.3 941.0,246.2 941.2,245.1 941.4,245.3 941.6,245.0 941.8,244.7 942.0,243.0 942.2,245.0 942.3,244.4 942.5,244.0 942.7,244.1 942.9,243.2 943.1,243.1 943.3,243.4 943.4,241.3 943.6,242.1 943.8,242.0 944.0,242.0 944.2,241.6 944.4,241.2 944.5,241.8 944.7,241.9 944.9,241.5 945.1,241.7 945.3,241.1 945.5,241.6 945.6,241.5 945.8,239.8 946.0,239.3 946.2,239.3 946.4,239.2 946.6,239.8 946.7,239.5 946.9,239.0 947.1,238.2 947.3,238.2 947.5,238.1 947.7,238.2 947.8,235.6 948.0,237.8 948.2,237.8 948.4,236.7 948.6,238.0 948.8,237.3 948.9,237.1 949.1,235.2 949.3,236.7 949.5,236.1 949.7,235.9 949.9,233.9 950.0,234.2 950.2,234.9 950.4,233.9 950.6,235.7 950.8,233.7 951.0,234.8 951.1,234.3 951.3,235.9 951.5,233.7 951.7,234.5 951.9,232.9 952.1,232.2 952.2,233.1 952.4,233.6 952.6,232.0 952.8,233.0 953.0,232.4 953.2,231.8 953.3,231.7 953.5,231.5 953.7,230.7 953.9,231.1 954.1,231.1 954.3,230.0 954.4,228.4 954.6,230.6 954.8,229.4 955.0,230.1 955.2,228.9 955.4,229.6 955.5,228.9 955.7,228.6 955.9,228.6 956.1,228.7 956.3,227.0 956.5,229.0 956.6,228.6 956.8,227.9 957.0,226.2 957.2,227.8 957.4,227.0 957.6,228.0 957.7,226.2 957.9,226.2 958.1,226.9 958.3,224.4 958.5,225.5 958.7,225.4 958.8,223.6 959.0,224.4 959.2,225.1 959.4,225.0 959.6,225.7 959.8,225.0 959.9,223.1 960.1,224.5 960.3,224.0 960.5,223.5 960.7,222.4 960.9,224.4 961.0,224.1 961.2,222.8 961.4,221.8 961.6,221.4 961.8,221.2 962.0,222.4 962.1,220.3 962.3,222.2 962.5,221.0 962.7,221.2 962.9,221.3 963.1,222.3 963.2,220.9 963.4,220.0 963.6,220.2 963.8,219.8 964.0,219.5 964.2,219.4 964.4,218.4 964.5,219.1 964.7,217.7 964.9,219.3 965.1,218.0 965.3,217.2 965.5,218.3 965.6,218.1 965.8,217.5 966.0,216.1 966.2,216.1 966.4,217.2 966.6,218.2 966.7,216.6 966.9,216.4 967.3,223.4 967.3,230.4 967.3,237.4 967.3,244.4 967.3,251.5 967.3,258.5 967.3,265.5 967.7,272.9 967.9,272.1 968.1,273.8 968.3,272.7 968.4,273.5 968.6,273.1 968.8,273.0 969.0,273.6 969.2,273.7 969.4,274.3 969.5,276.0 969.7,275.3 969.9,274.9 970.1,275.9 970.3,275.4 970.5,276.9 970.6,276.9 970.8,276.3 971.0,276.7 971.2,277.1 971.4,276.5 971.6,276.6 971.7,277.6 971.9,277.3 972.1,278.2 972.3,279.1 972.5,278.5 972.7,279.3 972.8,280.4 973.0,279.1 973.2,280.7 973.4,279.3 973.6,279.3 973.8,280.5 973.9,280.5 974.1,279.7 974.3,282.0 974.5,281.9 974.7,280.8 974.9,281.6 975.0,282.0 975.2,281.3 975.4,282.7 975.6,281.7 975.8,281.7 976.0,284.3 976.1,283.0 976.3,283.1 976.5,283.8 976.7,283.6 976.9,286.0 977.1,285.0 977.2,285.5 977.4,285.8 977.6,286.9 977.8,283.9 978.0,286.4 978.2,286.2 978.3,286.4 978.5,287.4 978.7,287.2 978.9,285.7 979.1,287.4 979.3,287.4 979.4,288.5 979.6,286.4 979.8,288.7 980.0,288.5 980.2,289.2 980.4,289.2 980.5,287.6 980.7,289.9 980.9,289.6 981.1,289.3 981.3,290.8 981.5,290.3 981.6,291.8 981.8,291.6 982.0,290.2 982.2,291.9 982.4,291.5 982.6,291.8 982.7,291.9 982.9,293.0 983.1,291.9 983.3,293.0 983.5,291.8 983.7,293.4 983.8,292.5 984.0,292.7 984.2,293.9 984.4,293.3 984.6,295.2 984.8,293.8 984.9,296.0 985.1,295.7 985.3,295.4 985.5,296.0 985.7,296.0 985.9,297.8 986.0,296.7 986.2,296.1 986.4,297.1 986.6,296.8 986.8,297.2 987.0,297.0 987.1,297.3 987.3,298.6 987.5,298.2 987.7,299.0 987.9,298.4 988.1,298.8 988.2,298.8 988.4,300.3 988.6,300.8 988.8,299.8 989.0,300.8 989.2,299.3 989.3,299.6 989.5,301.4 989.7,299.8 989.9,303.3 990.1,302.3 990.3,303.1 990.5,301.9 990.6,301.3 990.8,301.8 991.0,302.1 991.2,303.6 991.4,302.4 991.6,302.8 991.7,304.8 991.9,303.0 992.1,303.7 992.3,305.4 992.5,306.5 992.7,303.7 992.8,303.3 993.0,304.8 993.2,305.7 993.4,305.8 993.6,305.6 993.8,305.3 993.9,307.2 994.1,306.4 994.3,306.5 994.5,307.3 994.7,308.6 994.9,307.9 995.0,309.9 995.2,308.0 995.4,308.9 995.6,307.1 995.8,308.4 996.0,309.1 996.1,308.9 996.3,309.0 996.5,309.5 996.7,309.4 996.9,309.9 997.1,310.6 997.2,311.1 997.4,310.3 997.6,311.1 997.8,310.9 998.0,312.5 998.2,313.3 998.3,312.4 998.5,312.8 998.7,312.5 998.9,313.3 999.1,313.1 999.3,312.5 999.4,314.6 999.6,315.6 999.8,314.6 1000.0,314.4 1000.2,315.0 1000.4,316.1 1000.5,314.8 1000.7,315.9 1000.9,315.7 1001.1,314.2 1001.3,315.8 1001.5,316.7 1001.6,316.8 1001.8,316.7 1002.0,316.1 1002.2,317.5 1002.4,317.6 1002.6,318.1 1002.7,319.3 1002.9,318.3 1003.1,319.3 1003.3,319.1 1003.5,321.0 1003.7,319.6 1003.8,321.4 1004.0,318.9 1004.2,319.0 1004.4,320.5 1004.6,320.3 1004.8,321.6 1004.9,321.5 1005.1,321.7 1005.3,320.7 1005.5,321.5 1005.7,322.4 1005.9,321.6 1006.0,322.3 1006.2,323.4 1006.4,322.7 1006.6,323.2 1006.8,324.2 1007.0,323.8 1007.1,322.6 1007.3,324.1 1007.5,324.2 1007.7,324.7 1007.9,326.4 1008.1,325.8 1008.2,325.3 1008.4,324.9 1008.6,326.3 1008.8,326.0 1009.0,327.1 1009.2,326.6 1009.3,327.3 1009.5,326.2 1009.7,326.9 1009.9,327.3 1010.1,326.9 1010.3,328.1 1010.4,327.7 1010.6,328.0 1010.8,328.0 1011.0,328.7 1011.2,327.7 1011.4,329.9 1011.5,329.7 1011.7,330.1 1011.9,330.8 1012.1,330.4 1012.3,330.2 1012.5,331.6 1012.7,330.6 1012.8,331.2 1013.0,329.7 1013.2,331.2 1013.4,331.8 1013.6,332.5 1013.8,332.7 1013.9,333.2 1014.1,332.3 1014.3,332.6 1014.5,333.4 1014.7,332.9 1014.9,333.4 1015.0,334.0 1015.2,332.7 1015.4,333.2 1015.6,334.9 1015.8,334.3 1016.0,335.7 1016.1,335.0 1016.3,334.8 1016.5,336.3 1016.7,335.9 1016.9,336.6 1017.1,336.0 1017.2,336.2 1017.4,336.8 1017.6,336.6 1017.8,337.3 1018.0,337.0 1018.2,338.2 1018.3,338.8 1018.5,338.8 1018.7,337.7 1018.9,339.8 1019.1,337.8 1019.3,339.5 1019.4,339.7 1019.6,340.4 1019.8,339.6 1020.0,339.9 1020.2,341.4 1020.4,341.6 1020.5,340.3 1020.7,341.1 1020.9,340.9 1021.1,339.8 1021.3,342.8 1021.5,341.7 1021.6,342.5 1021.8,342.9 1022.0,342.0 1022.2,343.8 1022.4,342.9 1022.6,342.6 1022.7,344.1 1022.9,344.2 1023.1,344.0 1023.3,344.6 1023.5,346.1 1023.7,345.6 1023.8,345.3 1024.0,345.3 1024.2,347.2 1024.4,345.7 1024.6,344.8 1024.8,347.4 1024.9,346.4 1025.1,345.4 1025.3,346.2 1025.5,346.4 1025.7,346.0 1025.9,347.4 1026.6,341.5 1026.6,335.6 1026.6,329.8 1026.6,323.9 1026.6,318.1 1026.6,312.2 1026.6,306.4 1027.4,300.1 1027.6,301.5 1027.8,300.0 1028.0,299.4 1028.1,299.5 1028.3,299.5 1028.5,299.9 1028.7,299.9 1028.9,297.2 1029.1,297.4 1029.2,298.2 1029.4,299.5 1029.6,297.4 1029.8,298.4 1030.0,296.9 1030.2,296.7 1030.3,296.7 1030.5,297.7 1030.7,296.1 1030.9,296.3 1031.1,296.2 1031.3,296.4 1031.4,295.6 1031.6,296.0 1031.8,296.3 1032.0,295.4 1032.2,294.3 1032.4,294.3 1032.5,294.4 1032.7,293.7 1032.9,292.9 1033.1,292.8 1033.3,292.8 1033.5,291.6 1033.6,295.0 1033.8,293.2 1034.0,291.9 1034.2,291.6 1034.4,292.8 1034.6,290.6 1034.7,290.7 1034.9,292.0 1035.1,290.9 1035.3,291.3 1035.5,290.6 1035.7,290.3 1035.8,289.6 1036.0,290.2 1036.2,289.8 1036.4,289.6 1036.6,288.9 1036.8,289.9 1036.9,288.8 1037.1,288.9 1037.3,287.4 1037.5,286.8 1037.7,288.4 1037.9,287.1 1038.0,286.7 1038.2,287.4 1038.4,287.9 1038.6,286.5 1038.8,286.2 1039.0,286.6 1039.1,286.4 1039.3,285.8 1039.5,284.2 1039.7,285.9 1039.9,284.5 1040.1,286.4 1040.2,284.1 1040.4,284.6 1040.6,284.1 1040.8,284.1 1041.0,285.6 1041.2,283.3 1041.3,284.0 1041.5,283.1 1041.7,282.6 1041.9,283.2 1042.1,282.6 1042.3,282.0 1042.4,281.2 1042.6,282.0 1042.8,284.0 1043.0,281.1 1043.2,281.5 1043.4,280.4 1043.5,283.2 1043.7,279.3 1043.9,279.7 1044.1,278.5 1044.3,280.2 1044.5,279.5 1044.6,279.5 1044.8,279.0 1045.0,279.9 1045.2,279.6 1045.4,279.2 1045.6,276.0 1045.7,277.2 1045.9,277.7 1046.1,278.1 1046.3,275.1 1046.5,278.1 1046.7,277.0 1046.8,277.7 1047.0,275.4 1047.2,275.4 1047.4,275.0 1047.6,275.1 1047.8,274.8 1047.9,273.8 1048.1,275.9 1048.3,275.1 1048.5,273.8 1048.7,272.7 1048.9,274.9 1049.0,272.0 1049.2,272.7 1049.4,272.3 1049.6,272.5 1049.8,273.2 1050.0,273.3 1050.2,272.6 1050.3,271.3 1050.5,272.9 1050.7,272.6 1050.9,272.1 1051.1,273.0 1051.3,270.2 1051.4,270.2 1051.6,270.0 1051.8,269.9 1052.0,270.6 1052.2,270.0 1052.4,269.4 1052.5,270.3 1052.7,269.1 1052.9,268.6 1053.1,268.3 1053.3,267.5 1053.5,268.1 1053.6,267.4 1053.8,267.8 1054.0,267.9 1054.2,267.7 1054.4,266.8 1054.6,268.4 1054.7,265.8 1054.9,267.0 1055.1,266.3 1055.3,266.2 1055.5,265.3 1055.7,265.0 1055.8,265.8 1056.0,263.8 1056.2,265.0 1056.4,263.6 1056.6,263.0 1056.8,264.3 1056.9,263.5 1057.1,265.2 1057.3,262.2 1057.5,263.4 1057.7,263.1 1057.9,263.0 1058.0,262.2 1058.2,261.2 1058.4,262.7 1058.6,262.5 1058.8,262.0 1059.0,261.7 1059.1,262.1 1059.3,261.7 1059.5,261.3 1059.7,260.1 1059.9,261.1 1060.1,259.4 1060.2,260.1 1060.4,258.9 1060.6,259.3 1060.8,259.8 1061.0,258.7 1061.2,259.4 1061.3,258.1 1061.5,259.5 1061.7,257.9 1061.9,259.8 1062.1,258.1 1062.3,257.3 1062.4,256.3 1062.6,256.6 1062.8,258.1 1063.0,255.5 1063.2,255.0 1063.4,256.2 1063.5,256.7 1063.7,255.2 1063.9,254.6 1064.1,254.9 1064.3,254.7 1064.5,255.4 1064.6,255.8 1064.8,254.0 1065.0,253.3 1065.2,252.8 1065.4,252.1 1065.6,253.2 1065.7,251.8 1065.9,253.3 1066.1,252.4 1066.3,251.8 1066.5,253.2 1066.7,250.5 1066.8,252.3 1067.0,251.5 1067.2,251.3 1067.4,250.9 1067.6,249.8 1067.8,250.9 1067.9,251.1 1068.1,248.5 1068.3,249.9 1068.5,249.5 1068.7,249.1 1068.9,249.4 1069.0,248.7 1069.2,248.3 1069.4,249.3 1069.6,247.4 1069.8,247.6 1070.0,247.4 1070.1,246.9 1070.3,246.9 1070.5,248.1 1070.7,246.2 1070.9,248.5 1071.1,245.1 1071.2,244.3 1071.4,245.3 1071.6,244.7 1071.8,246.4 1072.0,245.5 1072.2,244.1 1072.4,244.6 1072.5,244.3 1072.7,246.3 1072.9,244.2 1073.1,244.0 1073.3,244.0 1073.5,243.5 1073.6,243.1 1073.8,242.2 1074.0,242.7 1074.2,242.6 1074.4,241.2 1074.6,242.0 1074.7,240.8 1074.9,240.3 1075.1,241.2 1075.3,241.5 1075.5,241.5 1075.7,240.2 1075.8,239.3 1076.0,239.5 1076.2,239.7 1076.4,239.6 1076.6,239.8 1076.8,239.1 1076.9,239.8 1077.1,238.3 1077.3,238.9 1077.5,238.8 1077.7,238.4 1077.9,238.3 1078.0,236.8 1078.2,238.1 1078.4,236.8 1078.6,236.8 1078.8,235.9 1079.0,236.8 1079.1,235.9 1079.3,235.5 1079.5,236.3 1079.7,235.0 1079.9,235.6 1080.1,235.3 1080.2,235.3 1080.4,234.7 1080.6,233.5 1080.8,234.3 1081.0,234.3 1081.2,235.2 1081.3,234.9 1081.5,234.0 1081.7,233.8 1081.9,230.9 1082.1,232.2 1082.3,231.6 1082.4,232.6 1082.6,232.3 1082.8,232.1 1083.0,231.9 1083.2,231.5 1083.4,230.9 1083.5,230.3 1083.7,231.1 1083.9,230.3 1084.1,230.9 1084.3,229.5 1084.5,229.4 1084.6,228.8 1084.8,229.7 1085.0,228.3 1085.2,226.9 1085.4,227.9 1085.6,227.7 1085.7,228.0 1085.9,227.5 1086.1,228.5 1086.3,227.6 1086.5,227.9 1087.2,234.8 1087.2,241.7 1087.2,248.6 1087.2,255.5 1087.2,262.4 1087.2,269.3 1087.2,276.3 1087.2,283.2 1087.2,290.1 1087.9,298.1 1088.1,298.1 1088.3,298.2 1088.5,297.5 1088.6,298.4 1088.8,298.3 1089.0,299.2 1089.2,298.5 1089.4,299.7 1089.6,299.1 1089.7,300.3 1089.9,300.9 1090.1,301.2 1090.3,300.2 1090.5,301.8 1090.7,299.8 1090.8,301.5 1091.0,300.6 1091.2,301.9 1091.4,301.3 1091.6,302.4 1091.8,302.2 1091.9,304.0 1092.1,304.9 1092.3,304.2 1092.5,304.6 1092.7,304.5 1092.9,304.3 1093.0,304.5 1093.2,304.0 1093.4,304.6 1093.6,306.1 1093.8,305.4 1094.0,306.3 1094.1,305.6 1094.3,308.3 1094.5,307.9 1094.7,307.0 1094.9,308.8 1095.1,308.0 1095.2,308.8 1095.4,308.1 1095.6,308.1 1095.8,309.8 1096.0,309.6 1096.2,309.9 1096.3,310.3 1096.5,309.9 1096.7,309.8 1096.9,310.7 1097.1,309.3 1097.3,311.0 1097.4,312.1 1097.6,311.3 1097.8,313.2 1098.0,311.8 1098.2,311.5 1098.4,313.0 1098.5,312.7 1098.7,313.6 1098.9,312.9 1099.1,314.1 1099.3,314.0 1099.5,314.3 1099.6,315.1 1099.8,314.0 1100.0,314.7 1100.2,315.9 1100.4,316.2 1100.6,316.0 1100.7,314.9 1100.9,316.1 1101.1,315.9 1101.3,316.2 1101.5,315.5 1101.7,315.3 1101.8,317.9 1102.0,317.9 1102.2,316.5 1102.4,317.5 1102.6,318.1 1102.8,317.8 1102.9,318.9 1103.1,318.4 1103.3,317.9 1103.5,318.9 1103.7,319.8 1103.9,319.0 1104.0,320.4 1104.2,320.9 1104.4,320.8 1104.6,321.0 1104.8,320.7 1105.0,321.4 1105.1,320.7 1105.3,319.7 1105.5,321.2 1105.7,323.0 1105.9,323.0 1106.1,321.6 1106.2,322.5 1106.4,322.3 1106.6,322.2 1106.8,323.1 1107.0,324.1 1107.2,323.8 1107.3,323.8 1107.5,322.6 1107.7,326.1 1107.9,323.8 1108.1,325.0 1108.3,325.8 1108.4,325.5 1108.6,326.3 1108.8,324.1 1109.0,325.4 1109.2,325.8 1109.4,325.5 1109.5,325.6 1109.7,327.7 1109.9,326.3 1110.1,328.3 1110.3,328.4 1110.5,327.7 1110.7,327.1 1110.8,327.9 1111.0,328.1 1111.2,328.3 1111.4,328.5 1111.6,329.3 1111.8,329.2 1111.9,329.6 1112.1,329.9 1112.3,331.0 1112.5,331.8 1112.7,330.5 1112.9,330.7 1113.0,330.8 1113.2,331.9 1113.4,331.9 1113.6,331.7 1113.8,331.7 1114.0,332.4 1114.1,333.0 1114.3,332.1 1114.5,332.9 1114.7,331.5 1114.9,332.5 1115.1,333.6 1115.2,332.3 1115.4,332.5 1115.6,334.1 1115.8,332.6 1116.0,334.1 1116.2,336.1 1116.3,335.0 1116.5,336.3 1116.7,336.3 1116.9,334.8 1117.1,335.4 1117.3,336.1 1117.4,336.8 1117.6,337.3 1117.8,337.0 1118.0,336.9 1118.2,336.1 1118.4,337.8 1118.5,336.8 1118.7,338.2 1118.9,338.7 1119.1,336.8 1119.3,339.6 1119.5,338.2 1119.6,339.3 1119.8,339.4 1120.0,340.3 1120.2,340.1 1120.4,340.6 1120.6,340.2 1120.7,339.2 1120.9,339.9 1121.1,340.7 1121.3,341.1 1121.5,340.8 1121.7,340.3 1121.8,340.1 1122.0,341.3 1122.2,343.7 1122.4,341.6 1122.6,341.5 1122.8,342.6 1122.9,342.9 1123.1,342.6 1123.3,341.3 1123.5,342.5 1123.7,342.7 1123.9,343.9 1124.0,343.1 1124.2,343.6 1124.4,343.2 1124.6,343.8 1124.8,346.1 1125.0,345.3 1125.1,345.2 1125.3,344.4 1125.5,344.4 1125.7,346.3 1125.9,345.7 1126.1,346.4 1126.2,346.4 1126.4,346.4 1126.6,344.7 1126.8,347.4 1127.0,348.3 1127.2,347.2 1127.3,347.3 1127.5,347.8 1127.7,347.6 1127.9,346.7 1128.1,348.0 1128.3,348.4 1128.4,349.5 1128.6,348.1 1128.8,348.8 1129.0,349.3 1129.2,349.9 1129.4,351.2 1129.5,350.4 1129.7,350.6 1129.9,349.5 1130.1,351.8 1130.3,349.5 1130.5,352.0 1130.6,351.9 1130.8,351.5 1131.0,350.8 1131.2,352.2 1131.4,351.7 1131.6,353.3 1131.7,350.3 1131.9,352.7 1132.1,350.9 1132.3,353.2 1132.5,353.1 1132.7,354.1 1132.9,352.9 1133.0,353.2 1133.2,352.5 1133.4,354.0 1133.6,354.6 1133.8,354.5 1134.0,354.2 1134.1,355.0 1134.3,355.7 1134.5,355.8 1134.7,354.2 1134.9,355.6 1135.1,355.5 1135.2,354.2 1135.4,357.0 1135.6,357.0 1135.8,356.2 1136.0,357.5 1136.2,357.5 1136.3,357.2 1136.5,358.0 1136.7,357.8 1136.9,357.6 1137.1,359.1 1137.3,357.4 1137.4,360.2 1137.6,359.1 1137.8,358.8 1138.0,359.7 1138.2,358.9 1138.4,359.5 1138.5,361.5 1138.7,360.5 1138.9,360.3 1139.1,360.5 1139.3,361.5 1139.5,361.7 1139.6,360.9 1139.8,362.3 1140.0,361.6 1140.2,361.8 1140.4,362.6 1140.6,361.6 1140.7,361.2 1140.9,362.5 1141.1,363.5 1141.3,362.8 1141.5,363.9 1141.7,364.3 1141.8,363.4 1142.0,363.8 1142.2,363.9 1142.4,364.7 1142.6,364.8 1142.8,364.8 1142.9,365.9 1143.1,365.3 1143.3,365.5 1143.5,364.9 1143.7,365.7 1143.9,366.9 1144.0,366.6 1144.2,366.3 1144.4,366.4 1144.6,366.0 1144.8,366.3 1145.0,367.8 1145.1,367.3 1145.3,367.5 1145.5,368.6 1145.7,367.6 1145.9,367.7 1146.1,369.4 1146.2,369.0 1146.4,367.5 1146.6,368.9 1146.8,368.5 1147.0,368.9 1147.2,369.3 1147.3,368.5 1147.5,369.4 1147.7,371.5 1147.9,370.2 1148.1,370.2 1148.3,371.4 1148.4,369.9 1148.6,370.9 1148.8,372.3 1149.0,371.5 1149.2,372.0 1149.4,371.8 1149.5,372.4 1149.7,372.9 1149.9,372.4 1150.1,372.8 1150.3,373.1 1150.5,371.7 1150.6,374.0 1150.8,374.9 1151.0,374.4 1151.2,374.1 1151.4,373.9 1151.6,374.6 1151.7,376.0 1151.9,375.9 1152.1,374.5 1152.3,376.3 1152.5,374.9 1152.7,375.1 1152.8,375.7 1153.0,376.5 1153.2,376.0 1153.4,377.1 1153.6,376.8 1153.8,378.0 1154.0,376.0 1154.1,377.3 1154.3,377.8 1154.5,378.6 1154.7,376.1 1154.9,377.7 1155.1,376.5 1155.2,378.5 1155.4,377.9 1155.6,378.7 1155.8,379.4 1156.0,379.5 1156.2,378.8 1156.3,379.6 1156.5,381.6 1156.7,379.1 1156.9,380.0 1157.1,379.4 1157.3,380.6 1157.4,379.5 1157.6,380.7 1157.8,379.3 1158.0,380.7 1158.2,382.6 1158.4,380.1 1158.5,380.7 1158.7,381.9 1158.9,380.6 1159.1,379.8 1159.3,380.5 1159.5,382.1 1159.6,382.9 1159.8,382.3 1160.0,382.4 1160.2,383.4 1160.5,377.0 1160.5,370.5 1160.5,364.1 1160.5,357.7 1160.5,351.3 1160.5,344.9 1160.8,338.5 1161.0,339.5 1161.2,339.6 1161.4,338.2 1161.5,339.3 1161.7,338.9 1161.9,338.2 1162.1,338.2 1162.3,339.0 1162.5,337.2 1162.6,336.9 1162.8,338.9 1163.0,339.4 1163.2,338.1 1163.4,338.7 1163.6,336.6 1163.7,336.8 1163.9,337.3 1164.1,337.4 1164.3,337.8 1164.5,337.2 1164.7,337.5 1164.8,337.3 1165.0,337.9 1165.2,338.2 1165.4,338.0 1165.6,338.3 1165.8,337.1 1165.9,336.8 1166.1,335.7 1166.3,335.8 1166.5,337.6 1166.7,337.3 1166.9,337.0 1167.0,336.6 1167.2,335.9 1167.4,335.1 1167.6,336.3 1167.8,336.5 1168.0,334.7 1168.1,337.6 1168.3,336.0 1168.5,336.8 1168.7,337.4 1168.9,337.5 1169.1,336.1 1169.2,337.0 1169.4,336.9 1169.6,336.2 1169.8,336.4 1170.0,335.4 1170.2,336.2 1170.3,335.5 1170.5,335.8 1170.7,336.0 1170.9,336.5 1171.1,335.6 1171.3,335.5 1171.4,335.4 1171.6,337.7 1171.8,335.3 1172.0,335.9 1172.2,334.4 1172.4,335.5 1172.5,334.5 1172.7,334.9 1172.9,335.9 1173.1,336.5 1173.1,331.6 1173.1,326.7 1173.1,321.8 1173.1,316.9 1173.1,312.0 1173.1,307.1 1173.1,302.2 1173.1,297.5 1173.3,297.5 1173.5,296.9 1173.7,296.2 1173.8,296.3 1174.0,296.8 1174.2,295.9 1174.4,295.2 1174.6,294.9 1174.8,295.3 1174.9,294.4 1175.1,295.1 1175.3,293.1 1175.5,294.5 1175.7,293.0 1175.9,293.3 1176.0,294.7 1176.2,293.6 1176.4,292.2 1176.6,292.0 1176.8,292.7 1177.0,292.5 1177.1,291.5 1177.3,291.8 1177.5,290.6 1177.7,288.6 1177.9,291.3 1178.1,289.8 1178.2,290.4 1178.4,289.5 1178.6,289.2 1178.8,288.4 1179.0,289.4 1179.2,289.2 1179.3,289.3 1179.5,288.6 1179.7,288.1 1179.9,287.1 1180.1,287.3 1180.3,287.3 1180.4,284.8 1180.6,285.6 1180.8,286.0 1181.0,286.5 1181.2,286.7 1181.4,286.7 1181.5,284.5 1181.7,284.9 1181.9,284.2 1182.1,283.7 1182.3,283.8 1182.5,283.9 1182.6,284.1 1182.8,282.1 1183.0,282.9 1183.2,282.0 1183.4,283.5 1183.6,283.5 1183.7,281.6 1183.9,281.1 1184.1,281.9 1184.3,281.8 1184.5,280.1 1184.7,280.3 1184.8,280.5 1185.0,279.3 1185.2,280.9 1185.4,279.6 1185.6,279.3 1185.8,278.1 1185.9,279.6 1186.1,277.4 1186.3,277.6 1186.5,277.5 1186.7,277.6 1186.9,276.3 1187.0,276.5 1187.2,277.3 1187.4,276.6 1187.6,276.4 1187.8,276.8 1188.0,276.1 1188.1,276.3 1188.3,275.3 1188.5,274.3 1188.7,276.0 1188.9,273.2 1189.1,273.2 1189.2,273.1 1189.4,275.5 1189.6,273.5 1189.8,273.9 1190.0,271.7 1190.2,271.8 1190.3,272.6 1190.5,271.7 1190.7,271.9 1190.9,272.0 1191.1,271.3 1191.3,271.1 1191.4,270.9 1191.6,270.3 1191.8,270.4 1192.0,270.7 1192.2,269.0 1192.4,269.6 1192.5,269.8 1192.7,268.7 1192.9,268.5 1193.1,269.7 1193.3,268.9 1193.5,269.5 1193.6,269.0 1193.8,267.0 1194.0,266.5 1194.2,266.5 1194.4,267.1 1194.6,263.6 1194.7,266.0 1194.9,266.6 1195.1,265.5 1195.3,265.4 1195.5,264.7 1195.7,263.4 1195.9,265.1 1196.0,263.9 1196.2,264.2 1196.4,263.6 1196.6,264.8 1196.8,263.4 1197.0,263.1 1197.1,262.4 1197.3,261.6 1197.5,262.3 1197.7,262.5 1197.9,261.5 1198.1,259.5 1198.2,260.3 1198.4,262.1 1198.6,260.0 1198.8,260.3 1199.0,258.4 1199.2,259.2 1199.3,258.7 1199.5,259.7 1199.7,259.3 1199.9,258.9 1200.1,259.0 1200.3,257.6 1200.4,259.0 1200.6,257.3 1200.8,257.9 1201.0,258.5 1201.2,256.3 1201.4,256.7 1201.5,256.0 1201.7,256.0 1201.9,255.8 1202.1,255.3 1202.3,255.1 1202.5,255.3 1202.6,253.5 1202.8,253.7 1203.0,253.6 1203.2,252.7 1203.4,253.7 1203.6,252.9 1203.7,252.3 1203.9,251.6 1204.1,251.7 1204.3,252.5 1204.5,250.9 1204.7,252.3 1204.8,251.8 1205.0,251.3 1205.2,249.5 1205.4,250.0 1205.6,251.1 1205.8,249.7 1205.9,249.2 1206.1,248.9 1206.3,249.5 1206.5,247.6 1206.7,249.4 1206.9,248.6 1207.0,247.4 1207.2,248.3 1207.4,245.6 1207.6,246.4 1207.8,247.3 1208.0,247.9 1208.1,245.6 1208.3,245.2 1208.5,246.0 1208.7,245.8 1208.9,244.9 1209.1,244.6 1209.2,246.1 1209.4,244.0 1209.6,243.2 1209.8,243.8 1210.0,244.9 1210.2,244.1 1210.3,243.3 1210.5,242.1 1210.7,242.7 1210.9,244.7 1211.1,242.7 1211.3,242.8 1211.4,240.6 1211.6,241.2 1211.8,240.8 1212.0,242.3 1212.2,240.5 1212.4,240.4 1212.5,239.8 1212.7,237.7 1212.9,240.5 1213.1,237.9 1213.3,238.7 1213.5,237.6 1213.6,238.1 1213.8,237.9 1214.0,237.6 1214.2,238.8 1214.4,236.6 1214.6,237.0 1214.7,237.4 1214.9,236.4 1215.1,236.0 1215.3,237.6 1215.5,236.5 1215.7,235.0 1215.8,235.6 1216.0,234.4 1216.2,235.2 1216.4,233.5 1216.6,234.9 1216.8,234.3 1216.9,234.0 1217.1,233.5 1217.3,233.4 1217.5,232.3 1217.7,232.7 1217.9,232.9 1218.1,232.5 1218.2,231.2 1218.4,232.1 1218.6,230.5 1218.8,230.6 1219.0,230.2 1219.2,230.1 1219.3,230.2 1219.5,230.5 1219.7,230.6 1219.9,229.8 1220.1,228.7 1220.3,229.5 1220.4,229.4 1220.6,227.9 1220.8,227.3 1221.0,227.8 1221.2,229.1 1221.4,227.1 1221.5,227.0 1221.7,227.4 1221.9,225.7 1222.1,225.5 1222.3,226.0 1222.5,226.4 1222.6,225.3 1222.8,224.8 1223.0,223.7 1223.2,225.9 1223.4,223.5 1223.6,225.2 1223.7,223.4 1223.9,224.5 1224.1,224.7 1224.3,222.5 1224.5,223.3 1224.7,223.1 1224.8,223.3 1225.0,221.8 1225.2,222.7 1225.4,221.6 1225.6,220.5 1225.8,221.7 1225.9,221.7 1226.1,220.4 1226.3,220.1 1226.5,220.5 1226.7,220.9 1226.9,218.5 1227.0,219.9 1227.2,220.4 1227.4,217.9 1227.6,218.8 1227.8,218.1 1228.0,218.1 1228.1,218.5 1228.3,216.1 1228.5,216.6 1228.7,215.7 1228.9,216.2 1229.1,217.6 1229.2,215.1 1229.4,215.3 1229.6,214.9 1229.8,215.4 1230.0,214.6 1230.2,214.0 1230.3,213.8 1230.5,214.0 1230.7,212.9 1230.9,211.7 1231.1,214.2 1231.3,213.1 1231.4,212.3 1231.6,212.4 1231.8,212.8 1232.0,211.3 1232.2,211.7 1232.3,219.8 1232.3,227.9 1232.3,236.0 1232.3,244.1 1232.3,252.2 1232.3,260.3 1232.5,268.0 1232.7,269.4 1232.9,266.7 1233.1,267.6 1233.2,269.8 1233.4,267.9 1233.6,268.3 1233.8,268.1 1234.0,267.3 1234.2,269.1 1234.3,269.8 1234.5,269.6 1234.7,268.5 1234.9,269.1 1235.1,270.9 1235.3,269.6 1235.4,269.1 1235.6,270.6 1235.8,269.8 1236.0,268.6 1236.2,269.5 1236.4,270.9 1236.5,270.2 1236.7,270.3 1236.9,271.0 1237.1,270.0 1237.3,269.5 1237.5,270.7 1237.6,270.4 1237.8,270.9 1238.0,270.5 1238.2,270.5 1238.4,270.1 1238.6,271.5 1238.7,272.8 1238.9,270.5 1239.1,272.4 1239.3,272.2 1239.5,271.2 1239.7,271.1 1239.8,272.3 1240.0,271.7 1240.2,271.9 1240.4,271.8 1240.6,273.7 1240.8,271.1 1240.9,272.8 1241.1,274.0 1241.3,272.7 1241.5,274.3 1241.7,272.8 1241.9,273.0 1242.0,273.6 1242.2,272.5 1242.4,273.2 1242.6,273.7 1242.8,272.8 1243.0,273.8 1243.1,274.3 1243.3,272.7 1243.5,273.6 1243.7,274.1 1243.9,273.3 1244.2,278.1 1244.2,282.9 1244.2,287.7 1244.2,292.5 1244.2,297.3 1244.2,302.1 1244.2,306.9 1244.2,311.7 1244.6,317.3 1244.8,317.7 1245.0,316.6 1245.2,317.5 1245.3,317.2 1245.5,317.8 1245.7,318.6 1245.9,318.4 1246.1,318.9 1246.3,318.7 1246.4,320.2 1246.6,320.3 1246.8,319.4 1247.0,320.6 1247.2,322.4 1247.4,320.4 1247.5,322.1 1247.7,323.3 1247.9,321.4 1248.1,322.5 1248.3,320.5 1248.5,323.5 1248.6,323.2 1248.8,323.6 1249.0,323.4 1249.2,324.3 1249.4,324.7 1249.6,324.6 1249.7,324.2 1249.9,324.5 1250.1,325.0 1250.3,325.1 1250.5,324.9 1250.7,324.8 1250.8,326.0 1251.0,325.7 1251.2,326.3 1251.4,325.9 1251.6,326.2 1251.8,327.1 1251.9,327.6 1252.1,329.7 1252.3,328.2 1252.5,329.4 1252.7,329.2 1252.9,329.4 1253.0,329.2 1253.2,330.2 1253.4,330.4 1253.6,329.2 1253.8,331.1 1254.0,330.7 1254.1,329.9 1254.3,330.8 1254.5,332.2 1254.7,332.7 1254.9,332.1 1255.1,333.4 1255.2,333.4 1255.4,331.9 1255.6,332.5 1255.8,333.9 1256.0,333.2 1256.2,333.7 1256.3,334.7 1256.5,334.5 1256.7,334.5 1256.9,334.3 1257.1,337.1 1257.3,334.8 1257.4,335.8 1257.6,337.3 1257.8,336.6 1258.0,336.3 1258.2,336.4 1258.4,338.4 1258.5,338.4 1258.7,336.6 1258.9,337.3 1259.1,339.2 1259.3,340.2 1259.5,338.8 1259.6,340.2 1259.8,338.6 1260.0,338.8 1260.2,339.4 1260.4,341.0 1260.6,341.1 1260.7,341.7 1260.9,340.1 1261.1,343.0 1261.3,341.7 1261.5,344.3 1261.7,342.8 1261.8,341.5 1262.0,343.1 1262.2,342.8 1262.4,344.9 1262.6,344.2 1262.8,345.2 1262.9,343.9 1263.1,344.2 1263.3,345.2 1263.5,345.4 1263.7,345.0 1263.9,346.3 1264.0,347.1 1264.2,346.2 1264.4,346.4 1264.6,346.7 1264.8,347.8 1265.0,347.5 1265.1,348.2 1265.3,349.0 1265.5,348.2 1265.7,348.5 1265.9,348.8 1266.1,350.4 1266.2,349.5 1266.4,349.9 1266.6,349.9 1266.8,351.1 1267.0,351.0 1267.2,350.1 1267.4,352.0 1267.5,351.9 1267.7,352.7 1267.9,352.5 1268.1,352.3 1268.3,351.9 1268.5,353.7 1268.6,354.2 1268.8,352.8 1269.0,353.7 1269.2,354.4 1269.4,354.2 1269.6,354.9 1269.7,354.6 1269.9,354.7 1270.1,356.4 1270.3,354.4 1270.5,356.5 1270.7,355.7 1270.8,356.6 1271.0,356.4 1271.2,357.3 1271.4,357.0 1271.6,357.9 1271.8,356.9 1271.9,357.4 1272.1,358.4 1272.3,359.3 1272.5,358.5 1272.7,360.9 1272.9,359.4 1273.0,360.5 1273.2,358.8 1273.4,359.7 1273.6,360.0 1273.8,360.2 1274.0,360.1 1274.1,361.3 1274.3,361.3 1274.5,363.4 1274.7,362.4 1274.9,363.0 1275.1,361.4 1275.2,364.4 1275.4,364.8 1275.6,363.0 1275.8,363.3 1276.0,363.8 1276.2,365.8 1276.3,364.0 1276.5,364.5 1276.7,364.3 1276.9,366.0 1277.1,366.8 1277.3,365.6 1277.4,367.5 1277.6,367.1 1277.8,366.6 1278.0,367.9 1278.2,368.8 1278.4,369.0 1278.5,368.8 1278.7,369.6 1278.9,368.9 1279.1,369.4 1279.3,370.8 1279.5,369.7 1279.6,369.4 1279.8,369.4 1280.0,370.2 1280.2,369.4 1280.4,370.4 1280.6,370.6 1281.3,360.1 1281.3,349.5 1281.3,339.0 1281.3,328.5 1281.3,318.0 1281.3,307.5 1282.0,296.9 1282.2,295.8 1282.4,296.6 1282.6,296.5 1282.7,297.0 1282.9,297.0 1283.1,297.3 1283.3,295.8 1283.5,294.7 1283.7,296.2 1283.8,295.8 1284.0,295.0 1284.2,295.8 1284.4,296.6 1284.6,295.2 1284.8,294.4 1284.9,294.8 1285.1,293.8 1285.3,295.8 1285.5,293.2 1285.7,293.2 1285.9,294.6 1286.0,293.6 1286.2,292.6 1286.4,294.1 1286.6,294.1 1286.8,291.9 1287.0,293.5 1287.1,293.6 1287.3,294.1 1287.5,292.9 1287.7,292.9 1287.9,292.3 1288.1,292.6 1288.2,293.2 1288.4,292.3 1288.6,291.1 1288.8,291.4 1289.0,292.8 1289.2,290.2 1289.3,290.6 1289.5,290.4 1289.7,291.7 1289.9,289.9 1290.1,290.1 1290.3,290.2 1290.4,290.5 1290.6,290.4 1290.8,288.9 1291.0,288.8 1291.2,288.4 1291.4,290.2 1291.5,289.0 1291.7,289.2 1291.9,288.9 1292.1,287.6 1292.3,287.4 1292.5,287.6 1292.6,289.8 1292.8,287.9 1293.0,288.4 1293.2,287.1 1293.4,289.6 1293.6,287.6 1293.7,286.1 1293.9,286.8 1294.1,287.2 1294.3,287.5 1294.5,286.3 1294.7,286.9 1294.8,286.5 1295.0,286.2 1295.2,285.6 1295.4,286.0 1295.6,286.4 1295.8,285.4 1295.9,284.9 1296.1,287.1 1296.3,285.4 1296.5,285.2 1296.7,283.4 1296.9,285.1 1297.0,282.9 1297.2,284.9 1297.4,284.0 1297.6,283.2 1297.8,282.9 1298.0,283.4 1298.1,282.8 1298.3,281.6 1298.5,283.5 1298.7,281.4 1298.9,282.2 1299.1,281.8 1299.2,283.2 1299.4,280.7 1299.6,282.4 1299.8,281.8 1300.0,279.1 1300.2,280.1 1300.3,280.4 1300.5,280.0 1300.7,280.8 1300.9,280.9 1301.1,281.1 1301.3,279.5 1301.4,280.3 1301.6,279.6 1301.8,279.9 1302.0,279.3 1302.2,279.2 1302.4,278.8 1302.5,279.2 1302.7,278.8 1302.9,277.8 1303.1,276.7 1303.3,278.9 1303.5,278.6 1303.6,277.7 1303.8,278.5 1304.0,277.4 1304.2,277.2 1304.4,276.8 1304.6,277.9 1304.8,278.1 1304.9,276.4 1305.1,275.9 1305.3,277.0 1305.5,276.7 1305.7,276.3 1305.9,274.5 1306.0,275.7 1306.2,275.4 1306.4,274.8 1306.6,275.2 1306.8,274.5 1307.0,274.8 1307.1,274.3 1307.3,273.9 1307.5,275.2 1307.7,273.7 1307.9,274.0 1308.1,274.0 1308.2,272.4 1308.4,272.8 1308.6,272.1 1308.8,272.4 1309.0,271.5 1309.2,272.8 1309.3,272.0 1309.5,270.8 1309.7,271.9 1309.9,270.6 1310.1,270.1 1310.3,271.3 1310.4,270.8 1310.6,270.1 1310.8,271.0 1311.0,270.6 1311.2,270.2 1311.4,270.6 1311.5,269.9 1311.7,270.4 1311.9,269.5 1312.1,269.3 1312.3,266.7 1312.5,268.4 1312.6,269.9 1312.8,267.9 1313.0,268.0 1313.2,267.6 1313.4,266.3 1313.6,268.0 1313.7,268.7 1313.9,268.4 1314.1,266.8 1314.3,266.1 1314.5,266.1 1314.7,266.7 1314.8,265.9 1315.0,266.6 1315.2,266.0 1315.4,264.7 1315.6,264.5 1315.8,265.8 1315.9,265.6 1316.1,264.8 1316.3,265.7 1316.5,264.4 1316.7,264.0 1316.9,264.0 1317.0,264.3 1317.2,261.9 1317.4,263.6 1317.6,263.4 1317.8,262.4 1318.0,262.2 1318.1,263.6 1318.3,262.1 1318.5,262.1 1318.7,262.8 1318.9,261.0 1319.1,263.6 1319.2,261.0 1319.4,260.9 1319.6,260.1 1319.8,260.5 1320.0,260.1 1320.2,260.2 1320.3,259.6 1320.5,258.4 1320.7,260.9 1320.9,260.4 1321.1,260.1 1321.3,259.9 1321.4,259.7 1321.6,258.5 1321.8,261.1 1322.0,258.2 1322.2,257.6 1322.4,259.8 1322.5,257.8 1322.7,258.0 1322.9,257.0 1323.1,257.4 1323.3,257.7 1323.5,257.4 1323.6,256.1 1323.8,257.4 1324.0,256.0 1324.2,255.2 1324.4,256.9 1324.6,256.3 1324.7,255.7 1324.9,255.1 1325.1,256.0 1325.3,255.1 1325.5,254.6 1325.7,255.3 1325.8,254.9 1326.0,253.6 1326.2,255.3 1326.4,252.9 1326.6,253.3 1326.8,254.0 1327.0,253.5 1327.1,254.0 1327.3,253.6 1327.5,251.2 1327.7,253.8 1327.9,252.2 1328.1,252.4 1328.2,251.6 1328.4,251.2 1328.6,252.3 1328.8,252.0 1329.0,251.6 1329.2,250.8 1329.3,252.2 1329.5,251.1 1329.7,251.1 1329.9,250.5 1330.1,250.5 1330.3,251.0 1330.4,250.7 1330.6,250.5 1330.8,249.6 1331.0,249.4 1331.2,248.2 1331.4,248.8 1331.5,248.3 1331.7,247.9 1331.9,248.3 1332.1,248.2 1332.3,247.4 1332.5,246.5 1332.6,247.4 1332.8,247.4 1333.0,247.4 1333.2,246.3 1333.4,245.8 1333.6,245.2 1333.7,246.4 1333.9,245.8 1334.1,246.5 1334.3,244.7 1334.5,246.6 1334.7,245.3 1334.8,245.1 1335.0,245.1 1335.2,245.4 1335.4,245.3 1335.6,243.1 1335.8,243.8 1335.9,244.4 1336.1,244.3 1336.3,243.8 1336.5,242.8 1336.7,243.6 1336.9,243.0 1337.0,242.9 1337.2,243.6 1337.4,242.4 1337.6,242.7 1337.8,243.2 1338.0,242.7 1338.1,240.8 1338.3,240.8 1338.5,239.9 1338.7,242.0 1338.9,240.8 1339.1,240.4 1339.2,240.5 1339.4,239.5 1339.6,240.6 1339.8,239.3 1340.0,240.5 1340.2,239.8 1340.3,239.4 1340.5,239.6 1340.7,238.8 1340.9,238.8 1341.1,239.5 1341.3,239.7 1341.4,238.7 1341.6,239.1 1341.8,236.7 1342.0,237.8 1342.2,237.5 1342.4,236.9 1342.5,237.5 1342.7,238.3 1342.9,237.1 1343.1,237.4 1343.3,237.4 1343.5,237.1 1343.6,236.0 1343.8,235.3 1344.0,236.4 1344.2,236.0 1344.4,234.8 1344.6,236.2 1344.7,234.2 1344.9,233.7 1345.1,234.4 1345.3,233.2 1345.5,233.9 1345.7,233.8 1345.8,233.2 1346.0,233.5 1346.2,232.3 1346.4,231.4 1346.6,233.5 1346.8,233.4 1346.9,233.1 1347.1,232.0 1347.3,232.4 1347.5,231.6 1347.7,232.6 1347.9,230.6 1348.1,231.5 1348.2,230.8 1348.4,231.5 1348.6,230.8 1348.8,229.2 1349.0,230.1 1349.2,229.4 1349.3,230.3 1349.5,230.4 1349.7,228.7 1349.9,229.7 1350.1,228.4 1350.3,228.6 1350.4,228.9 1350.6,229.5 1350.8,228.8 1351.0,228.7 1351.2,227.7 1351.4,227.7 1351.5,228.1 1351.7,227.6 1351.9,227.4 1352.1,227.4 1352.3,228.1 1352.5,227.7 1352.6,227.5 1352.8,226.6 1353.0,225.5 1353.2,225.0 1353.4,225.8 1353.6,224.8 1353.7,223.9 1353.9,224.9 1354.1,226.6 1354.3,224.8 1354.5,224.7 1354.7,224.3 1354.8,224.3 1355.0,223.0 1355.2,224.0 1355.4,224.2 1355.6,223.6 1355.8,223.4 1355.9,223.0 1356.1,223.4 1356.3,221.8 1356.5,221.0 1356.7,221.9 1356.9,222.0 1357.0,222.3 1357.2,221.1 1357.4,221.6 1357.6,221.2 1357.8,221.6 1358.0,220.5 1358.1,221.1 1358.3,221.0 1358.5,220.1 1358.7,220.0 1358.9,219.6 1359.1,219.2 1359.2,219.1 1359.4,218.5 1359.6,219.7 1359.8,219.2 1360.0,218.7 1360.2,218.6 1360.3,218.4 1360.5,219.3 1360.7,218.6 1360.9,217.5 1361.1,218.1 1361.3,216.2 1361.4,216.8 1361.6,216.4 1361.8,217.0 1362.0,216.2 1362.2,215.8 1362.4,215.7 1362.5,215.0 1362.7,214.9 1362.9,214.9 1363.1,215.7 1363.3,215.4 1363.5,215.6 1363.6,216.1 1363.8,215.3 1364.0,213.1 1364.2,213.8 1364.4,215.2 1364.6,214.0 1364.7,214.0 1364.9,213.7 1365.4,218.5 1365.4,223.2 1365.4,228.0 1365.4,232.8 1365.4,237.6 1365.4,242.4 1365.8,246.2 1366.0,247.6 1366.2,247.2 1366.4,246.6 1366.5,247.6 1366.7,248.6 1366.9,247.2 1367.1,246.4 1367.3,247.3 1367.5,246.8 1367.6,245.7 1367.8,247.1 1368.0,247.8 1368.2,246.8 1368.4,247.5 1368.6,247.5 1368.7,247.2 1368.9,247.3 1369.1,247.4 1369.3,247.4 1369.5,247.6 1369.7,248.1 1369.8,247.3 1370.0,247.1 1370.2,248.1 1370.4,247.3 1370.6,249.4 1370.8,247.6 1370.9,249.3 1371.1,248.0 1371.3,248.1 1371.5,248.6 1371.7,248.2 1371.9,247.9 1372.0,247.7 1372.2,247.3 1372.4,247.3 1372.6,248.7 1372.8,246.3 1373.0,249.3 1373.1,248.8 1373.3,247.9 1373.5,249.4 1373.7,249.5 1373.9,249.0 1374.1,246.5 1374.2,246.8 1374.4,248.7 1374.6,247.4 1374.8,248.6 1375.0,248.0 1375.2,248.6 1375.3,248.1 1375.5,248.4 1375.7,247.2 1375.9,248.4 1376.1,247.8 1376.3,249.2 1376.4,248.0 1376.6,248.8 1376.8,249.0 1377.0,248.4 1377.2,248.0 1377.4,248.7 1377.5,248.5 1377.7,249.2 1377.9,248.0 1378.1,247.8 1378.3,249.2 1378.5,248.9 1378.6,249.6 1378.8,249.7 1379.0,247.3 1379.2,248.9 1379.4,248.8 1379.6,248.8 1379.7,249.4 1379.9,250.2 1380.1,248.6 1380.3,248.7 1380.5,249.3 1380.7,249.3 1380.8,248.7 1381.0,249.4 1381.2,249.8 1381.4,248.4 1381.6,249.7 1381.8,248.3 1381.9,249.8 1382.1,248.2 1382.3,248.2 1382.5,247.9 1382.7,248.6 1382.9,248.8 1383.0,248.8 1383.2,248.6 1383.4,248.7 1383.6,248.5 1383.8,248.6 1384.0,249.0 1384.1,248.5 1384.3,249.0 1384.5,248.1 1384.7,248.0 1384.9,249.5 1385.1,248.4 1385.2,249.0 1385.4,248.2 1385.6,247.9 1385.8,248.0 1386.0,248.4 1386.2,250.0 1386.3,248.5 1386.5,249.2 1386.7,248.7 1386.9,249.1 1387.1,248.2 1387.3,249.9 1387.4,249.2 1387.6,248.7 1387.8,249.7 1388.0,248.0 1388.2,248.6 1388.4,249.4 1388.6,250.3 1388.7,248.8 1388.9,250.5 1389.1,250.0 1389.3,248.5 1389.5,249.5 1389.7,250.0 1389.8,248.5 1390.0,250.3 1390.2,248.1 1390.4,250.2 1390.6,250.1 1390.8,250.5 1390.9,249.9 1391.1,249.5 1391.3,248.1 1391.5,250.6 1391.7,249.8 1391.9,249.9 1392.0,248.9 1392.2,247.7 1392.4,249.7 1392.6,248.7 1392.8,249.3 1393.0,249.8 1393.1,248.4 1393.3,249.7 1393.5,248.8 1393.7,248.9 1393.9,249.9 1394.1,248.3 1394.2,248.9 1394.4,249.2 1394.6,250.1 1394.8,249.3 1395.0,249.8 1395.2,248.5 1395.3,248.3 1395.5,249.2 1395.7,250.5 1395.9,249.7 1396.1,249.0 1396.3,248.9 1396.4,250.4 1396.6,249.8 1396.8,248.3 1397.0,247.9 1397.2,250.8 1397.4,249.5 1397.5,249.4 1397.7,249.6 1397.9,249.3 1398.1,249.3 1398.3,249.3 1398.5,247.9 1398.6,249.1 1398.8,249.0 1399.0,250.2 1399.2,250.1 1399.4,249.1 1399.6,249.3 1399.7,249.5 1399.9,250.9 1400.1,250.2 1400.3,248.9 1400.5,250.5 1400.7,248.7 1400.8,250.2 1401.0,249.5 1401.2,248.6 1401.4,249.1 1401.6,249.3 1401.8,250.2 1401.9,250.4 1402.1,248.1 1402.3,249.1 1402.5,250.2 1402.7,249.8 1402.9,249.8 1403.0,249.9 1403.2,250.0 1403.4,250.4 1403.6,249.2 1403.8,247.8 1404.0,249.8 1404.1,249.0 1404.3,248.2 1404.5,249.5 1404.7,248.9 1404.9,249.4 1405.1,247.9 1405.2,249.8 1405.4,249.4 1405.6,249.6 1405.8,248.9 1406.0,248.9 1406.2,250.2 1406.3,249.9 1406.5,249.3 1406.7,248.6 1406.9,249.8 1407.1,249.1 1407.3,250.1 1407.4,249.0 1407.6,249.6 1407.8,249.7 1408.0,249.1 1408.2,249.9 1408.4,248.5 1408.5,250.5 1408.7,249.2 1408.9,249.2 1409.1,249.4 1409.3,249.2 1409.5,249.0 1409.6,249.6 1409.8,249.0 1410.0,249.3 1410.2,249.6 1410.4,249.4 1410.6,248.9 1410.8,250.1 1410.9,250.9 1411.1,249.1 1411.3,250.2 1411.5,249.0 1411.7,249.3 1411.9,248.7 1412.0,249.1 1412.2,249.0 1412.4,249.5 1412.6,249.3 1412.8,251.1 1413.0,248.9 1413.1,250.0 1413.3,250.1 1413.5,248.3 1413.7,248.3 1413.9,250.2 1414.1,248.7 1414.2,249.3 1414.4,247.6 1414.6,248.8 1414.8,249.4 1415.0,250.4 1415.2,251.1 1415.3,249.1 1415.5,250.6 1415.7,249.6 1415.9,249.4 1416.1,249.4 1416.3,249.4 1416.4,248.5 1416.6,249.5 1416.8,248.8 1417.0,249.9 1417.2,251.6 1417.4,248.7 1417.5,250.8 1417.7,248.8 1417.9,249.4 1418.1,250.4 1418.3,250.0 1418.5,250.5 1418.6,250.6 1418.8,249.4 1419.0,249.2 1419.2,250.1 1419.4,250.0 1419.6,250.9 1419.7,248.1 1419.9,250.4 1420.1,250.0 1420.3,249.4 1420.5,249.1 1420.7,249.1 1420.8,249.1 1421.0,250.8 1421.2,249.7 1421.4,249.5 1421.6,249.7 1421.8,250.1 1421.9,250.2 1422.1,249.7 1422.3,249.5 1422.5,249.1 1422.7,249.7 1422.9,249.6 1423.0,249.2 1423.2,249.5 1423.4,250.6 1423.6,250.3 1423.8,249.9 1424.0,250.6 1424.1,249.8 1424.3,250.6 1424.5,249.7 1424.7,250.8 1424.9,250.1 1425.1,249.5 1425.2,248.8 1425.4,249.8 1425.6,249.8 1425.8,248.9 1426.0,249.6 1426.2,249.3 1426.3,249.9 1426.5,248.8 1426.7,249.7 1426.9,251.1 1427.1,250.4 1427.3,249.7 1427.4,250.9 1427.6,249.5 1427.8,250.4 1428.0,250.0 1428.2,249.4 1428.4,250.1 1428.5,251.5 1428.7,249.1 1428.9,249.1 1429.1,251.0 1429.3,249.3 1429.5,249.7 1429.6,249.4 1429.8,249.2 1430.0,250.1 1430.2,249.0 1430.4,249.0 1430.6,249.6 1430.7,250.2 1430.9,250.8 1431.1,249.8 1431.3,250.5 1431.5,250.8 1431.7,250.1 1431.9,250.4 1432.0,249.6 1432.2,248.6 1432.4,250.4 1432.6,249.0 1432.8,250.2 1433.0,249.2 1433.1,248.9 1433.3,249.7 1433.5,248.9 1433.7,249.9 1433.9,249.7 1434.1,249.7 1434.2,250.9 1434.4,250.4 1434.6,249.6 1434.8,250.4 1435.0,250.1 1435.2,249.6 1435.3,248.8 1435.5,249.3 1435.7,251.3 1435.9,249.9 1436.1,250.3 1436.3,251.1 1436.4,249.3 1436.6,250.6 1436.8,248.0 1437.0,249.1 1437.2,248.2 1437.4,249.8 1437.5,249.9 1437.7,249.3 1437.9,249.4 1438.1,252.0 1438.3,250.2 1438.5,250.3 1438.6,249.2 1438.8,249.3 1439.0,250.0 1439.2,249.6 1439.4,249.7 1439.6,249.7 1439.7,248.6 1439.9,250.2 1440.1,250.0 1440.3,250.3 1440.5,250.4 1440.7,251.2 1440.8,249.6 1441.0,250.0 1441.2,250.9 1441.4,249.6 1441.6,250.7 1441.8,249.5 1441.9,249.6 1442.1,249.1 1442.3,249.8 1442.5,251.4 1442.7,251.3 1442.9,250.0 1443.0,250.3 1443.2,250.8 1443.4,249.1 1443.6,249.6 1443.8,249.8 1444.0,248.5 1444.1,249.3 1444.3,249.5 1444.5,249.7 1444.7,249.8 1444.9,248.2 1445.1,250.3 1445.2,249.6 1445.4,250.3 1445.6,250.4 1445.8,249.8 1446.0,251.3 1446.2,248.7 1446.3,249.9 1446.5,250.0 1446.7,251.0 1446.9,249.9 1447.1,250.3 1447.3,250.1 1447.4,251.5 1447.6,249.7 1447.8,249.3 1448.0,249.6" fill="none" stroke="#009E73" stroke-width="1" marker-start="url(#mx)" marker-mid="url(#mx)" marker-end="url(#mx)"/>
<!--LEGEND-->
<path d="M1345.5 56H1418.5" stroke="#9400D3" stroke-width="1"/>
<path d="M1378.2 56H1385.8M1382 52.2V59.8" stroke="#9400D3" stroke-width="1"/>
<path d="M1345.5 85H1418.5" stroke="#009E73" stroke-width="1"/>
<path d="M1378.35 81.35L1385.65 88.65M1378.35 88.65L1385.65 81.35" stroke="#009E73" stroke-width="1"/>
<!--BORDER-->
<rect x="127" y="30" width="1321" height="678" fill="none" stroke="#000" stroke-opacity="0.75" stroke-width="2"/>
<!--TEXT-->
<g font-size="25" stroke="#000" stroke-width="0.3" style="opacity:0.999">
<text transform="translate(68.54,123) scale(1.0850,1)">200</text>
<text transform="translate(68.37,292) scale(1.0769,1)">150</text>
<text transform="translate(68.37,462) scale(1.0769,1)">100</text>
<text transform="translate(83.99,631) scale(1.0278,1)">50</text>
<text transform="translate(94.17,745) scale(1.0869,1)">0:00h</text>
<text transform="translate(424.17,745) scale(1.0869,1)">0:30h</text>
<text transform="translate(753.21,745) scale(1.1068,1)">1:00h</text>
<text transform="translate(1083.21,745) scale(1.1034,1)">1:30h</text>
<text transform="translate(1414.95,745) scale(1.0902,1)">2:00h</text>
<text transform="translate(761.53,789) scale(1.1223,1)">time</text>
<text transform="translate(35.3,429.89) rotate(-90) scale(1.0983,1)">offset</text>
<text transform="translate(35.3,354.12) rotate(-90) scale(1.0825,1)">(us)</text>
<text transform="translate(1227.56,64) scale(0.9105,1)">Pi</text>
<text transform="translate(1256.00,64) scale(0.9682,1)">A:</text>
<text transform="translate(1287.21,64) scale(0.8935,1)">PTP</text>
<text transform="translate(1223.73,93) scale(0.9263,1)">Pi</text>
<text transform="translate(1251.78,93) scale(1.0150,1)">B:</text>
<text transform="translate(1283.91,93) scale(0.9312,1)">NTP</text>
</g>
</svg>
</body></html>
